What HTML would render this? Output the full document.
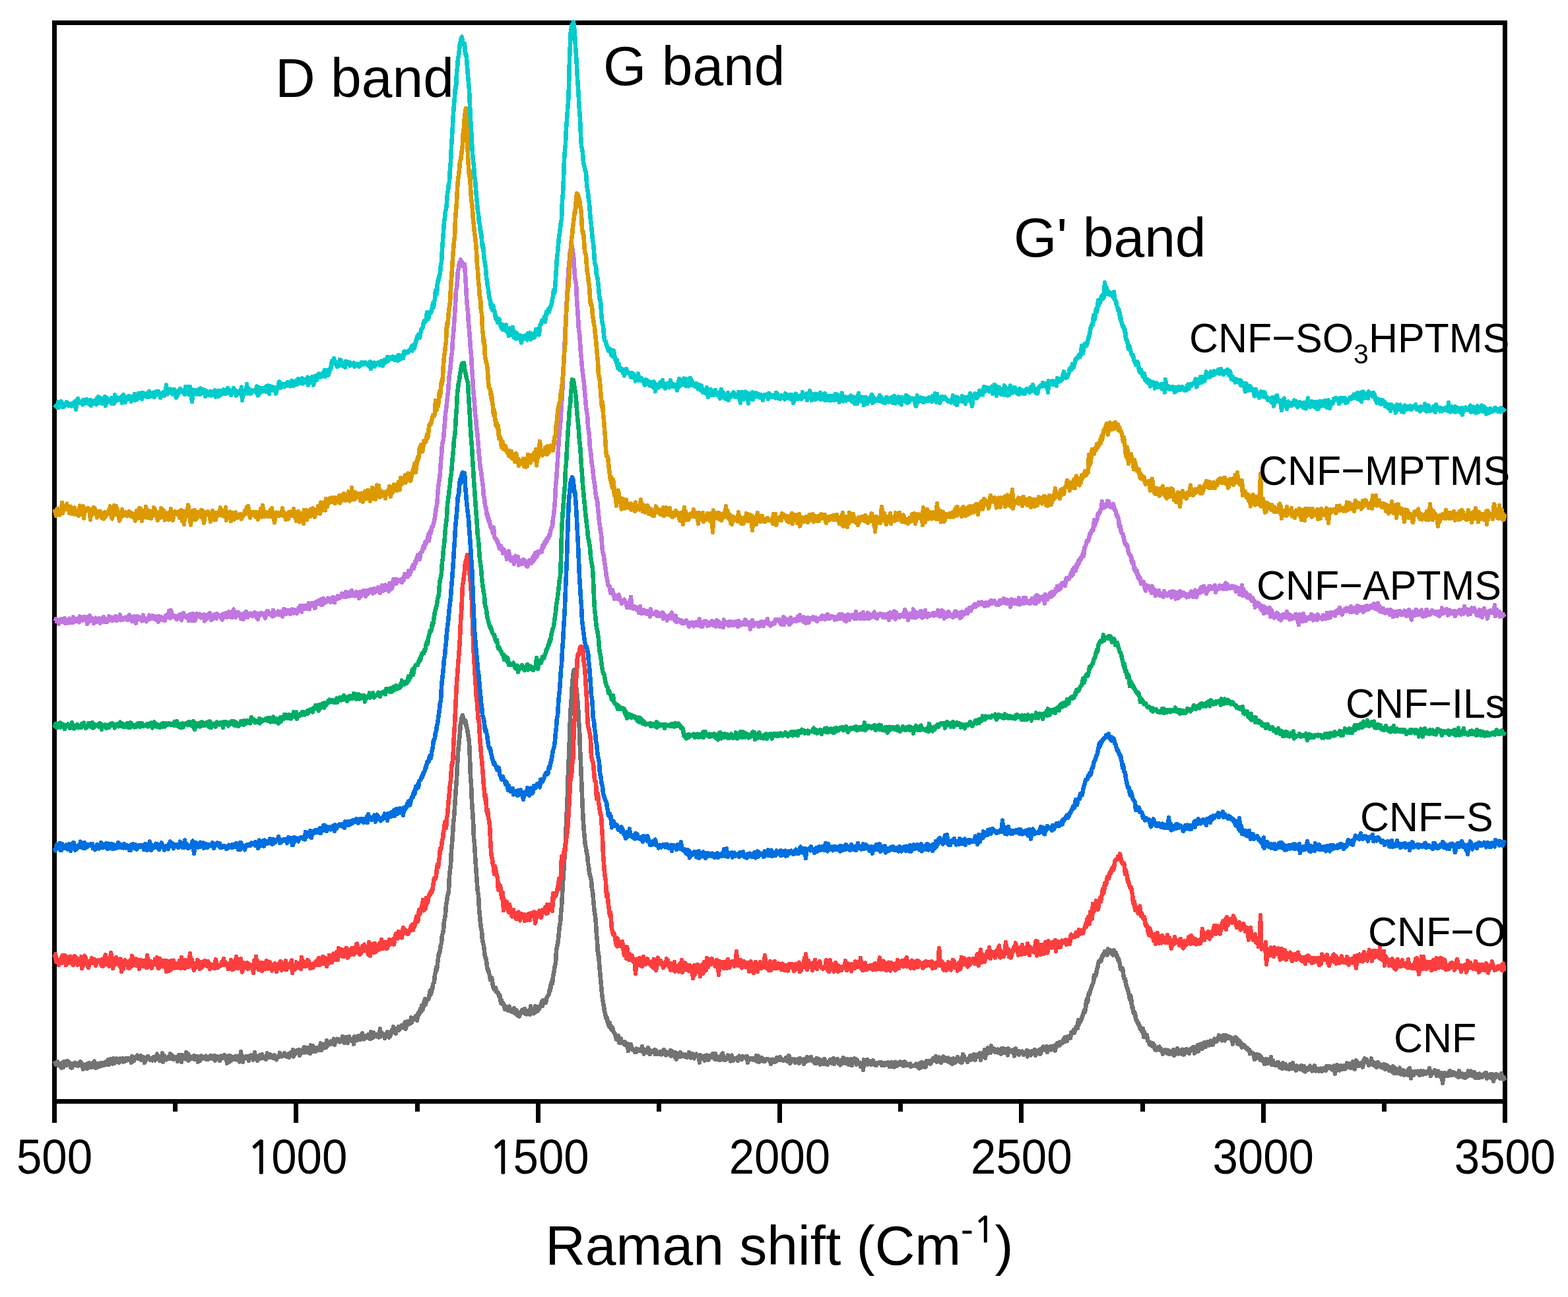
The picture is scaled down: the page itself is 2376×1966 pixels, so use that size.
<!DOCTYPE html>
<html><head><meta charset="utf-8"><title>Raman spectra</title><style>html,body{margin:0;padding:0;background:#fff;overflow:hidden}svg{display:block}</style></head><body>
<svg width="2376" height="1966" viewBox="0 0 2376 1966" font-family="'Liberation Sans', Arial, Helvetica, sans-serif" fill="#000"><rect x="0" y="0" width="2376" height="1966" fill="#fff"/><rect x="82.5" y="34.5" width="2198.0" height="1635.0" fill="none" stroke="#000" stroke-width="7" shape-rendering="crispEdges"/><path d="M82.5 1673.0 V1702.0 M265.7 1673.0 V1685.0 M448.8 1673.0 V1702.0 M632.0 1673.0 V1685.0 M815.2 1673.0 V1702.0 M998.3 1673.0 V1685.0 M1181.5 1673.0 V1702.0 M1364.7 1673.0 V1685.0 M1547.8 1673.0 V1702.0 M1731.0 1673.0 V1685.0 M1914.2 1673.0 V1702.0 M2097.3 1673.0 V1685.0 M2280.5 1673.0 V1702.0" stroke="#000" stroke-width="7" fill="none" shape-rendering="crispEdges"/><g font-size="69" transform="matrix(1 0 0 1.0625 0 -111.19)"><text x="82.5" y="1779.0" text-anchor="middle">500</text><text x="448.8" y="1779.0" text-anchor="middle"><tspan font-family="NanumGothic, 'Liberation Sans', sans-serif" font-size="64.4" stroke="#000" stroke-width="1.4" dx="1.45">1</tspan><tspan dx="-2.1">000</tspan></text><text x="815.2" y="1779.0" text-anchor="middle"><tspan font-family="NanumGothic, 'Liberation Sans', sans-serif" font-size="64.4" stroke="#000" stroke-width="1.4" dx="1.45">1</tspan><tspan dx="-2.1">500</tspan></text><text x="1181.5" y="1779.0" text-anchor="middle">2000</text><text x="1547.8" y="1779.0" text-anchor="middle">2500</text><text x="1914.2" y="1779.0" text-anchor="middle">3000</text><text x="2280.5" y="1779.0" text-anchor="middle">3500</text></g><g fill="none" stroke-width="6.6" stroke-linejoin="round" stroke-linecap="butt" shape-rendering="crispEdges"><path d="M83 1608.2 84 1612.3 85 1613.9 86 1613.3 87 1609.2 88 1615.0 89 1612.0 90 1614.2 91 1614.5 92 1615.6 93 1618.9 94 1611.0 95 1612.9 96 1617.8 97 1609.2 98 1613.9 99 1611.2 100 1613.1 101 1614.6 102 1607.9 103 1610.6 104 1609.5 105 1612.9 106 1611.6 107 1617.9 108 1612.0 109 1618.5 110 1612.6 111 1614.6 112 1614.0 113 1613.9 114 1610.8 115 1614.9 116 1615.1 117 1614.7 118 1615.8 119 1611.8 120 1613.3 121 1612.3 122 1609.4 123 1615.2 124 1612.4 125 1614.0 126 1620.5 127 1614.9 128 1614.5 129 1617.3 130 1617.7 131 1619.3 132 1612.8 133 1619.3 134 1613.9 135 1611.0 136 1611.7 137 1617.4 138 1616.4 139 1617.9 140 1611.7 141 1613.3 142 1610.9 143 1608.8 144 1614.2 145 1618.7 146 1617.4 147 1612.1 148 1617.5 149 1612.6 150 1615.0 151 1616.3 152 1612.7 153 1611.2 154 1615.4 155 1612.9 156 1611.6 157 1614.8 158 1612.2 159 1613.6 160 1609.6 161 1614.1 162 1609.1 163 1610.4 164 1606.0 165 1614.2 166 1611.0 167 1611.7 168 1605.4 169 1610.3 170 1608.5 171 1612.6 172 1604.6 173 1609.7 174 1611.4 175 1604.8 176 1608.2 177 1604.6 178 1607.6 179 1608.1 180 1610.7 181 1607.2 182 1604.6 183 1606.5 184 1606.2 185 1609.1 186 1604.3 187 1609.6 188 1606.2 189 1606.4 190 1608.4 191 1604.1 192 1604.0 193 1606.8 194 1605.1 195 1605.4 196 1604.1 197 1604.3 198 1607.5 199 1610.5 200 1601.1 201 1609.1 202 1606.9 203 1608.1 204 1605.2 205 1602.6 206 1604.0 207 1601.9 208 1599.8 209 1604.2 210 1605.1 211 1603.5 212 1604.8 213 1599.9 214 1607.1 215 1603.7 216 1604.2 217 1606.0 218 1602.4 219 1611.2 220 1607.4 221 1607.3 222 1604.2 223 1601.7 224 1605.1 225 1601.6 226 1604.3 227 1604.2 228 1607.0 229 1604.7 230 1603.9 231 1607.3 232 1603.1 233 1601.9 234 1601.9 235 1607.4 236 1603.4 237 1601.6 238 1597.7 239 1600.3 240 1604.0 241 1604.8 242 1607.8 243 1604.6 244 1604.5 245 1606.7 246 1596.6 247 1609.5 248 1599.8 249 1599.8 250 1605.6 251 1604.1 252 1606.3 253 1604.8 254 1603.8 255 1602.6 256 1600.7 257 1604.6 258 1597.5 259 1602.4 260 1605.1 261 1599.7 262 1605.3 263 1605.7 264 1603.1 265 1602.5 266 1604.5 267 1604.7 268 1602.2 269 1608.7 270 1607.2 271 1599.3 272 1606.9 273 1605.2 274 1599.1 275 1610.1 276 1599.0 277 1603.6 278 1600.0 279 1604.9 280 1604.1 281 1603.8 282 1595.1 283 1605.4 284 1603.9 285 1597.4 286 1607.5 287 1602.8 288 1601.1 289 1604.5 290 1601.8 291 1604.4 292 1602.3 293 1600.8 294 1600.2 295 1605.7 296 1603.7 297 1601.3 298 1601.9 299 1601.0 300 1609.6 301 1604.7 302 1604.1 303 1607.9 304 1601.8 305 1600.6 306 1602.3 307 1604.2 308 1603.2 309 1602.8 310 1604.2 311 1602.5 312 1600.7 313 1605.9 314 1603.1 315 1603.0 316 1605.3 317 1605.1 318 1600.7 319 1601.8 320 1600.0 321 1600.6 322 1604.8 323 1602.6 324 1601.3 325 1600.3 326 1607.6 327 1602.9 328 1604.7 329 1603.8 330 1601.4 331 1605.3 332 1604.4 333 1607.8 334 1605.8 335 1600.6 336 1603.8 337 1603.8 338 1603.9 339 1600.6 340 1599.4 341 1603.8 342 1605.1 343 1600.8 344 1611.6 345 1606.0 346 1602.8 347 1609.9 348 1599.9 349 1601.3 350 1601.1 351 1607.4 352 1602.1 353 1606.2 354 1604.8 355 1602.5 356 1604.5 357 1600.8 358 1606.4 359 1601.3 360 1601.6 361 1606.0 362 1602.7 363 1609.3 364 1607.9 365 1594.2 366 1604.4 367 1603.5 368 1609.9 369 1602.3 370 1602.1 371 1603.3 372 1603.2 373 1601.2 374 1604.5 375 1602.2 376 1601.3 377 1607.9 378 1604.0 379 1600.6 380 1599.7 381 1602.6 382 1600.0 383 1599.8 384 1606.5 385 1602.9 386 1595.0 387 1603.8 388 1601.6 389 1603.4 390 1608.2 391 1603.0 392 1601.4 393 1599.8 394 1604.7 395 1602.4 396 1604.0 397 1598.3 398 1601.7 399 1603.0 400 1604.1 401 1603.3 402 1601.8 403 1606.1 404 1602.4 405 1596.6 406 1598.8 407 1602.1 408 1602.9 409 1598.4 410 1598.7 411 1603.1 412 1602.7 413 1603.0 414 1603.9 415 1602.0 416 1599.5 417 1605.2 418 1604.5 419 1606.3 420 1602.7 421 1601.7 422 1601.8 423 1601.9 424 1595.8 425 1600.4 426 1599.0 427 1601.5 428 1601.2 429 1599.3 430 1598.7 431 1596.0 432 1600.4 433 1598.1 434 1598.2 435 1602.0 436 1601.7 437 1597.6 438 1603.0 439 1600.1 440 1598.0 441 1595.1 442 1594.9 443 1599.7 444 1591.4 445 1601.4 446 1598.3 447 1595.1 448 1597.0 449 1596.3 450 1591.9 451 1593.2 452 1591.8 453 1591.2 454 1599.9 455 1594.5 456 1593.4 457 1596.6 458 1595.1 459 1591.3 460 1590.2 461 1587.3 462 1595.3 463 1591.7 464 1594.8 465 1592.1 466 1588.0 467 1590.0 468 1595.8 469 1589.7 470 1596.8 471 1584.4 472 1588.6 473 1593.4 474 1585.2 475 1593.4 476 1588.8 477 1588.3 478 1593.9 479 1588.1 480 1592.5 481 1588.1 482 1590.0 483 1591.6 484 1589.8 485 1587.4 486 1581.3 487 1592.1 488 1585.1 489 1589.6 490 1583.0 491 1583.4 492 1584.2 493 1583.1 494 1588.1 495 1577.1 496 1585.6 497 1581.9 498 1582.1 499 1580.7 500 1580.9 501 1583.0 502 1578.3 503 1578.0 504 1579.0 505 1581.1 506 1574.8 507 1584.0 508 1577.5 509 1576.5 510 1577.1 511 1574.8 512 1575.1 513 1576.6 514 1578.7 515 1579.3 516 1575.9 517 1576.0 518 1578.0 519 1571.2 520 1575.9 521 1579.3 522 1580.8 523 1575.5 524 1572.0 525 1574.1 526 1579.1 527 1581.2 528 1574.9 529 1571.0 530 1575.6 531 1577.2 532 1577.4 533 1575.8 534 1575.6 535 1574.5 536 1582.5 537 1571.3 538 1578.3 539 1577.2 540 1576.2 541 1571.6 542 1576.3 543 1570.1 544 1573.5 545 1574.0 546 1576.0 547 1571.1 548 1570.7 549 1565.9 550 1572.7 551 1569.4 552 1575.2 553 1570.6 554 1573.4 555 1570.8 556 1571.7 557 1571.1 558 1568.2 559 1573.8 560 1568.9 561 1574.8 562 1564.2 563 1569.6 564 1573.2 565 1573.2 566 1565.2 567 1571.1 568 1570.9 569 1571.1 570 1569.1 571 1567.9 572 1570.5 573 1571.4 574 1572.5 575 1569.3 576 1559.5 577 1571.3 578 1565.2 579 1566.9 580 1567.0 581 1568.6 582 1568.9 583 1573.8 584 1569.9 585 1570.6 586 1566.5 587 1564.4 588 1566.2 589 1565.5 590 1572.5 591 1570.5 592 1568.3 593 1565.1 594 1561.1 595 1563.2 596 1556.5 597 1560.6 598 1563.3 599 1566.3 600 1566.4 601 1559.4 602 1559.6 603 1559.6 604 1556.2 605 1561.3 606 1558.5 607 1556.8 608 1557.6 609 1554.2 610 1554.4 611 1558.1 612 1556.8 613 1553.9 614 1548.9 615 1559.4 616 1553.1 617 1553.9 618 1547.9 619 1551.7 620 1551.1 621 1549.7 622 1551.4 623 1542.5 624 1550.1 625 1544.9 626 1543.7 627 1544.2 628 1544.6 629 1542.9 630 1540.2 631 1541.7 632 1546.8 633 1539.3 634 1535.0 635 1538.0 636 1535.6 637 1529.3 638 1533.4 639 1524.5 640 1528.1 641 1530.3 642 1520.1 643 1520.5 644 1514.1 645 1522.5 646 1515.2 647 1515.4 648 1515.3 649 1515.3 650 1512.8 651 1506.2 652 1501.1 653 1507.1 654 1501.8 655 1499.9 656 1492.4 657 1489.7 658 1489.0 659 1476.4 660 1475.3 661 1466.7 662 1469.7 663 1461.2 664 1452.7 665 1445.3 666 1444.5 667 1438.9 668 1432.1 669 1430.1 670 1417.1 671 1415.1 672 1409.7 673 1396.0 674 1392.3 675 1386.6 676 1371.4 677 1366.8 678 1358.1 679 1355.4 680 1350.0 681 1327.3 682 1318.5 683 1311.4 684 1288.5 685 1278.4 686 1264.7 687 1248.3 688 1239.1 689 1224.2 690 1208.9 691 1193.4 692 1180.4 693 1159.4 694 1141.6 695 1130.4 696 1120.9 697 1110.2 698 1095.6 699 1095.2 700 1085.8 701 1084.1 702 1089.1 703 1092.3 704 1095.8 705 1091.8 706 1096.2 707 1103.2 708 1104.2 709 1112.7 710 1117.8 711 1125.4 712 1149.6 713 1178.4 714 1188.9 715 1215.5 716 1229.5 717 1244.2 718 1270.2 719 1278.9 720 1296.4 721 1312.4 722 1326.0 723 1341.1 724 1352.7 725 1356.3 726 1377.5 727 1388.3 728 1398.7 729 1407.6 730 1410.9 731 1425.1 732 1428.9 733 1433.9 734 1441.7 735 1450.8 736 1451.4 737 1456.1 738 1465.3 739 1470.6 740 1470.0 741 1475.6 742 1478.4 743 1485.2 744 1485.1 745 1481.8 746 1487.0 747 1495.1 748 1497.6 749 1499.5 750 1497.1 751 1497.0 752 1503.3 753 1502.8 754 1504.2 755 1504.8 756 1509.7 757 1508.2 758 1511.6 759 1520.2 760 1516.3 761 1521.9 762 1520.6 763 1522.7 764 1523.2 765 1530.0 766 1525.7 767 1526.4 768 1527.0 769 1526.1 770 1531.7 771 1526.9 772 1525.7 773 1531.5 774 1532.8 775 1533.5 776 1533.5 777 1533.3 778 1529.3 779 1528.3 780 1535.6 781 1534.9 782 1537.4 783 1531.4 784 1538.5 785 1535.5 786 1536.4 787 1540.6 788 1535.0 789 1534.5 790 1533.8 791 1530.8 792 1534.5 793 1530.6 794 1531.6 795 1529.4 796 1536.5 797 1533.9 798 1537.5 799 1532.3 800 1532.7 801 1531.6 802 1530.8 803 1538.1 804 1525.2 805 1536.5 806 1536.0 807 1531.2 808 1532.6 809 1536.2 810 1531.5 811 1525.2 812 1528.6 813 1533.7 814 1526.7 815 1532.3 816 1527.0 817 1529.6 818 1525.4 819 1524.1 820 1524.3 821 1518.4 822 1525.1 823 1516.4 824 1521.1 825 1516.6 826 1519.0 827 1519.7 828 1514.0 829 1510.8 830 1510.0 831 1507.9 832 1506.3 833 1499.4 834 1500.6 835 1490.4 836 1488.5 837 1490.6 838 1479.9 839 1476.2 840 1469.6 841 1462.7 842 1460.3 843 1441.5 844 1435.2 845 1430.8 846 1423.8 847 1413.1 848 1403.7 849 1398.6 850 1384.9 851 1374.5 852 1356.4 853 1337.5 854 1323.7 855 1306.3 856 1288.8 857 1275.3 858 1247.8 859 1227.2 860 1204.3 861 1168.4 862 1147.1 863 1119.9 864 1089.7 865 1068.8 866 1057.8 867 1037.4 868 1026.7 869 1018.4 870 1014.9 871 1025.3 872 1031.8 873 1039.8 874 1049.3 875 1059.2 876 1071.5 877 1093.5 878 1105.1 879 1135.7 880 1156.4 881 1179.9 882 1205.8 883 1228.9 884 1247.6 885 1260.9 886 1271.7 887 1281.6 888 1285.7 889 1292.9 890 1296.1 891 1307.7 892 1313.2 893 1323.0 894 1326.8 895 1330.5 896 1334.0 897 1348.8 898 1350.0 899 1362.4 900 1374.0 901 1383.5 902 1388.8 903 1399.9 904 1416.9 905 1427.0 906 1446.5 907 1444.5 908 1459.4 909 1472.3 910 1483.0 911 1493.9 912 1505.1 913 1513.8 914 1519.9 915 1525.3 916 1533.6 917 1535.2 918 1542.5 919 1541.7 920 1543.5 921 1550.8 922 1552.8 923 1555.8 924 1550.4 925 1557.6 926 1560.4 927 1559.0 928 1557.5 929 1561.5 930 1565.3 931 1565.6 932 1567.2 933 1571.3 934 1575.6 935 1576.0 936 1570.6 937 1569.9 938 1580.5 939 1581.0 940 1578.0 941 1574.7 942 1580.7 943 1579.6 944 1579.5 945 1581.9 946 1583.4 947 1579.4 948 1580.9 949 1585.0 950 1585.8 951 1582.0 952 1593.2 953 1590.6 954 1589.3 955 1590.0 956 1582.9 957 1589.3 958 1591.0 959 1590.1 960 1591.1 961 1592.1 962 1595.0 963 1594.0 964 1589.7 965 1594.4 966 1590.3 967 1592.3 968 1592.8 969 1592.1 970 1591.7 971 1593.2 972 1593.5 973 1585.9 974 1592.6 975 1590.8 976 1597.4 977 1593.8 978 1591.3 979 1594.8 980 1594.0 981 1595.3 982 1588.1 983 1593.0 984 1591.3 985 1598.2 986 1593.8 987 1593.7 988 1594.2 989 1594.3 990 1593.3 991 1592.1 992 1591.2 993 1598.2 994 1592.2 995 1596.4 996 1597.6 997 1596.9 998 1595.3 999 1597.2 1000 1594.0 1001 1594.7 1002 1598.4 1003 1597.8 1004 1592.9 1005 1596.2 1006 1590.9 1007 1595.1 1008 1594.6 1009 1599.5 1010 1594.4 1011 1597.4 1012 1597.6 1013 1597.9 1014 1597.9 1015 1599.0 1016 1592.0 1017 1600.8 1018 1593.0 1019 1595.7 1020 1595.7 1021 1599.9 1022 1595.6 1023 1602.9 1024 1595.4 1025 1605.6 1026 1600.2 1027 1600.9 1028 1599.6 1029 1601.2 1030 1596.7 1031 1594.9 1032 1601.4 1033 1600.9 1034 1598.6 1035 1598.5 1036 1598.8 1037 1599.8 1038 1602.0 1039 1598.6 1040 1600.5 1041 1603.1 1042 1599.3 1043 1601.6 1044 1595.1 1045 1600.2 1046 1599.4 1047 1603.5 1048 1599.3 1049 1597.1 1050 1601.1 1051 1599.0 1052 1604.3 1053 1601.8 1054 1599.5 1055 1597.7 1056 1600.9 1057 1600.3 1058 1600.6 1059 1601.3 1060 1610.6 1061 1599.0 1062 1601.8 1063 1603.7 1064 1604.8 1065 1601.1 1066 1602.3 1067 1600.9 1068 1607.4 1069 1600.0 1070 1602.6 1071 1599.7 1072 1603.9 1073 1600.0 1074 1606.4 1075 1600.5 1076 1601.8 1077 1602.0 1078 1603.1 1079 1600.5 1080 1597.3 1081 1597.1 1082 1601.7 1083 1605.5 1084 1597.1 1085 1603.9 1086 1605.5 1087 1604.5 1088 1602.4 1089 1604.3 1090 1606.8 1091 1606.9 1092 1604.3 1093 1599.3 1094 1601.5 1095 1596.5 1096 1606.2 1097 1603.2 1098 1607.1 1099 1607.2 1100 1603.0 1101 1605.4 1102 1603.4 1103 1599.5 1104 1604.9 1105 1604.3 1106 1604.4 1107 1608.4 1108 1601.3 1109 1599.6 1110 1606.6 1111 1607.4 1112 1605.8 1113 1604.4 1114 1605.0 1115 1604.9 1116 1604.7 1117 1603.5 1118 1607.8 1119 1602.9 1120 1600.8 1121 1604.6 1122 1602.6 1123 1602.1 1124 1606.2 1125 1601.4 1126 1602.0 1127 1603.0 1128 1602.3 1129 1603.6 1130 1603.9 1131 1601.3 1132 1601.1 1133 1610.7 1134 1605.6 1135 1603.9 1136 1606.5 1137 1605.7 1138 1605.5 1139 1604.2 1140 1604.5 1141 1604.1 1142 1607.1 1143 1604.5 1144 1606.7 1145 1606.9 1146 1600.4 1147 1608.7 1148 1606.2 1149 1600.7 1150 1609.7 1151 1608.4 1152 1606.5 1153 1604.0 1154 1603.3 1155 1605.4 1156 1604.6 1157 1608.7 1158 1607.7 1159 1609.0 1160 1606.6 1161 1605.7 1162 1605.5 1163 1605.4 1164 1605.7 1165 1607.2 1166 1606.9 1167 1606.3 1168 1613.1 1169 1606.7 1170 1607.3 1171 1605.9 1172 1609.3 1173 1608.9 1174 1606.8 1175 1609.5 1176 1608.4 1177 1603.1 1178 1603.2 1179 1604.1 1180 1607.1 1181 1604.7 1182 1602.4 1183 1605.1 1184 1606.7 1185 1606.6 1186 1607.3 1187 1606.5 1188 1607.4 1189 1606.4 1190 1604.8 1191 1603.3 1192 1606.9 1193 1608.6 1194 1605.4 1195 1599.9 1196 1601.4 1197 1612.0 1198 1611.2 1199 1605.7 1200 1605.3 1201 1606.6 1202 1607.8 1203 1608.3 1204 1605.8 1205 1611.0 1206 1609.9 1207 1606.3 1208 1609.0 1209 1605.8 1210 1607.4 1211 1611.7 1212 1604.1 1213 1606.2 1214 1606.4 1215 1606.9 1216 1608.6 1217 1607.6 1218 1612.9 1219 1605.4 1220 1610.1 1221 1606.9 1222 1609.1 1223 1602.3 1224 1607.2 1225 1606.5 1226 1607.4 1227 1605.3 1228 1606.5 1229 1602.0 1230 1607.4 1231 1605.8 1232 1607.5 1233 1606.0 1234 1611.3 1235 1607.9 1236 1608.1 1237 1611.9 1238 1603.8 1239 1609.0 1240 1604.9 1241 1606.3 1242 1606.6 1243 1613.7 1244 1606.8 1245 1610.9 1246 1610.6 1247 1612.9 1248 1608.4 1249 1605.4 1250 1605.8 1251 1613.2 1252 1611.0 1253 1613.4 1254 1613.7 1255 1610.3 1256 1609.3 1257 1611.0 1258 1605.8 1259 1608.5 1260 1609.4 1261 1611.6 1262 1604.7 1263 1603.9 1264 1612.8 1265 1611.2 1266 1608.4 1267 1608.2 1268 1609.6 1269 1605.2 1270 1607.4 1271 1612.5 1272 1612.6 1273 1614.3 1274 1611.1 1275 1613.2 1276 1605.9 1277 1606.0 1278 1603.5 1279 1605.9 1280 1604.7 1281 1611.8 1282 1612.0 1283 1606.1 1284 1605.5 1285 1612.8 1286 1613.8 1287 1606.7 1288 1610.9 1289 1614.2 1290 1605.6 1291 1614.7 1292 1610.6 1293 1611.0 1294 1609.4 1295 1604.4 1296 1609.0 1297 1607.7 1298 1613.5 1299 1606.6 1300 1610.2 1301 1610.8 1302 1612.3 1303 1610.9 1304 1616.6 1305 1612.2 1306 1611.5 1307 1611.4 1308 1622.1 1309 1606.6 1310 1608.8 1311 1611.1 1312 1608.9 1313 1611.4 1314 1605.9 1315 1613.5 1316 1612.0 1317 1611.5 1318 1608.4 1319 1613.5 1320 1613.9 1321 1610.0 1322 1611.2 1323 1607.4 1324 1612.1 1325 1611.7 1326 1614.5 1327 1613.0 1328 1615.0 1329 1611.3 1330 1612.3 1331 1611.3 1332 1611.9 1333 1610.1 1334 1611.6 1335 1610.3 1336 1615.1 1337 1613.2 1338 1612.6 1339 1611.0 1340 1615.1 1341 1612.6 1342 1613.8 1343 1611.1 1344 1613.3 1345 1610.6 1346 1610.7 1347 1611.0 1348 1617.2 1349 1613.0 1350 1616.8 1351 1610.2 1352 1613.8 1353 1613.9 1354 1613.8 1355 1617.5 1356 1617.2 1357 1609.8 1358 1615.2 1359 1615.6 1360 1612.8 1361 1612.2 1362 1610.9 1363 1613.9 1364 1609.6 1365 1612.8 1366 1613.8 1367 1611.5 1368 1610.3 1369 1615.7 1370 1613.1 1371 1609.4 1372 1613.1 1373 1614.7 1374 1612.1 1375 1615.0 1376 1614.4 1377 1614.9 1378 1612.9 1379 1612.5 1380 1616.8 1381 1614.7 1382 1615.2 1383 1615.8 1384 1615.1 1385 1615.2 1386 1615.1 1387 1614.4 1388 1612.6 1389 1616.4 1390 1615.0 1391 1613.4 1392 1616.6 1393 1619.5 1394 1611.8 1395 1614.9 1396 1617.8 1397 1610.3 1398 1613.9 1399 1613.4 1400 1611.7 1401 1617.4 1402 1614.8 1403 1617.2 1404 1607.9 1405 1611.5 1406 1608.3 1407 1611.5 1408 1608.7 1409 1609.8 1410 1612.5 1411 1610.1 1412 1606.7 1413 1606.6 1414 1604.2 1415 1608.1 1416 1604.3 1417 1603.7 1418 1601.0 1419 1604.9 1420 1609.6 1421 1603.0 1422 1603.0 1423 1602.7 1424 1604.4 1425 1605.2 1426 1610.9 1427 1607.7 1428 1605.0 1429 1601.7 1430 1608.2 1431 1606.1 1432 1602.9 1433 1605.9 1434 1605.4 1435 1608.5 1436 1606.8 1437 1603.6 1438 1606.8 1439 1610.4 1440 1607.3 1441 1605.3 1442 1605.0 1443 1613.1 1444 1610.2 1445 1604.4 1446 1608.5 1447 1610.6 1448 1609.4 1449 1606.7 1450 1606.9 1451 1601.8 1452 1606.5 1453 1606.7 1454 1609.3 1455 1606.3 1456 1605.3 1457 1611.1 1458 1609.3 1459 1598.1 1460 1600.4 1461 1601.2 1462 1605.5 1463 1605.6 1464 1605.1 1465 1607.6 1466 1610.0 1467 1606.9 1468 1605.3 1469 1605.0 1470 1600.0 1471 1606.4 1472 1602.9 1473 1605.9 1474 1599.7 1475 1601.9 1476 1597.9 1477 1601.3 1478 1606.7 1479 1599.6 1480 1600.1 1481 1599.7 1482 1601.7 1483 1597.6 1484 1598.7 1485 1595.9 1486 1606.9 1487 1597.1 1488 1597.8 1489 1599.5 1490 1597.6 1491 1596.1 1492 1591.0 1493 1604.1 1494 1594.4 1495 1593.9 1496 1596.8 1497 1588.4 1498 1593.2 1499 1589.7 1500 1591.0 1501 1595.9 1502 1585.4 1503 1590.5 1504 1592.5 1505 1588.8 1506 1591.9 1507 1590.6 1508 1595.1 1509 1590.8 1510 1592.2 1511 1591.6 1512 1590.6 1513 1596.0 1514 1592.7 1515 1592.5 1516 1593.7 1517 1597.6 1518 1589.4 1519 1595.8 1520 1589.2 1521 1591.8 1522 1594.3 1523 1595.8 1524 1590.1 1525 1595.9 1526 1594.6 1527 1599.4 1528 1589.4 1529 1594.6 1530 1592.0 1531 1592.4 1532 1593.5 1533 1592.2 1534 1595.2 1535 1594.3 1536 1591.3 1537 1600.7 1538 1594.5 1539 1589.5 1540 1593.9 1541 1594.9 1542 1594.1 1543 1593.4 1544 1598.7 1545 1593.7 1546 1594.1 1547 1594.0 1548 1594.5 1549 1593.8 1550 1596.1 1551 1598.9 1552 1596.3 1553 1596.4 1554 1596.0 1555 1594.7 1556 1592.1 1557 1601.4 1558 1595.5 1559 1593.6 1560 1596.4 1561 1595.6 1562 1599.4 1563 1597.2 1564 1592.9 1565 1594.4 1566 1593.3 1567 1595.1 1568 1591.0 1569 1599.9 1570 1596.1 1571 1595.3 1572 1595.3 1573 1596.0 1574 1591.7 1575 1592.5 1576 1597.9 1577 1597.1 1578 1589.7 1579 1591.1 1580 1591.2 1581 1586.6 1582 1589.7 1583 1590.9 1584 1592.1 1585 1589.8 1586 1585.9 1587 1594.8 1588 1587.0 1589 1591.5 1590 1590.9 1591 1586.7 1592 1591.4 1593 1586.5 1594 1587.9 1595 1590.7 1596 1588.2 1597 1585.3 1598 1586.0 1599 1592.6 1600 1584.2 1601 1585.4 1602 1581.0 1603 1585.0 1604 1581.7 1605 1584.9 1606 1579.6 1607 1583.3 1608 1581.1 1609 1581.3 1610 1581.2 1611 1575.8 1612 1576.1 1613 1572.7 1614 1576.8 1615 1578.5 1616 1572.6 1617 1577.8 1618 1571.5 1619 1573.4 1620 1572.0 1621 1571.1 1622 1573.6 1623 1565.3 1624 1564.6 1625 1564.6 1626 1565.3 1627 1560.9 1628 1565.6 1629 1560.6 1630 1559.0 1631 1556.5 1632 1558.8 1633 1558.6 1634 1546.3 1635 1552.9 1636 1546.7 1637 1549.0 1638 1546.5 1639 1544.7 1640 1541.4 1641 1538.1 1642 1535.6 1643 1531.0 1644 1534.1 1645 1528.4 1646 1518.9 1647 1514.0 1648 1519.3 1649 1510.8 1650 1504.9 1651 1507.2 1652 1501.8 1653 1499.8 1654 1495.5 1655 1492.8 1656 1491.3 1657 1489.0 1658 1478.3 1659 1480.4 1660 1479.4 1661 1477.0 1662 1469.9 1663 1467.4 1664 1462.3 1665 1456.8 1666 1457.4 1667 1458.1 1668 1454.4 1669 1455.7 1670 1449.0 1671 1450.0 1672 1446.5 1673 1446.6 1674 1442.2 1675 1443.0 1676 1442.8 1677 1443.3 1678 1447.7 1679 1438.7 1680 1444.3 1681 1439.9 1682 1441.9 1683 1440.8 1684 1441.5 1685 1445.7 1686 1441.0 1687 1447.4 1688 1440.5 1689 1444.8 1690 1444.8 1691 1444.1 1692 1449.7 1693 1448.7 1694 1454.9 1695 1452.9 1696 1458.4 1697 1461.2 1698 1468.4 1699 1467.6 1700 1467.6 1701 1467.8 1702 1475.3 1703 1482.5 1704 1484.3 1705 1484.3 1706 1490.5 1707 1495.4 1708 1496.8 1709 1501.2 1710 1504.3 1711 1508.5 1712 1514.7 1713 1508.7 1714 1511.6 1715 1525.5 1716 1524.7 1717 1532.2 1718 1536.2 1719 1533.8 1720 1537.4 1721 1543.8 1722 1546.7 1723 1547.4 1724 1551.3 1725 1550.6 1726 1555.1 1727 1555.0 1728 1560.3 1729 1558.2 1730 1562.0 1731 1564.4 1732 1559.1 1733 1571.5 1734 1564.2 1735 1569.4 1736 1570.6 1737 1572.7 1738 1568.8 1739 1577.5 1740 1578.0 1741 1578.8 1742 1583.5 1743 1584.0 1744 1580.7 1745 1580.8 1746 1586.2 1747 1581.5 1748 1584.5 1749 1584.0 1750 1590.6 1751 1588.2 1752 1591.9 1753 1591.5 1754 1587.6 1755 1590.8 1756 1588.7 1757 1586.8 1758 1592.2 1759 1589.6 1760 1592.5 1761 1592.5 1762 1597.6 1763 1592.6 1764 1592.3 1765 1593.8 1766 1591.4 1767 1595.1 1768 1596.3 1769 1593.6 1770 1591.9 1771 1593.3 1772 1597.8 1773 1593.7 1774 1595.7 1775 1593.7 1776 1593.7 1777 1598.0 1778 1591.1 1779 1599.9 1780 1596.7 1781 1598.1 1782 1594.3 1783 1592.6 1784 1588.9 1785 1593.9 1786 1597.3 1787 1596.1 1788 1596.2 1789 1592.4 1790 1597.5 1791 1597.7 1792 1590.8 1793 1591.0 1794 1598.6 1795 1595.7 1796 1596.3 1797 1592.5 1798 1590.3 1799 1592.5 1800 1592.7 1801 1595.9 1802 1596.8 1803 1590.8 1804 1593.3 1805 1589.5 1806 1589.9 1807 1589.8 1808 1587.1 1809 1587.2 1810 1596.5 1811 1587.0 1812 1594.1 1813 1587.5 1814 1590.0 1815 1584.4 1816 1593.7 1817 1589.4 1818 1583.6 1819 1587.1 1820 1588.7 1821 1582.4 1822 1589.7 1823 1584.6 1824 1584.8 1825 1580.3 1826 1582.7 1827 1586.9 1828 1583.2 1829 1581.2 1830 1579.4 1831 1579.9 1832 1584.4 1833 1580.5 1834 1577.7 1835 1583.3 1836 1579.7 1837 1583.8 1838 1583.5 1839 1579.0 1840 1574.7 1841 1575.4 1842 1579.1 1843 1579.2 1844 1575.2 1845 1577.1 1846 1574.7 1847 1569.4 1848 1575.2 1849 1572.9 1850 1573.0 1851 1571.3 1852 1577.2 1853 1572.7 1854 1568.9 1855 1571.6 1856 1577.3 1857 1571.1 1858 1569.6 1859 1572.7 1860 1573.5 1861 1573.6 1862 1571.1 1863 1572.0 1864 1572.2 1865 1575.2 1866 1572.9 1867 1575.1 1868 1582.6 1869 1574.8 1870 1574.9 1871 1574.9 1872 1572.0 1873 1578.0 1874 1574.0 1875 1581.4 1876 1575.7 1877 1582.4 1878 1577.4 1879 1581.9 1880 1579.7 1881 1585.4 1882 1587.5 1883 1583.1 1884 1583.7 1885 1584.2 1886 1585.6 1887 1587.1 1888 1588.8 1889 1590.4 1890 1588.6 1891 1590.9 1892 1591.2 1893 1591.3 1894 1597.2 1895 1593.7 1896 1595.6 1897 1596.6 1898 1597.3 1899 1596.8 1900 1599.0 1901 1606.1 1902 1598.4 1903 1598.8 1904 1603.8 1905 1598.0 1906 1603.8 1907 1600.9 1908 1600.8 1909 1599.7 1910 1606.6 1911 1601.8 1912 1606.0 1913 1604.9 1914 1608.8 1915 1605.6 1916 1612.4 1917 1610.2 1918 1612.2 1919 1605.1 1920 1610.1 1921 1606.7 1922 1611.7 1923 1606.3 1924 1606.3 1925 1608.4 1926 1601.9 1927 1613.7 1928 1612.6 1929 1607.5 1930 1613.4 1931 1613.9 1932 1614.6 1933 1612.3 1934 1610.9 1935 1610.6 1936 1615.0 1937 1610.0 1938 1611.9 1939 1618.0 1940 1618.3 1941 1617.4 1942 1614.2 1943 1619.8 1944 1611.2 1945 1613.3 1946 1616.0 1947 1618.4 1948 1613.0 1949 1619.5 1950 1616.7 1951 1616.9 1952 1616.0 1953 1621.2 1954 1615.5 1955 1613.5 1956 1619.0 1957 1619.9 1958 1618.8 1959 1611.3 1960 1619.8 1961 1617.1 1962 1615.5 1963 1620.5 1964 1622.5 1965 1615.7 1966 1618.7 1967 1616.5 1968 1619.2 1969 1616.9 1970 1621.0 1971 1617.8 1972 1615.0 1973 1620.5 1974 1620.1 1975 1622.9 1976 1616.1 1977 1619.6 1978 1624.4 1979 1619.1 1980 1622.1 1981 1620.8 1982 1621.4 1983 1617.8 1984 1616.7 1985 1615.8 1986 1617.6 1987 1621.3 1988 1623.4 1989 1618.3 1990 1620.7 1991 1622.3 1992 1615.4 1993 1619.3 1994 1623.5 1995 1621.3 1996 1620.2 1997 1620.9 1998 1619.9 1999 1623.6 2000 1621.4 2001 1619.6 2002 1623.3 2003 1623.6 2004 1619.9 2005 1621.7 2006 1619.1 2007 1618.9 2008 1621.7 2009 1622.6 2010 1616.3 2011 1620.4 2012 1618.5 2013 1617.7 2014 1616.4 2015 1616.1 2016 1616.5 2017 1619.8 2018 1620.3 2019 1621.4 2020 1617.4 2021 1615.8 2022 1618.2 2023 1627.6 2024 1617.5 2025 1615.5 2026 1614.2 2027 1618.8 2028 1621.9 2029 1617.0 2030 1622.3 2031 1616.0 2032 1615.0 2033 1616.6 2034 1620.8 2035 1616.2 2036 1615.7 2037 1616.8 2038 1620.5 2039 1618.0 2040 1617.4 2041 1611.4 2042 1615.5 2043 1617.1 2044 1618.0 2045 1618.0 2046 1611.9 2047 1618.7 2048 1613.1 2049 1619.0 2050 1609.3 2051 1616.8 2052 1614.3 2053 1620.6 2054 1613.9 2055 1607.4 2056 1614.9 2057 1611.8 2058 1610.6 2059 1616.2 2060 1614.1 2061 1612.2 2062 1611.5 2063 1612.1 2064 1615.8 2065 1617.5 2066 1608.9 2067 1606.5 2068 1604.5 2069 1606.3 2070 1609.6 2071 1605.8 2072 1608.8 2073 1608.5 2074 1615.0 2075 1609.4 2076 1611.1 2077 1612.7 2078 1604.6 2079 1613.3 2080 1611.3 2081 1612.8 2082 1610.7 2083 1615.4 2084 1611.5 2085 1613.4 2086 1617.6 2087 1617.2 2088 1610.0 2089 1612.2 2090 1614.1 2091 1613.6 2092 1614.8 2093 1617.7 2094 1614.1 2095 1617.6 2096 1618.9 2097 1613.4 2098 1614.1 2099 1620.9 2100 1615.0 2101 1614.6 2102 1617.3 2103 1615.7 2104 1618.2 2105 1623.2 2106 1620.5 2107 1620.6 2108 1618.1 2109 1617.5 2110 1625.0 2111 1616.5 2112 1619.2 2113 1627.2 2114 1622.8 2115 1619.7 2116 1627.0 2117 1622.5 2118 1623.9 2119 1627.1 2120 1622.5 2121 1618.7 2122 1624.4 2123 1628.4 2124 1625.6 2125 1625.8 2126 1622.3 2127 1625.5 2128 1629.6 2129 1628.5 2130 1624.6 2131 1628.3 2132 1624.4 2133 1629.4 2134 1621.5 2135 1625.7 2136 1618.9 2137 1624.5 2138 1634.4 2139 1624.9 2140 1630.0 2141 1627.2 2142 1630.1 2143 1624.4 2144 1624.5 2145 1625.6 2146 1626.2 2147 1623.9 2148 1627.5 2149 1623.8 2150 1627.9 2151 1629.9 2152 1623.8 2153 1623.4 2154 1628.6 2155 1626.8 2156 1628.9 2157 1623.5 2158 1625.3 2159 1627.8 2160 1624.8 2161 1627.4 2162 1626.8 2163 1624.4 2164 1625.8 2165 1624.1 2166 1618.9 2167 1624.9 2168 1631.2 2169 1626.7 2170 1627.8 2171 1625.3 2172 1625.7 2173 1627.0 2174 1621.8 2175 1622.8 2176 1624.0 2177 1630.7 2178 1629.0 2179 1623.5 2180 1625.2 2181 1629.0 2182 1626.3 2183 1632.3 2184 1628.6 2185 1626.6 2186 1641.8 2187 1630.2 2188 1628.5 2189 1626.3 2190 1630.6 2191 1630.7 2192 1627.4 2193 1630.7 2194 1630.8 2195 1630.0 2196 1624.2 2197 1623.2 2198 1628.5 2199 1630.1 2200 1628.0 2201 1625.6 2202 1629.2 2203 1625.5 2204 1626.1 2205 1628.3 2206 1630.3 2207 1630.4 2208 1627.7 2209 1628.4 2210 1632.8 2211 1623.5 2212 1629.4 2213 1630.5 2214 1631.6 2215 1629.1 2216 1627.8 2217 1633.1 2218 1628.2 2219 1629.2 2220 1634.2 2221 1630.2 2222 1628.6 2223 1627.5 2224 1631.6 2225 1623.5 2226 1627.9 2227 1629.5 2228 1630.1 2229 1623.7 2230 1628.3 2231 1630.8 2232 1626.7 2233 1627.3 2234 1625.2 2235 1633.3 2236 1633.6 2237 1633.7 2238 1628.0 2239 1630.2 2240 1631.6 2241 1633.9 2242 1627.7 2243 1632.9 2244 1631.5 2245 1633.0 2246 1632.8 2247 1629.1 2248 1631.6 2249 1629.2 2250 1626.7 2251 1631.3 2252 1625.9 2253 1634.9 2254 1632.9 2255 1629.7 2256 1632.6 2257 1630.0 2258 1631.5 2259 1628.2 2260 1634.0 2261 1627.9 2262 1631.2 2263 1638.9 2264 1633.4 2265 1629.2 2266 1633.6 2267 1627.9 2268 1631.2 2269 1629.1 2270 1629.7 2271 1631.6 2272 1633.3 2273 1634.7 2274 1631.2 2275 1627.0 2276 1632.7 2277 1632.3 2278 1635.7 2279 1633.1 2280 1637.6" stroke="#737373"/><path d="M83 1451.4 84 1445.9 85 1457.8 86 1458.5 87 1453.8 88 1456.9 89 1463.0 90 1460.1 91 1458.6 92 1458.5 93 1451.6 94 1459.9 95 1448.2 96 1454.1 97 1453.7 98 1447.9 99 1455.3 100 1463.2 101 1454.3 102 1450.5 103 1455.6 104 1459.9 105 1456.9 106 1456.1 107 1449.8 108 1458.5 109 1458.4 110 1462.3 111 1463.0 112 1459.5 113 1449.0 114 1450.0 115 1451.6 116 1457.9 117 1453.1 118 1462.5 119 1457.8 120 1458.4 121 1460.2 122 1458.4 123 1450.5 124 1468.0 125 1463.6 126 1463.9 127 1453.7 128 1448.8 129 1450.4 130 1452.4 131 1461.2 132 1461.3 133 1463.9 134 1467.0 135 1459.7 136 1459.0 137 1455.9 138 1456.0 139 1452.4 140 1459.9 141 1459.1 142 1455.9 143 1454.1 144 1459.8 145 1463.7 146 1458.2 147 1459.2 148 1455.5 149 1456.9 150 1456.6 151 1456.8 152 1455.4 153 1459.9 154 1464.0 155 1454.0 156 1464.6 157 1456.5 158 1456.7 159 1448.7 160 1447.5 161 1461.8 162 1453.6 163 1462.2 164 1458.8 165 1459.8 166 1464.7 167 1458.4 168 1444.0 169 1451.0 170 1463.2 171 1467.8 172 1458.5 173 1455.8 174 1452.7 175 1461.5 176 1451.0 177 1453.5 178 1459.1 179 1459.6 180 1458.0 181 1464.0 182 1453.7 183 1453.9 184 1472.7 185 1459.7 186 1457.9 187 1468.4 188 1456.8 189 1462.4 190 1455.6 191 1461.0 192 1457.6 193 1457.9 194 1467.0 195 1458.2 196 1467.5 197 1456.5 198 1457.7 199 1464.8 200 1448.7 201 1452.4 202 1460.0 203 1462.1 204 1462.6 205 1458.6 206 1453.6 207 1463.9 208 1462.1 209 1455.0 210 1460.6 211 1468.4 212 1460.8 213 1454.9 214 1458.4 215 1458.7 216 1461.9 217 1464.5 218 1456.2 219 1457.5 220 1465.2 221 1463.9 222 1466.8 223 1448.3 224 1456.3 225 1465.3 226 1456.3 227 1462.2 228 1460.5 229 1457.4 230 1467.5 231 1460.8 232 1458.6 233 1460.2 234 1462.1 235 1453.8 236 1457.0 237 1455.2 238 1451.4 239 1465.6 240 1467.7 241 1466.6 242 1453.1 243 1463.0 244 1464.4 245 1458.7 246 1465.0 247 1456.2 248 1456.4 249 1457.6 250 1458.1 251 1456.8 252 1472.5 253 1456.6 254 1459.4 255 1458.7 256 1471.7 257 1457.5 258 1461.3 259 1470.0 260 1456.3 261 1457.9 262 1460.3 263 1455.8 264 1467.4 265 1459.7 266 1466.7 267 1464.3 268 1462.0 269 1466.3 270 1460.6 271 1466.8 272 1456.1 273 1458.7 274 1467.6 275 1451.5 276 1464.3 277 1460.3 278 1459.7 279 1459.1 280 1468.1 281 1455.4 282 1466.1 283 1464.5 284 1460.4 285 1462.0 286 1465.6 287 1459.7 288 1445.1 289 1463.7 290 1458.7 291 1454.9 292 1464.4 293 1465.9 294 1470.7 295 1464.1 296 1463.1 297 1466.3 298 1463.9 299 1455.1 300 1460.0 301 1457.1 302 1465.9 303 1468.5 304 1464.4 305 1458.1 306 1466.4 307 1458.5 308 1464.0 309 1457.5 310 1456.6 311 1456.6 312 1463.0 313 1459.9 314 1464.9 315 1457.1 316 1465.2 317 1460.2 318 1468.6 319 1467.6 320 1462.0 321 1463.5 322 1464.1 323 1465.1 324 1461.8 325 1468.0 326 1460.8 327 1454.4 328 1464.2 329 1462.6 330 1466.9 331 1465.8 332 1463.8 333 1463.7 334 1463.8 335 1460.2 336 1457.7 337 1459.5 338 1462.8 339 1453.1 340 1461.3 341 1458.9 342 1462.9 343 1459.7 344 1463.6 345 1462.3 346 1469.2 347 1461.8 348 1462.3 349 1463.5 350 1455.2 351 1458.6 352 1469.9 353 1465.8 354 1463.8 355 1468.3 356 1462.7 357 1462.4 358 1450.1 359 1455.5 360 1467.7 361 1462.7 362 1463.1 363 1462.1 364 1460.7 365 1453.4 366 1464.3 367 1473.4 368 1468.1 369 1462.3 370 1459.5 371 1463.8 372 1465.3 373 1463.1 374 1467.4 375 1459.4 376 1468.5 377 1464.4 378 1462.8 379 1462.4 380 1465.3 381 1467.2 382 1464.1 383 1466.4 384 1474.6 385 1456.4 386 1454.8 387 1461.4 388 1449.8 389 1464.3 390 1456.6 391 1464.4 392 1469.7 393 1468.8 394 1458.9 395 1462.5 396 1467.9 397 1472.1 398 1459.6 399 1460.0 400 1468.9 401 1462.3 402 1459.3 403 1468.6 404 1456.4 405 1460.8 406 1468.3 407 1461.1 408 1467.4 409 1458.4 410 1467.4 411 1466.1 412 1471.3 413 1462.9 414 1462.4 415 1463.5 416 1468.7 417 1460.6 418 1463.3 419 1472.8 420 1467.5 421 1467.2 422 1461.6 423 1467.9 424 1458.8 425 1457.3 426 1459.8 427 1470.4 428 1464.8 429 1459.8 430 1462.4 431 1466.0 432 1469.3 433 1456.6 434 1470.0 435 1468.2 436 1460.8 437 1462.1 438 1466.1 439 1462.6 440 1464.4 441 1459.0 442 1455.5 443 1474.6 444 1464.4 445 1464.6 446 1465.8 447 1469.4 448 1467.5 449 1458.6 450 1462.7 451 1463.4 452 1466.4 453 1460.2 454 1464.5 455 1463.7 456 1468.8 457 1450.8 458 1462.8 459 1459.7 460 1465.2 461 1462.0 462 1458.2 463 1464.8 464 1463.3 465 1457.8 466 1455.3 467 1463.8 468 1457.2 469 1463.9 470 1467.7 471 1461.6 472 1461.6 473 1461.0 474 1466.5 475 1466.4 476 1460.3 477 1463.1 478 1459.8 479 1457.2 480 1462.7 481 1458.7 482 1455.1 483 1452.0 484 1463.1 485 1454.1 486 1453.3 487 1456.9 488 1461.2 489 1450.0 490 1460.4 491 1459.1 492 1451.7 493 1451.8 494 1455.9 495 1465.1 496 1455.0 497 1460.7 498 1459.7 499 1447.9 500 1454.7 501 1458.7 502 1451.6 503 1458.9 504 1448.1 505 1445.8 506 1450.0 507 1454.4 508 1449.2 509 1454.6 510 1443.0 511 1446.8 512 1455.1 513 1437.4 514 1449.3 515 1443.4 516 1443.5 517 1444.9 518 1439.3 519 1449.6 520 1447.6 521 1450.0 522 1444.8 523 1439.4 524 1446.1 525 1436.8 526 1438.3 527 1451.6 528 1446.6 529 1443.5 530 1447.9 531 1439.7 532 1443.5 533 1437.0 534 1438.9 535 1440.6 536 1446.8 537 1436.8 538 1444.5 539 1439.6 540 1431.5 541 1430.6 542 1436.0 543 1443.9 544 1440.1 545 1447.0 546 1439.5 547 1445.0 548 1439.6 549 1434.2 550 1441.5 551 1434.8 552 1431.7 553 1434.6 554 1436.1 555 1438.9 556 1441.5 557 1440.3 558 1446.9 559 1428.5 560 1436.4 561 1448.8 562 1435.6 563 1431.2 564 1433.3 565 1432.2 566 1434.3 567 1444.2 568 1429.9 569 1432.9 570 1442.3 571 1437.1 572 1437.1 573 1433.7 574 1439.4 575 1430.4 576 1439.1 577 1435.1 578 1424.3 579 1431.7 580 1438.1 581 1435.1 582 1431.4 583 1433.4 584 1427.8 585 1438.0 586 1438.0 587 1436.5 588 1432.3 589 1432.8 590 1423.9 591 1427.9 592 1427.9 593 1427.9 594 1430.8 595 1425.4 596 1423.4 597 1431.6 598 1424.1 599 1421.9 600 1415.0 601 1417.1 602 1421.2 603 1422.3 604 1411.8 605 1418.6 606 1419.1 607 1414.4 608 1416.1 609 1421.5 610 1411.1 611 1406.1 612 1411.4 613 1408.6 614 1411.8 615 1414.5 616 1414.8 617 1411.7 618 1415.9 619 1410.6 620 1412.9 621 1409.1 622 1408.0 623 1403.6 624 1405.0 625 1401.3 626 1409.5 627 1401.6 628 1405.0 629 1397.0 630 1399.2 631 1389.1 632 1391.6 633 1396.8 634 1390.8 635 1379.3 636 1385.7 637 1383.1 638 1377.4 639 1373.4 640 1375.6 641 1363.8 642 1380.3 643 1378.2 644 1377.0 645 1377.3 646 1360.9 647 1367.5 648 1368.2 649 1361.3 650 1358.7 651 1354.7 652 1355.5 653 1350.9 654 1353.0 655 1351.1 656 1343.6 657 1337.3 658 1330.9 659 1332.0 660 1332.0 661 1327.1 662 1316.4 663 1310.0 664 1314.4 665 1305.4 666 1298.8 667 1286.8 668 1288.1 669 1282.6 670 1273.1 671 1272.0 672 1260.4 673 1259.4 674 1246.3 675 1248.8 676 1254.8 677 1239.7 678 1236.2 679 1222.4 680 1211.6 681 1201.8 682 1188.9 683 1183.3 684 1165.2 685 1156.1 686 1157.2 687 1135.5 688 1114.2 689 1099.1 690 1077.5 691 1056.1 692 1035.5 693 1024.6 694 1008.9 695 996.9 696 983.7 697 967.3 698 942.8 699 929.0 700 909.3 701 885.4 702 883.4 703 872.7 704 866.5 705 852.7 706 850.5 707 847.1 708 841.1 709 851.1 710 854.0 711 867.0 712 872.9 713 884.2 714 898.9 715 912.6 716 940.8 717 968.8 718 994.5 719 1010.4 720 1026.8 721 1041.5 722 1059.5 723 1064.5 724 1081.5 725 1093.4 726 1091.4 727 1116.5 728 1128.5 729 1142.8 730 1151.7 731 1163.3 732 1176.1 733 1192.0 734 1199.3 735 1211.4 736 1205.6 737 1223.0 738 1233.1 739 1227.5 740 1240.2 741 1243.0 742 1250.7 743 1271.1 744 1289.8 745 1299.3 746 1302.1 747 1311.6 748 1314.2 749 1324.9 750 1312.8 751 1318.6 752 1323.4 753 1327.0 754 1331.8 755 1349.0 756 1340.2 757 1348.7 758 1342.6 759 1349.2 760 1359.3 761 1362.8 762 1353.4 763 1380.1 764 1368.0 765 1364.7 766 1372.7 767 1369.4 768 1367.3 769 1376.3 770 1380.5 771 1382.8 772 1371.1 773 1375.5 774 1380.2 775 1387.1 776 1389.3 777 1382.2 778 1379.3 779 1388.5 780 1384.3 781 1389.3 782 1392.9 783 1391.4 784 1384.2 785 1383.6 786 1382.6 787 1393.4 788 1395.3 789 1385.1 790 1387.4 791 1385.5 792 1389.2 793 1385.9 794 1385.8 795 1395.8 796 1394.2 797 1390.0 798 1395.2 799 1387.0 800 1392.0 801 1385.4 802 1386.2 803 1394.4 804 1384.1 805 1387.8 806 1384.2 807 1383.8 808 1389.7 809 1389.9 810 1382.3 811 1399.4 812 1396.2 813 1384.4 814 1390.2 815 1388.6 816 1384.4 817 1380.7 818 1386.3 819 1384.8 820 1390.7 821 1385.1 822 1378.9 823 1379.6 824 1382.0 825 1382.5 826 1375.0 827 1380.9 828 1385.0 829 1371.2 830 1383.9 831 1373.6 832 1374.9 833 1371.4 834 1374.4 835 1373.5 836 1372.1 837 1381.1 838 1354.5 839 1362.9 840 1356.0 841 1359.0 842 1358.1 843 1353.6 844 1351.3 845 1344.8 846 1347.9 847 1332.5 848 1332.4 849 1330.2 850 1331.4 851 1298.4 852 1308.2 853 1310.2 854 1301.6 855 1287.7 856 1292.9 857 1281.9 858 1272.7 859 1265.4 860 1258.3 861 1241.9 862 1226.4 863 1208.0 864 1187.0 865 1172.8 866 1176.4 867 1155.1 868 1156.2 869 1128.6 870 1095.4 871 1087.5 872 1061.3 873 1031.4 874 1017.5 875 994.3 876 991.2 877 992.7 878 987.4 879 981.4 880 980.3 881 980.7 882 980.5 883 984.5 884 994.6 885 1006.1 886 1011.2 887 1025.2 888 1043.8 889 1058.7 890 1084.0 891 1100.7 892 1103.7 893 1109.0 894 1114.1 895 1120.7 896 1146.3 897 1150.1 898 1154.2 899 1157.4 900 1170.2 901 1181.8 902 1185.3 903 1185.3 904 1210.5 905 1205.6 906 1203.2 907 1216.3 908 1221.8 909 1229.3 910 1234.6 911 1235.7 912 1254.0 913 1269.2 914 1295.4 915 1308.1 916 1322.6 917 1330.2 918 1336.4 919 1358.6 920 1353.0 921 1360.6 922 1371.7 923 1378.8 924 1387.8 925 1383.0 926 1393.8 927 1408.3 928 1411.1 929 1416.5 930 1414.0 931 1417.1 932 1421.8 933 1428.4 934 1432.5 935 1434.4 936 1422.7 937 1432.2 938 1433.8 939 1432.4 940 1433.4 941 1431.1 942 1435.3 943 1427.0 944 1437.8 945 1440.9 946 1447.9 947 1438.4 948 1435.3 949 1452.6 950 1435.4 951 1440.8 952 1451.0 953 1455.1 954 1446.3 955 1449.4 956 1450.1 957 1454.6 958 1448.7 959 1456.3 960 1458.2 961 1454.1 962 1455.3 963 1475.8 964 1456.9 965 1453.8 966 1460.9 967 1461.7 968 1453.1 969 1452.0 970 1463.3 971 1462.5 972 1463.1 973 1464.8 974 1452.1 975 1450.0 976 1462.2 977 1462.1 978 1458.6 979 1461.3 980 1454.6 981 1453.5 982 1457.8 983 1460.3 984 1461.3 985 1458.1 986 1461.4 987 1464.3 988 1461.1 989 1456.7 990 1466.8 991 1453.9 992 1460.7 993 1468.1 994 1470.7 995 1467.0 996 1457.8 997 1451.8 998 1457.9 999 1460.0 1000 1460.9 1001 1455.9 1002 1458.3 1003 1461.9 1004 1461.4 1005 1467.1 1006 1464.0 1007 1464.3 1008 1459.4 1009 1462.4 1010 1453.4 1011 1460.5 1012 1455.4 1013 1463.5 1014 1465.5 1015 1463.8 1016 1470.3 1017 1460.6 1018 1463.4 1019 1461.5 1020 1462.8 1021 1470.4 1022 1458.4 1023 1472.3 1024 1471.2 1025 1468.0 1026 1463.9 1027 1466.8 1028 1464.1 1029 1472.7 1030 1461.2 1031 1462.0 1032 1466.8 1033 1455.5 1034 1473.6 1035 1465.7 1036 1470.7 1037 1468.3 1038 1459.6 1039 1468.0 1040 1469.8 1041 1462.7 1042 1463.6 1043 1463.5 1044 1471.9 1045 1462.8 1046 1464.4 1047 1468.3 1048 1469.3 1049 1466.1 1050 1482.8 1051 1476.2 1052 1463.2 1053 1477.1 1054 1471.1 1055 1472.0 1056 1472.4 1057 1462.5 1058 1462.8 1059 1470.5 1060 1464.7 1061 1480.2 1062 1465.3 1063 1471.1 1064 1462.0 1065 1475.7 1066 1473.9 1067 1458.2 1068 1466.1 1069 1464.3 1070 1470.5 1071 1452.0 1072 1461.0 1073 1466.0 1074 1459.9 1075 1458.1 1076 1454.0 1077 1462.0 1078 1459.1 1079 1453.3 1080 1460.4 1081 1456.5 1082 1461.0 1083 1463.1 1084 1464.8 1085 1461.5 1086 1455.3 1087 1458.9 1088 1458.2 1089 1477.9 1090 1456.8 1091 1467.1 1092 1460.0 1093 1463.3 1094 1458.3 1095 1466.0 1096 1457.8 1097 1468.1 1098 1462.6 1099 1464.4 1100 1463.5 1101 1457.3 1102 1467.5 1103 1454.1 1104 1461.7 1105 1465.0 1106 1466.2 1107 1458.7 1108 1459.5 1109 1460.8 1110 1457.3 1111 1460.9 1112 1458.0 1113 1464.4 1114 1461.4 1115 1458.7 1116 1442.2 1117 1463.3 1118 1459.1 1119 1456.6 1120 1458.0 1121 1464.2 1122 1455.1 1123 1463.8 1124 1467.2 1125 1460.7 1126 1462.3 1127 1457.0 1128 1459.4 1129 1461.4 1130 1465.6 1131 1462.4 1132 1459.1 1133 1461.9 1134 1458.9 1135 1472.4 1136 1461.8 1137 1471.7 1138 1457.6 1139 1460.5 1140 1471.5 1141 1463.8 1142 1474.9 1143 1468.9 1144 1471.6 1145 1458.3 1146 1466.3 1147 1463.9 1148 1472.8 1149 1463.5 1150 1465.6 1151 1461.8 1152 1458.0 1153 1468.2 1154 1463.8 1155 1467.0 1156 1460.9 1157 1465.1 1158 1461.4 1159 1448.0 1160 1466.0 1161 1462.8 1162 1467.8 1163 1460.0 1164 1463.3 1165 1471.1 1166 1461.8 1167 1457.0 1168 1470.8 1169 1464.5 1170 1460.4 1171 1459.8 1172 1467.6 1173 1459.8 1174 1457.2 1175 1467.8 1176 1466.0 1177 1467.6 1178 1462.4 1179 1466.7 1180 1460.4 1181 1463.2 1182 1465.6 1183 1466.0 1184 1469.9 1185 1468.5 1186 1460.8 1187 1462.5 1188 1468.3 1189 1471.0 1190 1467.5 1191 1463.4 1192 1466.4 1193 1470.5 1194 1471.5 1195 1462.7 1196 1460.9 1197 1465.5 1198 1462.5 1199 1465.2 1200 1461.2 1201 1466.6 1202 1467.5 1203 1471.8 1204 1470.8 1205 1466.1 1206 1461.0 1207 1468.9 1208 1462.1 1209 1468.0 1210 1463.5 1211 1458.8 1212 1473.1 1213 1469.5 1214 1470.6 1215 1462.5 1216 1463.8 1217 1465.2 1218 1462.4 1219 1452.1 1220 1466.1 1221 1446.1 1222 1464.0 1223 1469.9 1224 1464.9 1225 1456.2 1226 1460.0 1227 1461.0 1228 1462.1 1229 1465.0 1230 1460.1 1231 1471.1 1232 1463.2 1233 1466.4 1234 1460.2 1235 1454.8 1236 1466.3 1237 1467.7 1238 1468.6 1239 1463.7 1240 1465.0 1241 1460.4 1242 1457.0 1243 1464.5 1244 1466.4 1245 1466.3 1246 1468.0 1247 1468.6 1248 1467.8 1249 1467.6 1250 1465.4 1251 1461.7 1252 1455.3 1253 1465.2 1254 1470.5 1255 1466.5 1256 1473.1 1257 1467.6 1258 1455.6 1259 1469.6 1260 1460.8 1261 1464.6 1262 1463.2 1263 1464.9 1264 1472.4 1265 1470.5 1266 1459.1 1267 1467.2 1268 1462.1 1269 1471.1 1270 1472.5 1271 1463.8 1272 1470.1 1273 1470.6 1274 1469.2 1275 1470.9 1276 1465.5 1277 1467.7 1278 1465.9 1279 1466.5 1280 1466.1 1281 1456.6 1282 1465.2 1283 1470.8 1284 1460.1 1285 1463.6 1286 1461.0 1287 1467.1 1288 1465.9 1289 1469.4 1290 1472.2 1291 1461.6 1292 1462.2 1293 1467.7 1294 1463.1 1295 1468.1 1296 1457.7 1297 1463.9 1298 1460.2 1299 1458.1 1300 1465.6 1301 1459.9 1302 1462.2 1303 1462.5 1304 1451.9 1305 1467.6 1306 1466.0 1307 1470.9 1308 1463.0 1309 1470.7 1310 1465.9 1311 1459.7 1312 1469.2 1313 1469.7 1314 1464.1 1315 1464.3 1316 1466.6 1317 1468.0 1318 1466.6 1319 1463.1 1320 1467.6 1321 1463.6 1322 1463.4 1323 1470.0 1324 1463.1 1325 1460.9 1326 1467.0 1327 1460.4 1328 1469.7 1329 1465.0 1330 1469.1 1331 1464.5 1332 1459.9 1333 1451.7 1334 1460.2 1335 1469.4 1336 1462.1 1337 1468.2 1338 1469.1 1339 1456.7 1340 1462.2 1341 1463.4 1342 1470.5 1343 1471.1 1344 1460.6 1345 1466.8 1346 1465.3 1347 1458.8 1348 1468.7 1349 1471.3 1350 1458.9 1351 1466.5 1352 1460.4 1353 1468.2 1354 1468.3 1355 1461.7 1356 1462.4 1357 1470.4 1358 1462.2 1359 1467.9 1360 1455.1 1361 1456.2 1362 1467.6 1363 1463.8 1364 1461.3 1365 1457.6 1366 1463.4 1367 1456.3 1368 1462.1 1369 1465.2 1370 1460.8 1371 1454.9 1372 1454.4 1373 1459.8 1374 1451.6 1375 1465.3 1376 1458.4 1377 1458.7 1378 1459.9 1379 1458.0 1380 1467.4 1381 1458.4 1382 1455.8 1383 1466.1 1384 1458.1 1385 1468.0 1386 1464.5 1387 1459.2 1388 1461.6 1389 1456.5 1390 1456.1 1391 1466.2 1392 1456.8 1393 1460.4 1394 1459.0 1395 1461.7 1396 1459.9 1397 1461.5 1398 1466.9 1399 1467.3 1400 1459.2 1401 1460.9 1402 1462.0 1403 1457.3 1404 1463.7 1405 1461.1 1406 1459.0 1407 1458.1 1408 1461.3 1409 1462.7 1410 1463.6 1411 1465.0 1412 1457.5 1413 1467.9 1414 1462.5 1415 1466.9 1416 1460.7 1417 1467.2 1418 1462.5 1419 1459.1 1420 1460.6 1421 1463.5 1422 1455.1 1423 1437.5 1424 1452.1 1425 1463.5 1426 1459.0 1427 1457.2 1428 1460.2 1429 1468.5 1430 1470.4 1431 1461.2 1432 1469.3 1433 1464.3 1434 1470.7 1435 1463.5 1436 1466.3 1437 1458.5 1438 1468.7 1439 1467.0 1440 1468.5 1441 1470.4 1442 1461.8 1443 1465.2 1444 1454.8 1445 1459.1 1446 1457.4 1447 1466.5 1448 1465.3 1449 1464.4 1450 1463.2 1451 1471.4 1452 1466.0 1453 1459.5 1454 1469.5 1455 1469.2 1456 1465.1 1457 1450.9 1458 1456.6 1459 1462.5 1460 1458.7 1461 1452.6 1462 1460.2 1463 1456.1 1464 1460.4 1465 1460.1 1466 1465.3 1467 1454.3 1468 1463.0 1469 1453.6 1470 1462.4 1471 1459.6 1472 1459.0 1473 1457.4 1474 1453.3 1475 1457.9 1476 1458.2 1477 1460.9 1478 1456.7 1479 1456.7 1480 1449.3 1481 1445.9 1482 1461.9 1483 1463.5 1484 1451.8 1485 1447.9 1486 1439.7 1487 1459.2 1488 1446.3 1489 1447.4 1490 1451.1 1491 1452.4 1492 1457.7 1493 1454.3 1494 1451.5 1495 1447.8 1496 1442.1 1497 1446.0 1498 1451.1 1499 1436.2 1500 1445.7 1501 1452.7 1502 1449.5 1503 1443.8 1504 1443.2 1505 1447.4 1506 1443.1 1507 1446.5 1508 1451.6 1509 1442.3 1510 1440.7 1511 1448.0 1512 1444.6 1513 1439.2 1514 1433.7 1515 1450.6 1516 1451.2 1517 1441.8 1518 1444.7 1519 1443.3 1520 1444.4 1521 1449.9 1522 1444.3 1523 1441.6 1524 1428.3 1525 1442.7 1526 1445.1 1527 1440.7 1528 1438.8 1529 1450.2 1530 1445.0 1531 1445.4 1532 1451.5 1533 1441.5 1534 1440.4 1535 1443.0 1536 1436.6 1537 1436.8 1538 1436.2 1539 1429.6 1540 1433.6 1541 1441.0 1542 1440.0 1543 1447.4 1544 1438.7 1545 1444.6 1546 1436.1 1547 1443.6 1548 1446.9 1549 1432.0 1550 1444.5 1551 1438.3 1552 1438.2 1553 1445.8 1554 1437.1 1555 1436.6 1556 1445.1 1557 1430.4 1558 1445.4 1559 1434.4 1560 1447.6 1561 1435.5 1562 1441.6 1563 1440.2 1564 1439.2 1565 1441.1 1566 1438.5 1567 1443.5 1568 1441.2 1569 1430.2 1570 1425.9 1571 1448.4 1572 1427.3 1573 1438.0 1574 1434.8 1575 1434.4 1576 1433.1 1577 1446.8 1578 1441.4 1579 1431.8 1580 1439.9 1581 1437.5 1582 1445.6 1583 1436.7 1584 1428.3 1585 1443.9 1586 1444.2 1587 1444.4 1588 1439.1 1589 1426.5 1590 1430.0 1591 1433.3 1592 1435.2 1593 1432.3 1594 1436.6 1595 1428.5 1596 1430.8 1597 1429.5 1598 1432.0 1599 1425.2 1600 1441.7 1601 1427.4 1602 1428.8 1603 1433.8 1604 1427.7 1605 1435.6 1606 1435.2 1607 1435.3 1608 1426.6 1609 1425.8 1610 1427.5 1611 1426.6 1612 1428.3 1613 1429.0 1614 1427.2 1615 1424.6 1616 1431.7 1617 1431.6 1618 1429.3 1619 1427.5 1620 1426.3 1621 1431.2 1622 1420.4 1623 1416.7 1624 1421.0 1625 1421.1 1626 1419.1 1627 1418.8 1628 1418.4 1629 1420.3 1630 1415.1 1631 1413.0 1632 1416.8 1633 1418.9 1634 1415.1 1635 1409.4 1636 1414.4 1637 1411.2 1638 1415.2 1639 1410.0 1640 1411.1 1641 1414.5 1642 1409.9 1643 1407.7 1644 1405.5 1645 1401.1 1646 1405.2 1647 1393.7 1648 1394.6 1649 1390.3 1650 1394.6 1651 1400.6 1652 1382.3 1653 1389.4 1654 1386.4 1655 1392.3 1656 1369.9 1657 1375.7 1658 1381.1 1659 1377.0 1660 1377.5 1661 1365.6 1662 1370.9 1663 1367.6 1664 1378.6 1665 1368.6 1666 1366.6 1667 1361.2 1668 1366.8 1669 1358.0 1670 1356.5 1671 1347.7 1672 1354.0 1673 1351.1 1674 1339.2 1675 1337.9 1676 1340.7 1677 1335.5 1678 1329.5 1679 1332.0 1680 1331.9 1681 1326.2 1682 1321.9 1683 1323.6 1684 1318.5 1685 1315.6 1686 1316.4 1687 1318.4 1688 1315.7 1689 1308.1 1690 1303.7 1691 1303.2 1692 1302.6 1693 1303.1 1694 1298.0 1695 1298.2 1696 1299.8 1697 1294.4 1698 1300.2 1699 1303.6 1700 1308.3 1701 1308.8 1702 1308.0 1703 1308.4 1704 1313.8 1705 1324.4 1706 1319.4 1707 1324.6 1708 1328.8 1709 1336.8 1710 1336.3 1711 1340.0 1712 1344.9 1713 1344.0 1714 1345.3 1715 1351.6 1716 1355.2 1717 1368.1 1718 1371.1 1719 1366.7 1720 1379.2 1721 1378.6 1722 1380.5 1723 1380.7 1724 1381.2 1725 1384.9 1726 1376.3 1727 1373.6 1728 1380.9 1729 1388.3 1730 1383.7 1731 1387.6 1732 1391.3 1733 1392.8 1734 1390.1 1735 1396.1 1736 1403.3 1737 1404.1 1738 1403.5 1739 1404.8 1740 1414.3 1741 1417.3 1742 1407.0 1743 1410.4 1744 1412.3 1745 1418.6 1746 1416.7 1747 1416.1 1748 1425.8 1749 1421.3 1750 1416.1 1751 1430.6 1752 1420.7 1753 1428.7 1754 1413.9 1755 1422.9 1756 1424.5 1757 1429.7 1758 1424.8 1759 1428.7 1760 1429.2 1761 1418.2 1762 1423.7 1763 1423.7 1764 1427.3 1765 1421.2 1766 1429.0 1767 1425.9 1768 1428.5 1769 1417.4 1770 1429.2 1771 1429.1 1772 1421.5 1773 1426.9 1774 1430.5 1775 1437.5 1776 1430.2 1777 1428.6 1778 1424.6 1779 1430.9 1780 1420.1 1781 1425.8 1782 1429.2 1783 1428.7 1784 1427.1 1785 1427.1 1786 1425.8 1787 1433.0 1788 1429.0 1789 1422.9 1790 1431.2 1791 1431.6 1792 1435.2 1793 1437.3 1794 1435.8 1795 1426.6 1796 1431.0 1797 1432.5 1798 1427.7 1799 1429.7 1800 1428.2 1801 1420.7 1802 1428.4 1803 1422.7 1804 1430.8 1805 1418.4 1806 1429.8 1807 1421.1 1808 1424.6 1809 1427.1 1810 1429.7 1811 1422.9 1812 1426.7 1813 1431.4 1814 1425.9 1815 1428.3 1816 1425.3 1817 1430.3 1818 1428.2 1819 1429.7 1820 1423.2 1821 1422.1 1822 1407.9 1823 1416.8 1824 1416.5 1825 1424.9 1826 1418.2 1827 1415.0 1828 1418.0 1829 1415.3 1830 1413.0 1831 1411.9 1832 1421.4 1833 1423.3 1834 1415.5 1835 1416.9 1836 1418.9 1837 1412.4 1838 1415.2 1839 1407.3 1840 1403.3 1841 1408.1 1842 1415.8 1843 1409.6 1844 1403.6 1845 1410.5 1846 1413.3 1847 1410.6 1848 1409.1 1849 1415.4 1850 1403.3 1851 1404.8 1852 1400.2 1853 1396.3 1854 1396.0 1855 1405.9 1856 1403.2 1857 1393.6 1858 1408.9 1859 1390.1 1860 1399.7 1861 1402.3 1862 1395.5 1863 1393.7 1864 1395.7 1865 1393.0 1866 1398.4 1867 1398.9 1868 1395.2 1869 1388.4 1870 1395.5 1871 1392.2 1872 1396.3 1873 1400.1 1874 1405.8 1875 1405.4 1876 1405.7 1877 1400.7 1878 1397.8 1879 1401.7 1880 1409.3 1881 1404.8 1882 1404.1 1883 1400.7 1884 1400.1 1885 1402.3 1886 1407.1 1887 1412.1 1888 1408.5 1889 1405.8 1890 1407.2 1891 1411.9 1892 1424.6 1893 1419.6 1894 1407.2 1895 1406.1 1896 1421.1 1897 1418.6 1898 1420.7 1899 1424.8 1900 1417.3 1901 1423.3 1902 1416.2 1903 1428.4 1904 1423.7 1905 1425.2 1906 1422.3 1907 1435.2 1908 1434.5 1909 1434.3 1910 1387.1 1911 1429.5 1912 1438.5 1913 1433.7 1914 1435.8 1915 1437.1 1916 1434.2 1917 1441.7 1918 1428.1 1919 1462.0 1920 1445.4 1921 1440.8 1922 1442.7 1923 1439.1 1924 1448.4 1925 1437.8 1926 1436.5 1927 1443.2 1928 1439.2 1929 1440.5 1930 1449.8 1931 1436.4 1932 1446.2 1933 1438.5 1934 1444.5 1935 1446.2 1936 1445.8 1937 1437.7 1938 1445.3 1939 1448.1 1940 1454.6 1941 1447.5 1942 1437.8 1943 1443.0 1944 1442.7 1945 1453.1 1946 1451.3 1947 1440.4 1948 1445.6 1949 1454.6 1950 1444.7 1951 1451.5 1952 1447.8 1953 1450.5 1954 1447.5 1955 1443.7 1956 1445.7 1957 1452.4 1958 1457.0 1959 1449.9 1960 1453.0 1961 1453.6 1962 1446.4 1963 1447.0 1964 1454.6 1965 1453.9 1966 1448.3 1967 1443.6 1968 1449.2 1969 1449.5 1970 1454.3 1971 1450.6 1972 1452.1 1973 1456.8 1974 1455.0 1975 1450.9 1976 1457.9 1977 1455.4 1978 1461.1 1979 1450.6 1980 1454.3 1981 1451.8 1982 1448.6 1983 1449.2 1984 1454.7 1985 1456.9 1986 1452.1 1987 1453.5 1988 1460.1 1989 1453.9 1990 1452.5 1991 1458.7 1992 1452.4 1993 1457.3 1994 1452.8 1995 1455.0 1996 1453.6 1997 1452.4 1998 1455.5 1999 1463.0 2000 1458.1 2001 1454.8 2002 1460.8 2003 1446.7 2004 1455.6 2005 1451.6 2006 1449.6 2007 1452.4 2008 1454.2 2009 1450.0 2010 1455.4 2011 1447.5 2012 1459.5 2013 1457.1 2014 1463.9 2015 1457.7 2016 1453.0 2017 1452.2 2018 1456.5 2019 1456.5 2020 1448.2 2021 1446.7 2022 1457.8 2023 1456.2 2024 1449.1 2025 1460.5 2026 1455.4 2027 1452.6 2028 1453.1 2029 1456.5 2030 1459.5 2031 1453.1 2032 1457.9 2033 1449.4 2034 1455.1 2035 1455.1 2036 1459.1 2037 1455.6 2038 1457.6 2039 1458.1 2040 1459.2 2041 1450.4 2042 1452.6 2043 1453.0 2044 1462.4 2045 1458.6 2046 1455.8 2047 1456.1 2048 1453.7 2049 1459.4 2050 1452.7 2051 1456.7 2052 1452.8 2053 1449.2 2054 1456.8 2055 1467.4 2056 1453.0 2057 1448.4 2058 1455.7 2059 1449.4 2060 1446.7 2061 1457.2 2062 1451.4 2063 1452.8 2064 1454.6 2065 1457.3 2066 1446.0 2067 1443.0 2068 1455.2 2069 1448.5 2070 1451.0 2071 1453.5 2072 1456.3 2073 1446.1 2074 1447.0 2075 1439.8 2076 1450.3 2077 1448.7 2078 1448.9 2079 1456.6 2080 1449.7 2081 1441.1 2082 1443.7 2083 1451.1 2084 1441.1 2085 1443.2 2086 1450.1 2087 1443.0 2088 1445.1 2089 1443.6 2090 1451.6 2091 1435.7 2092 1453.4 2093 1447.8 2094 1452.3 2095 1448.0 2096 1456.0 2097 1441.8 2098 1463.5 2099 1456.1 2100 1449.7 2101 1452.3 2102 1456.1 2103 1457.7 2104 1454.6 2105 1463.7 2106 1458.2 2107 1455.9 2108 1459.7 2109 1464.1 2110 1453.5 2111 1456.3 2112 1465.3 2113 1468.3 2114 1460.7 2115 1469.3 2116 1467.9 2117 1455.0 2118 1454.1 2119 1462.7 2120 1465.1 2121 1459.7 2122 1463.0 2123 1457.8 2124 1464.7 2125 1455.4 2126 1462.2 2127 1464.0 2128 1460.3 2129 1461.3 2130 1461.5 2131 1465.5 2132 1459.8 2133 1466.9 2134 1454.2 2135 1467.2 2136 1463.1 2137 1465.5 2138 1465.6 2139 1463.7 2140 1467.7 2141 1464.7 2142 1462.1 2143 1466.5 2144 1468.1 2145 1453.9 2146 1462.9 2147 1452.5 2148 1462.4 2149 1462.2 2150 1476.5 2151 1467.5 2152 1467.3 2153 1465.9 2154 1449.8 2155 1468.8 2156 1459.4 2157 1449.8 2158 1463.0 2159 1461.3 2160 1460.6 2161 1469.0 2162 1461.1 2163 1458.1 2164 1466.6 2165 1457.8 2166 1467.0 2167 1457.9 2168 1465.6 2169 1471.2 2170 1467.0 2171 1459.4 2172 1455.1 2173 1460.5 2174 1455.4 2175 1469.1 2176 1467.3 2177 1452.5 2178 1460.7 2179 1465.0 2180 1467.0 2181 1457.4 2182 1463.0 2183 1452.2 2184 1461.1 2185 1466.4 2186 1453.7 2187 1462.8 2188 1466.6 2189 1455.2 2190 1459.0 2191 1469.9 2192 1463.0 2193 1467.3 2194 1465.9 2195 1469.2 2196 1467.6 2197 1463.4 2198 1460.2 2199 1466.6 2200 1458.9 2201 1460.4 2202 1461.3 2203 1461.9 2204 1470.4 2205 1463.0 2206 1467.1 2207 1455.9 2208 1454.0 2209 1460.7 2210 1463.8 2211 1465.5 2212 1465.0 2213 1463.2 2214 1472.9 2215 1466.9 2216 1464.3 2217 1466.8 2218 1465.3 2219 1463.1 2220 1465.4 2221 1462.3 2222 1473.5 2223 1470.0 2224 1456.5 2225 1461.6 2226 1461.1 2227 1467.0 2228 1459.3 2229 1465.3 2230 1465.9 2231 1467.4 2232 1468.3 2233 1464.8 2234 1461.8 2235 1464.6 2236 1457.5 2237 1469.4 2238 1460.5 2239 1463.5 2240 1462.9 2241 1473.6 2242 1462.3 2243 1463.9 2244 1470.8 2245 1466.7 2246 1462.1 2247 1469.4 2248 1464.1 2249 1468.7 2250 1471.0 2251 1462.1 2252 1460.5 2253 1462.7 2254 1468.0 2255 1474.3 2256 1468.2 2257 1468.8 2258 1463.8 2259 1465.9 2260 1467.1 2261 1457.6 2262 1464.1 2263 1463.7 2264 1466.2 2265 1470.6 2266 1466.8 2267 1470.0 2268 1468.8 2269 1468.7 2270 1464.5 2271 1465.7 2272 1466.7 2273 1464.8 2274 1468.0 2275 1462.9 2276 1470.4 2277 1466.6 2278 1460.7 2279 1471.9 2280 1472.9" stroke="#FD3E3E"/><path d="M83 1285.1 84 1289.4 85 1286.0 86 1280.3 87 1281.6 88 1285.7 89 1283.2 90 1286.6 91 1277.9 92 1289.2 93 1288.6 94 1279.2 95 1282.5 96 1281.6 97 1282.3 98 1286.1 99 1281.9 100 1280.8 101 1285.4 102 1287.2 103 1282.2 104 1284.3 105 1279.4 106 1286.3 107 1290.0 108 1285.2 109 1283.3 110 1277.7 111 1282.1 112 1277.6 113 1285.8 114 1288.6 115 1287.5 116 1284.0 117 1286.2 118 1281.6 119 1284.2 120 1284.2 121 1283.5 122 1275.8 123 1284.2 124 1284.8 125 1281.3 126 1284.7 127 1285.7 128 1277.2 129 1286.0 130 1281.8 131 1279.9 132 1283.7 133 1280.9 134 1281.8 135 1280.2 136 1281.2 137 1279.6 138 1281.4 139 1280.0 140 1279.2 141 1286.2 142 1283.2 143 1284.4 144 1288.2 145 1285.1 146 1283.3 147 1280.0 148 1285.5 149 1284.6 150 1286.2 151 1282.9 152 1282.2 153 1277.2 154 1284.8 155 1278.7 156 1281.8 157 1284.6 158 1283.4 159 1282.9 160 1284.4 161 1278.0 162 1283.3 163 1286.8 164 1286.5 165 1278.8 166 1285.9 167 1284.4 168 1280.3 169 1279.2 170 1282.7 171 1287.1 172 1284.5 173 1280.4 174 1283.4 175 1286.2 176 1282.9 177 1281.8 178 1284.5 179 1277.1 180 1284.4 181 1279.2 182 1282.9 183 1284.2 184 1282.7 185 1280.9 186 1282.0 187 1285.5 188 1279.2 189 1280.5 190 1284.0 191 1285.4 192 1283.1 193 1281.6 194 1285.2 195 1282.0 196 1289.1 197 1287.0 198 1288.6 199 1280.4 200 1281.7 201 1282.4 202 1279.5 203 1281.6 204 1285.9 205 1280.2 206 1282.3 207 1287.5 208 1284.0 209 1284.6 210 1283.2 211 1281.3 212 1282.1 213 1283.9 214 1281.4 215 1283.3 216 1281.8 217 1282.9 218 1287.6 219 1284.9 220 1279.3 221 1282.5 222 1288.4 223 1288.4 224 1279.7 225 1284.3 226 1283.1 227 1275.7 228 1283.9 229 1288.8 230 1280.9 231 1282.1 232 1285.7 233 1281.7 234 1281.7 235 1283.8 236 1278.8 237 1284.4 238 1279.1 239 1283.0 240 1285.2 241 1287.7 242 1280.6 243 1283.5 244 1283.5 245 1277.6 246 1282.5 247 1283.4 248 1284.3 249 1288.5 250 1283.0 251 1282.5 252 1282.5 253 1282.6 254 1284.1 255 1287.2 256 1279.6 257 1282.7 258 1275.7 259 1277.7 260 1283.0 261 1278.2 262 1283.4 263 1286.2 264 1280.0 265 1280.3 266 1282.4 267 1280.9 268 1282.2 269 1280.3 270 1284.8 271 1283.2 272 1282.1 273 1275.8 274 1280.2 275 1282.3 276 1284.2 277 1280.3 278 1283.9 279 1284.6 280 1273.6 281 1284.2 282 1281.6 283 1278.9 284 1281.9 285 1285.8 286 1283.2 287 1282.1 288 1284.4 289 1284.0 290 1282.6 291 1276.7 292 1274.7 293 1277.3 294 1294.0 295 1283.8 296 1277.4 297 1284.0 298 1277.7 299 1282.3 300 1284.3 301 1281.3 302 1283.9 303 1284.1 304 1276.8 305 1281.3 306 1282.9 307 1280.1 308 1277.6 309 1285.6 310 1282.2 311 1279.8 312 1278.9 313 1281.3 314 1284.8 315 1280.0 316 1282.9 317 1282.3 318 1280.8 319 1281.5 320 1281.7 321 1278.8 322 1277.5 323 1283.5 324 1285.6 325 1283.2 326 1279.2 327 1281.6 328 1280.1 329 1277.7 330 1278.7 331 1280.0 332 1283.1 333 1278.4 334 1284.8 335 1281.7 336 1285.0 337 1284.4 338 1282.2 339 1282.0 340 1282.6 341 1282.5 342 1283.7 343 1286.9 344 1283.5 345 1286.2 346 1284.5 347 1280.8 348 1283.2 349 1283.6 350 1284.3 351 1280.8 352 1284.9 353 1280.2 354 1281.3 355 1283.6 356 1282.3 357 1279.4 358 1278.2 359 1280.4 360 1279.9 361 1287.8 362 1278.9 363 1277.8 364 1288.0 365 1277.1 366 1280.1 367 1283.2 368 1281.8 369 1282.6 370 1286.0 371 1288.2 372 1282.2 373 1282.6 374 1280.6 375 1279.9 376 1280.1 377 1281.8 378 1279.7 379 1281.8 380 1279.5 381 1277.6 382 1279.6 383 1279.6 384 1278.8 385 1278.8 386 1281.4 387 1276.1 388 1282.1 389 1277.7 390 1278.9 391 1285.9 392 1281.5 393 1273.7 394 1279.6 395 1282.2 396 1275.6 397 1276.8 398 1281.7 399 1274.2 400 1282.5 401 1273.7 402 1275.3 403 1275.6 404 1275.7 405 1278.9 406 1277.8 407 1276.9 408 1276.9 409 1271.6 410 1274.2 411 1278.9 412 1272.3 413 1279.5 414 1274.9 415 1272.4 416 1277.4 417 1277.1 418 1273.1 419 1273.2 420 1272.3 421 1272.8 422 1268.0 423 1272.4 424 1277.8 425 1272.7 426 1275.1 427 1276.3 428 1274.3 429 1272.4 430 1272.1 431 1272.0 432 1274.4 433 1272.3 434 1275.4 435 1278.2 436 1274.5 437 1269.0 438 1273.8 439 1272.2 440 1271.5 441 1270.4 442 1271.6 443 1281.2 444 1280.9 445 1276.9 446 1269.3 447 1272.1 448 1274.5 449 1270.4 450 1272.9 451 1274.1 452 1275.2 453 1271.9 454 1271.3 455 1269.5 456 1269.0 457 1270.1 458 1269.1 459 1271.4 460 1269.9 461 1268.1 462 1272.5 463 1260.8 464 1268.9 465 1267.9 466 1264.0 467 1264.9 468 1264.8 469 1261.8 470 1259.0 471 1269.5 472 1270.0 473 1260.4 474 1260.8 475 1260.6 476 1262.8 477 1262.4 478 1258.2 479 1260.6 480 1261.3 481 1258.7 482 1262.1 483 1259.6 484 1255.7 485 1255.6 486 1263.2 487 1257.7 488 1255.2 489 1255.3 490 1251.3 491 1258.3 492 1250.8 493 1254.2 494 1259.7 495 1259.9 496 1253.3 497 1256.4 498 1256.4 499 1254.9 500 1253.8 501 1257.4 502 1254.1 503 1255.2 504 1256.6 505 1251.5 506 1251.3 507 1259.9 508 1250.5 509 1256.2 510 1256.1 511 1252.9 512 1251.4 513 1251.8 514 1249.7 515 1251.6 516 1250.6 517 1249.5 518 1249.7 519 1252.8 520 1250.2 521 1249.3 522 1255.0 523 1245.6 524 1250.8 525 1246.4 526 1245.7 527 1249.7 528 1250.7 529 1244.9 530 1249.4 531 1249.4 532 1247.1 533 1248.5 534 1243.6 535 1247.3 536 1242.9 537 1245.1 538 1244.4 539 1245.7 540 1241.2 541 1245.5 542 1245.5 543 1247.5 544 1242.4 545 1245.2 546 1241.4 547 1244.8 548 1241.4 549 1243.4 550 1241.1 551 1246.9 552 1246.5 553 1242.5 554 1242.4 555 1243.0 556 1237.7 557 1247.2 558 1234.2 559 1238.0 560 1240.8 561 1238.4 562 1241.9 563 1242.7 564 1239.8 565 1241.1 566 1238.8 567 1235.7 568 1236.8 569 1245.6 570 1239.7 571 1234.8 572 1236.6 573 1237.2 574 1241.5 575 1239.6 576 1243.1 577 1244.3 578 1240.6 579 1240.2 580 1242.0 581 1237.2 582 1237.5 583 1233.4 584 1240.0 585 1235.2 586 1238.2 587 1243.9 588 1233.2 589 1235.3 590 1233.6 591 1233.0 592 1237.9 593 1231.1 594 1235.9 595 1234.9 596 1237.1 597 1228.6 598 1237.2 599 1235.1 600 1226.7 601 1231.7 602 1233.9 603 1226.0 604 1226.8 605 1231.8 606 1225.3 607 1230.7 608 1231.2 609 1227.6 610 1226.8 611 1235.9 612 1224.0 613 1227.5 614 1226.7 615 1224.0 616 1224.0 617 1218.5 618 1218.8 619 1214.5 620 1217.8 621 1220.6 622 1216.9 623 1211.7 624 1209.1 625 1206.7 626 1208.4 627 1200.0 628 1204.4 629 1200.3 630 1192.6 631 1196.3 632 1194.5 633 1189.3 634 1193.3 635 1183.9 636 1182.9 637 1182.4 638 1181.1 639 1177.1 640 1178.2 641 1171.9 642 1172.9 643 1169.0 644 1167.3 645 1162.3 646 1162.4 647 1156.0 648 1153.6 649 1154.4 650 1154.3 651 1146.1 652 1147.1 653 1148.7 654 1140.5 655 1137.0 656 1131.1 657 1121.8 658 1121.7 659 1118.4 660 1110.1 661 1108.2 662 1099.8 663 1097.9 664 1089.1 665 1082.3 666 1074.9 667 1064.1 668 1063.0 669 1040.4 670 1030.4 671 1021.9 672 1012.3 673 998.2 674 994.6 675 981.2 676 973.5 677 960.1 678 950.4 679 943.1 680 931.7 681 921.5 682 914.2 683 904.9 684 890.3 685 879.1 686 864.6 687 851.0 688 832.5 689 819.6 690 799.9 691 788.8 692 778.7 693 765.5 694 750.7 695 750.4 696 737.2 697 727.1 698 733.0 699 721.2 700 720.5 701 715.9 702 718.5 703 717.8 704 716.9 705 737.2 706 747.3 707 760.6 708 769.7 709 779.0 710 785.7 711 801.6 712 814.4 713 828.0 714 846.6 715 858.9 716 882.0 717 910.8 718 931.7 719 955.2 720 966.9 721 979.9 722 990.7 723 1001.4 724 1015.3 725 1019.4 726 1031.0 727 1043.5 728 1051.8 729 1065.2 730 1070.2 731 1083.5 732 1087.6 733 1088.9 734 1097.3 735 1107.7 736 1105.0 737 1110.9 738 1113.1 739 1122.3 740 1129.3 741 1133.8 742 1134.0 743 1134.5 744 1142.5 745 1144.8 746 1150.8 747 1152.3 748 1157.8 749 1155.5 750 1159.6 751 1161.3 752 1162.4 753 1166.9 754 1162.7 755 1165.0 756 1164.0 757 1172.6 758 1176.3 759 1176.8 760 1181.5 761 1178.8 762 1177.4 763 1182.2 764 1183.2 765 1184.6 766 1188.6 767 1184.6 768 1186.3 769 1189.9 770 1197.9 771 1190.8 772 1198.0 773 1199.4 774 1195.7 775 1196.1 776 1198.5 777 1195.1 778 1204.3 779 1200.8 780 1203.6 781 1199.0 782 1201.5 783 1200.8 784 1205.9 785 1198.6 786 1205.1 787 1202.0 788 1202.0 789 1197.4 790 1201.9 791 1201.3 792 1204.1 793 1212.1 794 1200.9 795 1205.2 796 1203.4 797 1201.5 798 1203.3 799 1194.1 800 1202.1 801 1202.0 802 1206.1 803 1201.2 804 1194.7 805 1202.4 806 1203.0 807 1201.4 808 1200.3 809 1191.1 810 1193.2 811 1195.0 812 1194.1 813 1192.6 814 1188.1 815 1188.8 816 1188.6 817 1191.2 818 1193.3 819 1181.9 820 1185.2 821 1181.1 822 1184.9 823 1181.4 824 1180.4 825 1177.8 826 1173.9 827 1172.0 828 1171.2 829 1172.5 830 1173.3 831 1168.4 832 1162.4 833 1164.6 834 1158.1 835 1153.9 836 1150.2 837 1143.3 838 1137.4 839 1134.8 840 1130.0 841 1123.2 842 1109.9 843 1102.5 844 1087.5 845 1085.2 846 1068.4 847 1054.6 848 1046.3 849 1031.2 850 1014.4 851 1007.8 852 985.7 853 973.3 854 953.5 855 938.8 856 918.9 857 893.3 858 869.4 859 847.3 860 811.8 861 781.6 862 757.6 863 748.9 864 738.5 865 728.4 866 729.5 867 723.4 868 725.6 869 730.9 870 745.6 871 743.7 872 755.4 873 768.8 874 787.9 875 807.9 876 825.7 877 850.9 878 873.8 879 889.3 880 906.3 881 918.2 882 940.2 883 948.1 884 955.9 885 965.1 886 972.6 887 976.1 888 980.7 889 980.5 890 986.1 891 988.6 892 1002.1 893 1010.7 894 1023.3 895 1036.5 896 1055.0 897 1057.7 898 1073.3 899 1090.8 900 1092.3 901 1105.3 902 1109.5 903 1124.3 904 1127.0 905 1138.4 906 1146.6 907 1150.7 908 1155.4 909 1173.4 910 1174.5 911 1182.6 912 1189.9 913 1191.4 914 1203.0 915 1205.5 916 1208.8 917 1211.6 918 1214.9 919 1215.7 920 1223.9 921 1228.6 922 1236.1 923 1236.6 924 1233.5 925 1240.5 926 1237.5 927 1254.4 928 1250.9 929 1246.3 930 1245.1 931 1251.7 932 1250.3 933 1251.8 934 1252.2 935 1250.7 936 1255.3 937 1258.0 938 1256.3 939 1255.9 940 1256.9 941 1261.0 942 1253.6 943 1256.5 944 1258.9 945 1264.4 946 1263.4 947 1265.7 948 1271.2 949 1270.2 950 1261.5 951 1264.7 952 1267.5 953 1263.0 954 1256.6 955 1266.8 956 1266.7 957 1267.2 958 1268.9 959 1266.3 960 1267.7 961 1270.6 962 1271.4 963 1263.3 964 1269.9 965 1264.1 966 1265.3 967 1270.7 968 1271.1 969 1271.3 970 1270.5 971 1271.3 972 1269.4 973 1272.3 974 1276.0 975 1266.9 976 1272.3 977 1271.3 978 1269.5 979 1273.4 980 1274.3 981 1267.3 982 1269.2 983 1275.8 984 1275.7 985 1280.6 986 1277.7 987 1280.8 988 1276.7 989 1275.0 990 1279.3 991 1278.0 992 1279.0 993 1272.7 994 1280.9 995 1279.8 996 1281.0 997 1281.7 998 1285.4 999 1280.7 1000 1280.7 1001 1283.8 1002 1284.4 1003 1282.3 1004 1280.7 1005 1280.3 1006 1279.9 1007 1279.8 1008 1284.2 1009 1280.5 1010 1283.6 1011 1279.8 1012 1284.7 1013 1282.0 1014 1286.0 1015 1284.0 1016 1283.5 1017 1280.8 1018 1290.0 1019 1281.8 1020 1282.3 1021 1281.0 1022 1284.7 1023 1285.0 1024 1282.7 1025 1288.1 1026 1284.0 1027 1280.3 1028 1284.0 1029 1285.3 1030 1284.6 1031 1286.7 1032 1276.6 1033 1286.5 1034 1287.1 1035 1288.9 1036 1287.1 1037 1287.1 1038 1289.3 1039 1293.3 1040 1289.8 1041 1290.6 1042 1288.2 1043 1296.1 1044 1289.6 1045 1300.3 1046 1292.9 1047 1297.4 1048 1292.8 1049 1295.6 1050 1295.0 1051 1293.7 1052 1291.3 1053 1293.5 1054 1290.9 1055 1298.9 1056 1292.3 1057 1299.8 1058 1294.4 1059 1290.2 1060 1300.5 1061 1298.2 1062 1294.2 1063 1293.7 1064 1293.6 1065 1298.2 1066 1291.6 1067 1293.9 1068 1298.2 1069 1300.9 1070 1293.7 1071 1294.1 1072 1293.4 1073 1298.1 1074 1293.4 1075 1294.9 1076 1296.9 1077 1297.5 1078 1297.9 1079 1293.5 1080 1296.1 1081 1296.8 1082 1298.1 1083 1299.9 1084 1298.5 1085 1293.9 1086 1296.6 1087 1293.0 1088 1299.9 1089 1295.5 1090 1295.7 1091 1297.0 1092 1294.6 1093 1298.1 1094 1298.2 1095 1296.8 1096 1296.3 1097 1287.0 1098 1295.0 1099 1297.6 1100 1297.0 1101 1286.4 1102 1298.0 1103 1298.8 1104 1294.2 1105 1293.5 1106 1296.2 1107 1293.1 1108 1293.0 1109 1292.2 1110 1299.4 1111 1296.0 1112 1294.1 1113 1292.7 1114 1297.6 1115 1294.6 1116 1295.0 1117 1295.5 1118 1294.8 1119 1297.0 1120 1298.9 1121 1292.3 1122 1293.2 1123 1297.1 1124 1293.5 1125 1295.8 1126 1291.1 1127 1297.4 1128 1299.1 1129 1299.3 1130 1299.2 1131 1296.9 1132 1300.3 1133 1294.5 1134 1294.4 1135 1297.8 1136 1293.7 1137 1296.4 1138 1294.6 1139 1298.9 1140 1297.6 1141 1299.0 1142 1294.5 1143 1292.4 1144 1299.1 1145 1300.2 1146 1293.4 1147 1292.6 1148 1290.5 1149 1298.7 1150 1291.9 1151 1296.0 1152 1295.9 1153 1296.0 1154 1294.5 1155 1293.7 1156 1297.1 1157 1298.7 1158 1298.5 1159 1290.6 1160 1291.1 1161 1293.1 1162 1295.5 1163 1296.4 1164 1288.4 1165 1294.5 1166 1296.5 1167 1294.1 1168 1293.6 1169 1288.8 1170 1297.9 1171 1295.2 1172 1292.6 1173 1292.2 1174 1295.8 1175 1296.9 1176 1295.6 1177 1289.6 1178 1294.6 1179 1291.2 1180 1292.7 1181 1292.2 1182 1289.8 1183 1296.4 1184 1289.3 1185 1296.6 1186 1290.2 1187 1291.9 1188 1292.5 1189 1293.6 1190 1289.6 1191 1297.4 1192 1291.8 1193 1296.8 1194 1294.6 1195 1292.1 1196 1290.0 1197 1293.3 1198 1293.2 1199 1289.7 1200 1291.5 1201 1293.6 1202 1294.7 1203 1291.3 1204 1291.0 1205 1289.1 1206 1287.7 1207 1293.7 1208 1291.6 1209 1290.1 1210 1294.1 1211 1293.0 1212 1285.7 1213 1283.8 1214 1290.4 1215 1291.6 1216 1292.4 1217 1286.3 1218 1291.3 1219 1291.0 1220 1286.1 1221 1301.2 1222 1286.9 1223 1289.2 1224 1287.4 1225 1287.4 1226 1285.9 1227 1286.3 1228 1289.3 1229 1283.4 1230 1287.5 1231 1287.8 1232 1287.8 1233 1287.5 1234 1292.8 1235 1291.3 1236 1286.8 1237 1285.0 1238 1290.7 1239 1290.0 1240 1284.0 1241 1283.7 1242 1283.6 1243 1289.0 1244 1286.8 1245 1288.1 1246 1283.3 1247 1285.7 1248 1285.8 1249 1288.7 1250 1283.3 1251 1278.1 1252 1284.7 1253 1288.4 1254 1290.3 1255 1279.3 1256 1286.6 1257 1287.4 1258 1285.7 1259 1283.8 1260 1286.3 1261 1284.8 1262 1289.2 1263 1283.2 1264 1287.5 1265 1284.8 1266 1283.3 1267 1287.8 1268 1284.9 1269 1287.3 1270 1286.4 1271 1283.7 1272 1284.2 1273 1290.4 1274 1281.8 1275 1286.1 1276 1288.3 1277 1286.8 1278 1288.5 1279 1282.6 1280 1281.9 1281 1288.1 1282 1280.4 1283 1286.3 1284 1283.8 1285 1283.3 1286 1287.3 1287 1286.0 1288 1288.8 1289 1286.3 1290 1280.1 1291 1283.5 1292 1286.1 1293 1287.3 1294 1283.5 1295 1286.7 1296 1283.3 1297 1288.7 1298 1286.0 1299 1286.4 1300 1277.9 1301 1285.4 1302 1285.8 1303 1283.1 1304 1283.7 1305 1287.3 1306 1283.5 1307 1286.3 1308 1279.6 1309 1287.0 1310 1280.0 1311 1279.9 1312 1285.4 1313 1283.1 1314 1281.8 1315 1286.4 1316 1284.5 1317 1289.3 1318 1285.7 1319 1288.8 1320 1283.0 1321 1286.2 1322 1293.7 1323 1287.0 1324 1283.5 1325 1284.1 1326 1284.8 1327 1287.3 1328 1280.0 1329 1288.2 1330 1286.9 1331 1285.0 1332 1288.2 1333 1279.4 1334 1290.8 1335 1286.4 1336 1288.7 1337 1283.5 1338 1287.2 1339 1286.1 1340 1288.9 1341 1282.6 1342 1292.3 1343 1287.1 1344 1290.8 1345 1286.8 1346 1286.5 1347 1286.5 1348 1289.2 1349 1288.3 1350 1283.9 1351 1284.8 1352 1287.8 1353 1283.1 1354 1287.7 1355 1284.5 1356 1289.0 1357 1287.7 1358 1287.8 1359 1285.7 1360 1289.4 1361 1285.5 1362 1290.4 1363 1283.0 1364 1287.2 1365 1285.0 1366 1290.4 1367 1288.4 1368 1288.4 1369 1284.4 1370 1286.1 1371 1283.2 1372 1283.8 1373 1289.8 1374 1282.8 1375 1286.9 1376 1288.5 1377 1287.7 1378 1290.3 1379 1281.0 1380 1288.6 1381 1290.3 1382 1282.6 1383 1285.3 1384 1284.5 1385 1280.4 1386 1287.2 1387 1282.8 1388 1285.7 1389 1282.2 1390 1280.3 1391 1282.3 1392 1283.8 1393 1288.2 1394 1284.2 1395 1284.9 1396 1279.3 1397 1290.3 1398 1284.6 1399 1285.9 1400 1287.5 1401 1285.2 1402 1281.7 1403 1281.0 1404 1287.5 1405 1278.9 1406 1286.0 1407 1288.3 1408 1281.5 1409 1281.5 1410 1284.5 1411 1284.1 1412 1283.0 1413 1289.9 1414 1279.9 1415 1283.8 1416 1286.6 1417 1278.9 1418 1275.4 1419 1283.5 1420 1275.7 1421 1280.3 1422 1272.6 1423 1277.4 1424 1270.3 1425 1272.1 1426 1272.4 1427 1275.8 1428 1278.3 1429 1279.4 1430 1274.9 1431 1271.0 1432 1266.3 1433 1276.8 1434 1275.0 1435 1265.4 1436 1278.7 1437 1278.4 1438 1280.8 1439 1280.5 1440 1280.7 1441 1276.4 1442 1274.2 1443 1273.6 1444 1275.0 1445 1277.1 1446 1271.3 1447 1275.5 1448 1277.1 1449 1280.5 1450 1275.2 1451 1275.2 1452 1275.0 1453 1279.8 1454 1271.0 1455 1278.2 1456 1272.4 1457 1275.4 1458 1279.2 1459 1275.3 1460 1276.2 1461 1273.6 1462 1271.7 1463 1280.5 1464 1275.6 1465 1277.0 1466 1275.1 1467 1276.1 1468 1273.0 1469 1277.6 1470 1273.4 1471 1274.7 1472 1275.1 1473 1275.1 1474 1275.7 1475 1273.7 1476 1275.6 1477 1273.4 1478 1267.7 1479 1270.4 1480 1274.1 1481 1279.8 1482 1269.3 1483 1265.2 1484 1272.0 1485 1276.2 1486 1266.7 1487 1267.5 1488 1266.7 1489 1270.6 1490 1260.4 1491 1267.8 1492 1265.0 1493 1264.1 1494 1263.1 1495 1265.1 1496 1265.6 1497 1258.2 1498 1261.0 1499 1263.8 1500 1257.4 1501 1263.7 1502 1263.3 1503 1260.7 1504 1256.3 1505 1257.9 1506 1259.2 1507 1258.6 1508 1260.7 1509 1260.6 1510 1262.8 1511 1260.5 1512 1260.1 1513 1260.7 1514 1261.3 1515 1259.3 1516 1258.2 1517 1259.7 1518 1261.1 1519 1243.7 1520 1259.6 1521 1259.0 1522 1256.7 1523 1263.7 1524 1259.6 1525 1254.0 1526 1264.3 1527 1262.0 1528 1253.0 1529 1262.6 1530 1262.2 1531 1261.0 1532 1263.5 1533 1259.5 1534 1264.0 1535 1259.2 1536 1261.6 1537 1260.5 1538 1261.4 1539 1260.7 1540 1258.2 1541 1262.0 1542 1260.3 1543 1262.1 1544 1257.3 1545 1263.6 1546 1257.6 1547 1257.6 1548 1259.6 1549 1264.5 1550 1261.7 1551 1261.2 1552 1262.6 1553 1259.6 1554 1261.7 1555 1263.5 1556 1261.5 1557 1258.0 1558 1266.5 1559 1262.1 1560 1257.3 1561 1259.5 1562 1271.6 1563 1262.6 1564 1258.9 1565 1256.8 1566 1257.6 1567 1261.4 1568 1264.2 1569 1263.4 1570 1261.9 1571 1262.2 1572 1261.7 1573 1260.8 1574 1263.0 1575 1259.6 1576 1262.1 1577 1253.0 1578 1254.7 1579 1261.1 1580 1258.7 1581 1254.7 1582 1263.6 1583 1264.5 1584 1258.1 1585 1258.5 1586 1255.1 1587 1252.1 1588 1256.2 1589 1254.2 1590 1256.0 1591 1255.1 1592 1254.1 1593 1255.1 1594 1258.9 1595 1251.0 1596 1253.8 1597 1256.7 1598 1253.9 1599 1252.3 1600 1250.6 1601 1248.0 1602 1247.9 1603 1251.8 1604 1247.5 1605 1252.2 1606 1250.3 1607 1247.9 1608 1248.7 1609 1244.5 1610 1249.4 1611 1242.0 1612 1244.4 1613 1241.9 1614 1240.8 1615 1237.7 1616 1239.3 1617 1235.5 1618 1239.8 1619 1235.9 1620 1236.5 1621 1232.3 1622 1231.9 1623 1230.7 1624 1227.4 1625 1227.4 1626 1222.5 1627 1222.3 1628 1224.5 1629 1216.9 1630 1212.1 1631 1218.0 1632 1220.2 1633 1212.5 1634 1211.7 1635 1209.8 1636 1211.1 1637 1203.0 1638 1204.1 1639 1201.9 1640 1204.7 1641 1197.9 1642 1193.8 1643 1189.9 1644 1187.2 1645 1182.3 1646 1181.6 1647 1181.3 1648 1180.5 1649 1175.6 1650 1177.4 1651 1172.7 1652 1171.1 1653 1174.3 1654 1166.7 1655 1164.3 1656 1163.8 1657 1158.6 1658 1153.9 1659 1152.8 1660 1149.7 1661 1147.4 1662 1144.2 1663 1142.4 1664 1136.1 1665 1132.0 1666 1126.6 1667 1131.1 1668 1124.3 1669 1125.9 1670 1123.6 1671 1121.3 1672 1119.7 1673 1120.3 1674 1118.7 1675 1118.0 1676 1114.5 1677 1115.5 1678 1115.7 1679 1115.3 1680 1112.5 1681 1119.1 1682 1119.6 1683 1117.7 1684 1122.5 1685 1117.7 1686 1121.9 1687 1120.6 1688 1119.8 1689 1126.8 1690 1127.1 1691 1130.0 1692 1134.9 1693 1137.8 1694 1136.9 1695 1139.9 1696 1143.7 1697 1145.0 1698 1145.2 1699 1152.1 1700 1154.4 1701 1163.8 1702 1159.3 1703 1167.6 1704 1171.2 1705 1171.0 1706 1180.8 1707 1184.4 1708 1189.4 1709 1193.6 1710 1194.3 1711 1194.0 1712 1204.0 1713 1205.5 1714 1200.5 1715 1204.5 1716 1208.7 1717 1211.9 1718 1213.2 1719 1214.5 1720 1217.1 1721 1227.9 1722 1224.9 1723 1223.1 1724 1228.2 1725 1224.9 1726 1223.9 1727 1231.0 1728 1230.6 1729 1231.1 1730 1231.3 1731 1232.8 1732 1239.9 1733 1237.8 1734 1238.6 1735 1243.5 1736 1241.9 1737 1240.9 1738 1240.7 1739 1242.2 1740 1243.1 1741 1244.2 1742 1242.7 1743 1250.1 1744 1253.2 1745 1247.2 1746 1245.2 1747 1249.7 1748 1241.6 1749 1245.2 1750 1247.6 1751 1250.9 1752 1252.1 1753 1249.7 1754 1252.2 1755 1247.9 1756 1248.4 1757 1249.7 1758 1252.8 1759 1250.8 1760 1254.1 1761 1248.5 1762 1252.6 1763 1254.2 1764 1249.9 1765 1255.1 1766 1252.0 1767 1250.5 1768 1254.3 1769 1251.6 1770 1254.9 1771 1239.0 1772 1253.0 1773 1255.6 1774 1248.6 1775 1258.3 1776 1252.3 1777 1257.5 1778 1252.5 1779 1256.1 1780 1255.9 1781 1255.1 1782 1249.6 1783 1255.6 1784 1249.3 1785 1254.7 1786 1254.6 1787 1253.2 1788 1253.9 1789 1251.4 1790 1254.4 1791 1253.7 1792 1257.3 1793 1259.7 1794 1256.5 1795 1257.4 1796 1251.0 1797 1251.1 1798 1255.1 1799 1250.6 1800 1255.9 1801 1251.5 1802 1257.2 1803 1252.3 1804 1251.3 1805 1257.0 1806 1253.5 1807 1252.3 1808 1252.8 1809 1247.6 1810 1245.2 1811 1253.6 1812 1244.1 1813 1247.6 1814 1243.9 1815 1249.0 1816 1241.5 1817 1246.2 1818 1248.1 1819 1248.4 1820 1248.2 1821 1244.1 1822 1246.0 1823 1242.1 1824 1246.0 1825 1247.3 1826 1243.0 1827 1246.1 1828 1251.1 1829 1241.3 1830 1242.5 1831 1243.4 1832 1240.3 1833 1239.8 1834 1246.9 1835 1238.2 1836 1239.3 1837 1242.3 1838 1236.7 1839 1237.8 1840 1240.1 1841 1236.5 1842 1237.5 1843 1235.6 1844 1235.7 1845 1234.8 1846 1231.9 1847 1238.8 1848 1236.3 1849 1235.3 1850 1233.4 1851 1235.0 1852 1235.5 1853 1230.3 1854 1239.1 1855 1236.5 1856 1234.3 1857 1236.4 1858 1237.0 1859 1239.0 1860 1237.1 1861 1241.1 1862 1236.7 1863 1240.8 1864 1237.8 1865 1238.6 1866 1241.9 1867 1241.9 1868 1241.5 1869 1244.7 1870 1243.6 1871 1243.6 1872 1250.8 1873 1249.5 1874 1245.1 1875 1252.6 1876 1252.5 1877 1256.6 1878 1240.3 1879 1259.4 1880 1259.0 1881 1252.1 1882 1263.6 1883 1260.3 1884 1261.1 1885 1264.9 1886 1259.4 1887 1261.6 1888 1259.4 1889 1266.6 1890 1266.1 1891 1267.3 1892 1259.7 1893 1259.3 1894 1266.9 1895 1272.0 1896 1268.8 1897 1267.4 1898 1268.0 1899 1264.4 1900 1272.1 1901 1268.6 1902 1268.6 1903 1269.9 1904 1268.8 1905 1267.3 1906 1270.1 1907 1272.9 1908 1270.9 1909 1271.7 1910 1276.3 1911 1277.1 1912 1274.7 1913 1275.9 1914 1283.3 1915 1269.7 1916 1285.5 1917 1279.5 1918 1276.7 1919 1276.5 1920 1276.0 1921 1277.0 1922 1278.9 1923 1283.8 1924 1282.7 1925 1280.8 1926 1285.3 1927 1279.6 1928 1284.2 1929 1281.7 1930 1285.6 1931 1279.1 1932 1280.6 1933 1287.2 1934 1282.2 1935 1285.0 1936 1284.1 1937 1285.1 1938 1278.1 1939 1279.2 1940 1276.9 1941 1283.1 1942 1276.9 1943 1285.4 1944 1279.9 1945 1280.4 1946 1284.7 1947 1288.5 1948 1284.8 1949 1282.5 1950 1288.1 1951 1283.1 1952 1282.4 1953 1281.1 1954 1282.5 1955 1286.3 1956 1281.3 1957 1284.9 1958 1281.1 1959 1285.8 1960 1279.7 1961 1284.9 1962 1286.8 1963 1279.8 1964 1283.2 1965 1282.2 1966 1284.5 1967 1287.3 1968 1283.2 1969 1278.9 1970 1293.2 1971 1284.4 1972 1284.7 1973 1285.9 1974 1288.3 1975 1283.0 1976 1286.0 1977 1285.5 1978 1287.5 1979 1283.1 1980 1283.5 1981 1275.1 1982 1286.4 1983 1285.2 1984 1289.7 1985 1282.7 1986 1291.1 1987 1282.7 1988 1285.8 1989 1289.0 1990 1283.7 1991 1287.6 1992 1289.8 1993 1278.5 1994 1281.8 1995 1285.4 1996 1284.8 1997 1286.6 1998 1287.5 1999 1280.3 2000 1287.9 2001 1287.0 2002 1283.3 2003 1287.1 2004 1288.0 2005 1284.1 2006 1283.7 2007 1286.3 2008 1286.2 2009 1290.2 2010 1282.5 2011 1282.1 2012 1283.3 2013 1289.0 2014 1287.0 2015 1290.3 2016 1281.0 2017 1282.3 2018 1284.0 2019 1287.2 2020 1280.9 2021 1284.2 2022 1285.8 2023 1282.9 2024 1282.8 2025 1284.8 2026 1285.4 2027 1280.9 2028 1285.2 2029 1284.5 2030 1283.2 2031 1279.3 2032 1284.0 2033 1279.5 2034 1280.0 2035 1284.7 2036 1286.9 2037 1282.7 2038 1281.6 2039 1283.8 2040 1281.0 2041 1282.2 2042 1275.8 2043 1273.3 2044 1278.4 2045 1277.4 2046 1274.9 2047 1279.3 2048 1274.6 2049 1278.2 2050 1280.5 2051 1273.4 2052 1273.7 2053 1272.1 2054 1266.6 2055 1271.1 2056 1269.7 2057 1269.6 2058 1268.5 2059 1268.2 2060 1272.2 2061 1268.4 2062 1263.3 2063 1271.0 2064 1270.5 2065 1271.7 2066 1268.4 2067 1267.7 2068 1270.2 2069 1270.1 2070 1267.8 2071 1269.9 2072 1271.1 2073 1275.2 2074 1269.4 2075 1271.0 2076 1268.7 2077 1268.4 2078 1267.7 2079 1267.0 2080 1264.9 2081 1274.8 2082 1275.2 2083 1272.3 2084 1270.1 2085 1271.2 2086 1274.4 2087 1272.4 2088 1269.2 2089 1272.5 2090 1271.0 2091 1273.8 2092 1274.0 2093 1276.8 2094 1277.0 2095 1274.0 2096 1276.4 2097 1275.5 2098 1281.0 2099 1279.5 2100 1278.5 2101 1278.2 2102 1275.8 2103 1276.9 2104 1275.5 2105 1283.2 2106 1283.5 2107 1282.9 2108 1278.6 2109 1274.2 2110 1283.8 2111 1281.1 2112 1279.5 2113 1278.9 2114 1283.0 2115 1280.0 2116 1282.2 2117 1274.2 2118 1281.2 2119 1278.4 2120 1281.5 2121 1283.0 2122 1284.9 2123 1279.6 2124 1281.2 2125 1283.4 2126 1279.3 2127 1281.7 2128 1279.2 2129 1277.9 2130 1284.5 2131 1279.7 2132 1280.1 2133 1282.3 2134 1280.9 2135 1279.0 2136 1288.9 2137 1284.5 2138 1280.1 2139 1282.8 2140 1276.5 2141 1277.1 2142 1284.3 2143 1283.7 2144 1282.4 2145 1281.3 2146 1282.7 2147 1280.7 2148 1283.7 2149 1284.5 2150 1279.9 2151 1283.9 2152 1281.6 2153 1281.1 2154 1282.9 2155 1283.5 2156 1281.0 2157 1282.4 2158 1281.8 2159 1278.1 2160 1277.8 2161 1285.1 2162 1280.7 2163 1283.7 2164 1281.1 2165 1283.8 2166 1281.7 2167 1283.1 2168 1283.0 2169 1284.8 2170 1285.4 2171 1287.0 2172 1278.2 2173 1284.8 2174 1278.3 2175 1280.8 2176 1280.7 2177 1284.1 2178 1285.7 2179 1282.2 2180 1285.4 2181 1282.4 2182 1283.9 2183 1280.5 2184 1282.9 2185 1281.5 2186 1276.3 2187 1284.0 2188 1285.0 2189 1278.7 2190 1282.7 2191 1283.7 2192 1286.3 2193 1280.9 2194 1285.9 2195 1284.0 2196 1287.1 2197 1281.9 2198 1279.3 2199 1283.1 2200 1282.4 2201 1278.8 2202 1279.7 2203 1283.5 2204 1282.4 2205 1292.2 2206 1285.7 2207 1281.0 2208 1278.8 2209 1278.3 2210 1282.5 2211 1284.0 2212 1281.4 2213 1282.0 2214 1279.2 2215 1274.9 2216 1278.6 2217 1283.9 2218 1283.8 2219 1280.6 2220 1284.0 2221 1287.6 2222 1285.1 2223 1283.9 2224 1295.0 2225 1280.3 2226 1282.2 2227 1284.4 2228 1275.6 2229 1278.0 2230 1281.8 2231 1287.3 2232 1283.7 2233 1281.6 2234 1283.0 2235 1280.3 2236 1279.7 2237 1279.2 2238 1285.9 2239 1281.0 2240 1282.1 2241 1276.9 2242 1279.3 2243 1278.5 2244 1281.7 2245 1282.1 2246 1279.0 2247 1280.9 2248 1280.6 2249 1276.8 2250 1278.6 2251 1281.2 2252 1284.2 2253 1278.8 2254 1277.4 2255 1282.5 2256 1280.1 2257 1284.1 2258 1278.7 2259 1283.8 2260 1282.0 2261 1277.5 2262 1281.4 2263 1280.0 2264 1280.0 2265 1283.3 2266 1273.3 2267 1275.6 2268 1279.0 2269 1275.7 2270 1278.6 2271 1276.1 2272 1281.4 2273 1274.8 2274 1279.9 2275 1280.5 2276 1278.9 2277 1282.1 2278 1276.1 2279 1275.8 2280 1277.8" stroke="#006FE0"/><path d="M83 1103.3 84 1097.6 85 1102.2 86 1097.8 87 1103.2 88 1096.9 89 1098.9 90 1099.1 91 1095.5 92 1102.6 93 1096.8 94 1097.4 95 1099.2 96 1102.3 97 1098.5 98 1105.2 99 1100.4 100 1099.7 101 1101.5 102 1100.1 103 1097.8 104 1099.1 105 1100.8 106 1104.1 107 1101.0 108 1101.5 109 1094.9 110 1099.6 111 1100.2 112 1104.5 113 1104.1 114 1100.5 115 1101.5 116 1100.0 117 1098.4 118 1100.2 119 1103.2 120 1100.9 121 1101.8 122 1099.6 123 1102.8 124 1097.4 125 1100.1 126 1100.5 127 1095.6 128 1101.5 129 1101.7 130 1104.1 131 1099.9 132 1101.4 133 1101.5 134 1096.0 135 1100.6 136 1096.4 137 1100.6 138 1101.6 139 1100.5 140 1094.9 141 1103.3 142 1100.5 143 1102.2 144 1098.1 145 1098.8 146 1099.2 147 1099.3 148 1098.7 149 1098.8 150 1102.1 151 1095.9 152 1098.9 153 1097.5 154 1105.7 155 1102.2 156 1099.9 157 1100.2 158 1099.0 159 1098.5 160 1099.2 161 1103.8 162 1098.8 163 1101.1 164 1100.3 165 1103.1 166 1100.6 167 1096.9 168 1099.6 169 1099.5 170 1096.2 171 1097.6 172 1100.2 173 1098.4 174 1103.4 175 1100.2 176 1098.3 177 1099.2 178 1097.1 179 1097.7 180 1101.2 181 1099.1 182 1094.7 183 1096.0 184 1100.7 185 1096.5 186 1098.5 187 1101.9 188 1098.7 189 1098.6 190 1098.3 191 1101.8 192 1097.5 193 1096.2 194 1099.4 195 1103.1 196 1100.1 197 1102.9 198 1095.5 199 1096.5 200 1099.3 201 1098.9 202 1099.2 203 1102.1 204 1102.5 205 1100.9 206 1102.0 207 1097.7 208 1101.1 209 1096.6 210 1098.2 211 1096.1 212 1102.0 213 1098.0 214 1100.9 215 1095.9 216 1099.6 217 1100.6 218 1099.3 219 1099.5 220 1099.4 221 1098.9 222 1098.2 223 1097.0 224 1101.5 225 1097.7 226 1099.2 227 1099.8 228 1096.0 229 1095.7 230 1095.8 231 1103.3 232 1098.3 233 1100.7 234 1094.6 235 1098.0 236 1099.2 237 1097.6 238 1101.6 239 1098.1 240 1098.7 241 1101.6 242 1102.8 243 1099.7 244 1097.8 245 1098.2 246 1101.8 247 1096.3 248 1096.4 249 1096.5 250 1101.3 251 1099.8 252 1096.6 253 1096.9 254 1098.7 255 1097.4 256 1096.1 257 1096.6 258 1098.2 259 1097.2 260 1098.5 261 1097.7 262 1096.8 263 1099.6 264 1099.7 265 1093.8 266 1099.2 267 1097.4 268 1093.0 269 1100.3 270 1099.1 271 1099.8 272 1097.1 273 1102.8 274 1099.7 275 1097.0 276 1103.0 277 1096.4 278 1102.0 279 1097.7 280 1096.9 281 1096.6 282 1095.9 283 1096.1 284 1099.2 285 1098.1 286 1094.3 287 1098.8 288 1094.6 289 1099.5 290 1097.1 291 1097.7 292 1101.1 293 1093.2 294 1103.6 295 1105.6 296 1100.8 297 1099.5 298 1096.5 299 1100.8 300 1097.6 301 1097.4 302 1096.1 303 1101.5 304 1100.1 305 1094.5 306 1097.8 307 1094.8 308 1100.2 309 1095.8 310 1097.8 311 1099.3 312 1097.4 313 1094.9 314 1096.8 315 1094.6 316 1101.3 317 1100.1 318 1093.5 319 1095.0 320 1103.2 321 1099.3 322 1096.9 323 1100.0 324 1098.5 325 1099.6 326 1096.7 327 1101.6 328 1098.1 329 1094.6 330 1097.3 331 1096.6 332 1098.3 333 1098.0 334 1095.0 335 1095.2 336 1097.7 337 1095.7 338 1103.1 339 1094.2 340 1096.3 341 1095.6 342 1094.4 343 1097.7 344 1097.4 345 1097.1 346 1100.3 347 1095.1 348 1097.6 349 1096.6 350 1097.0 351 1093.1 352 1093.2 353 1098.1 354 1093.2 355 1098.7 356 1099.6 357 1094.4 358 1096.6 359 1096.1 360 1099.3 361 1100.8 362 1097.5 363 1097.5 364 1098.4 365 1093.0 366 1095.0 367 1097.3 368 1095.5 369 1099.1 370 1092.6 371 1094.4 372 1095.0 373 1096.3 374 1092.3 375 1093.6 376 1095.3 377 1094.5 378 1095.6 379 1096.4 380 1091.3 381 1086.9 382 1090.5 383 1092.4 384 1089.8 385 1092.3 386 1095.2 387 1091.9 388 1095.2 389 1094.7 390 1092.9 391 1094.5 392 1094.8 393 1089.2 394 1096.3 395 1094.7 396 1092.9 397 1090.7 398 1090.7 399 1092.4 400 1090.9 401 1091.3 402 1091.5 403 1089.4 404 1092.0 405 1088.7 406 1092.6 407 1088.3 408 1091.7 409 1089.8 410 1094.5 411 1088.5 412 1093.6 413 1089.7 414 1086.6 415 1093.8 416 1092.7 417 1094.3 418 1089.0 419 1092.2 420 1093.5 421 1090.2 422 1096.6 423 1089.0 424 1091.9 425 1087.3 426 1093.7 427 1088.2 428 1088.8 429 1089.4 430 1089.9 431 1083.3 432 1088.6 433 1086.8 434 1083.6 435 1085.9 436 1089.1 437 1088.5 438 1083.3 439 1085.3 440 1085.3 441 1089.4 442 1085.3 443 1083.8 444 1085.3 445 1079.1 446 1085.1 447 1086.9 448 1085.3 449 1079.7 450 1089.7 451 1085.0 452 1083.0 453 1082.9 454 1084.9 455 1082.3 456 1082.0 457 1083.6 458 1079.2 459 1083.3 460 1079.0 461 1082.0 462 1083.2 463 1081.6 464 1082.0 465 1078.7 466 1077.4 467 1081.3 468 1078.1 469 1076.0 470 1076.2 471 1075.4 472 1078.4 473 1077.6 474 1079.2 475 1073.2 476 1074.9 477 1074.1 478 1068.9 479 1073.2 480 1074.4 481 1070.6 482 1069.1 483 1077.3 484 1068.0 485 1074.4 486 1071.1 487 1070.9 488 1068.1 489 1066.6 490 1072.0 491 1072.6 492 1065.6 493 1070.1 494 1066.8 495 1068.3 496 1065.5 497 1064.0 498 1061.6 499 1060.8 500 1064.4 501 1063.8 502 1061.2 503 1063.4 504 1061.4 505 1064.0 506 1064.8 507 1064.8 508 1062.2 509 1063.5 510 1058.5 511 1064.9 512 1061.1 513 1058.6 514 1057.9 515 1057.3 516 1058.9 517 1061.4 518 1057.4 519 1061.1 520 1059.0 521 1054.4 522 1055.5 523 1055.8 524 1056.7 525 1061.9 526 1063.1 527 1057.9 528 1057.9 529 1055.2 530 1059.6 531 1054.8 532 1055.6 533 1056.9 534 1058.7 535 1057.3 536 1051.0 537 1057.4 538 1055.6 539 1057.3 540 1059.7 541 1052.6 542 1056.9 543 1058.6 544 1052.7 545 1059.5 546 1057.8 547 1057.0 548 1054.4 549 1057.2 550 1057.9 551 1054.2 552 1054.6 553 1063.4 554 1056.6 555 1056.7 556 1058.0 557 1056.6 558 1054.7 559 1055.6 560 1050.4 561 1057.6 562 1052.8 563 1052.9 564 1054.9 565 1050.1 566 1055.4 567 1057.2 568 1055.3 569 1055.2 570 1054.5 571 1053.1 572 1052.6 573 1049.7 574 1052.9 575 1053.8 576 1056.0 577 1050.2 578 1051.6 579 1051.6 580 1049.2 581 1048.7 582 1048.4 583 1048.3 584 1052.4 585 1044.3 586 1045.1 587 1044.2 588 1047.9 589 1048.2 590 1044.2 591 1048.3 592 1043.3 593 1049.1 594 1045.3 595 1047.1 596 1041.2 597 1046.3 598 1044.2 599 1042.1 600 1039.3 601 1044.5 602 1043.8 603 1040.7 604 1043.3 605 1042.8 606 1042.5 607 1036.9 608 1040.3 609 1031.6 610 1035.6 611 1036.8 612 1034.3 613 1037.4 614 1033.5 615 1033.8 616 1033.9 617 1035.3 618 1031.4 619 1025.2 620 1030.9 621 1026.6 622 1027.0 623 1022.3 624 1018.9 625 1014.6 626 1023.0 627 1016.5 628 1011.8 629 1010.3 630 1008.4 631 1008.3 632 1007.4 633 1007.6 634 1003.2 635 1002.8 636 998.0 637 1000.8 638 996.5 639 991.1 640 990.0 641 989.6 642 990.4 643 985.4 644 986.6 645 981.2 646 975.4 647 972.9 648 975.9 649 967.0 650 963.7 651 960.1 652 955.6 653 956.9 654 953.4 655 944.8 656 947.3 657 941.4 658 933.9 659 926.8 660 924.6 661 919.5 662 916.8 663 908.3 664 904.9 665 901.1 666 885.7 667 878.2 668 875.0 669 869.0 670 852.1 671 845.8 672 832.5 673 825.9 674 813.8 675 800.7 676 792.8 677 784.9 678 764.3 679 758.0 680 750.1 681 741.9 682 733.3 683 722.6 684 717.0 685 703.4 686 691.9 687 682.0 688 665.6 689 661.9 690 650.7 691 630.4 692 617.8 693 596.5 694 589.2 695 579.6 696 577.4 697 567.7 698 562.1 699 556.2 700 551.3 701 550.8 702 549.9 703 550.2 704 560.0 705 563.8 706 567.9 707 574.1 708 576.1 709 580.0 710 599.2 711 614.5 712 632.0 713 650.1 714 665.4 715 677.2 716 695.6 717 710.6 718 728.0 719 740.9 720 755.3 721 770.5 722 782.9 723 798.0 724 813.7 725 818.9 726 832.8 727 847.7 728 854.2 729 861.4 730 875.5 731 884.5 732 892.0 733 899.1 734 902.2 735 919.1 736 919.5 737 924.2 738 933.4 739 938.5 740 941.5 741 945.4 742 949.6 743 951.8 744 951.4 745 956.1 746 958.9 747 961.0 748 962.2 749 962.1 750 968.0 751 971.0 752 972.6 753 970.2 754 977.4 755 982.7 756 982.4 757 982.2 758 986.1 759 987.1 760 988.2 761 992.0 762 993.1 763 992.3 764 1000.1 765 999.8 766 994.8 767 1000.0 768 1001.6 769 996.8 770 1001.2 771 1007.8 772 1006.0 773 1007.9 774 1007.8 775 1007.9 776 1007.0 777 1005.5 778 1004.8 779 1007.4 780 1011.8 781 1012.4 782 1013.6 783 1010.3 784 1008.9 785 1018.7 786 1014.0 787 1012.9 788 1013.0 789 1010.9 790 1013.0 791 1007.9 792 1011.3 793 1013.8 794 1012.4 795 1016.2 796 1013.4 797 1010.7 798 1010.4 799 1007.1 800 1015.3 801 1012.7 802 1014.0 803 1009.5 804 1009.9 805 1013.7 806 1011.1 807 1012.3 808 1016.1 809 1013.3 810 1013.0 811 1012.1 812 1009.7 813 997.5 814 1009.6 815 1013.8 816 1008.5 817 1001.6 818 1003.5 819 1000.7 820 1005.0 821 999.7 822 995.6 823 996.2 824 998.0 825 995.5 826 991.9 827 989.8 828 983.9 829 983.5 830 981.4 831 977.0 832 976.6 833 970.4 834 972.2 835 964.5 836 960.0 837 955.3 838 952.6 839 949.4 840 943.4 841 934.1 842 928.5 843 917.1 844 911.0 845 904.7 846 896.5 847 887.1 848 877.1 849 874.2 850 847.7 851 808.8 852 788.1 853 773.3 854 760.4 855 746.6 856 736.1 857 710.1 858 703.0 859 681.2 860 665.9 861 648.5 862 636.2 863 620.1 864 614.4 865 597.8 866 588.4 867 575.6 868 577.1 869 576.4 870 583.8 871 589.6 872 596.3 873 604.0 874 621.2 875 631.9 876 641.2 877 653.1 878 667.6 879 675.2 880 690.1 881 706.1 882 718.8 883 734.2 884 744.5 885 756.0 886 765.3 887 775.9 888 785.7 889 794.2 890 801.6 891 814.4 892 818.7 893 823.5 894 830.4 895 843.8 896 849.6 897 856.5 898 862.1 899 879.1 900 905.1 901 923.7 902 931.6 903 942.8 904 951.2 905 955.4 906 961.4 907 968.4 908 983.0 909 989.5 910 993.4 911 1001.2 912 1010.2 913 1016.0 914 1020.4 915 1020.9 916 1024.9 917 1030.8 918 1036.4 919 1039.4 920 1040.7 921 1042.1 922 1050.3 923 1046.8 924 1051.4 925 1053.7 926 1056.3 927 1060.4 928 1054.2 929 1053.9 930 1063.1 931 1066.0 932 1067.2 933 1068.1 934 1067.6 935 1068.4 936 1074.7 937 1069.4 938 1074.8 939 1072.6 940 1074.1 941 1072.6 942 1075.1 943 1074.9 944 1073.5 945 1075.6 946 1074.5 947 1081.7 948 1077.9 949 1080.0 950 1089.1 951 1084.0 952 1082.1 953 1086.0 954 1085.1 955 1086.5 956 1083.5 957 1088.2 958 1087.2 959 1086.2 960 1085.3 961 1087.4 962 1086.4 963 1089.3 964 1089.6 965 1087.8 966 1093.2 967 1092.6 968 1087.7 969 1095.0 970 1090.1 971 1088.7 972 1092.8 973 1095.8 974 1097.1 975 1092.7 976 1095.1 977 1095.3 978 1098.5 979 1097.8 980 1097.2 981 1097.3 982 1097.3 983 1097.6 984 1096.8 985 1095.9 986 1101.0 987 1098.2 988 1100.4 989 1097.6 990 1099.3 991 1097.2 992 1099.7 993 1098.4 994 1101.9 995 1094.6 996 1102.4 997 1099.8 998 1096.8 999 1100.6 1000 1098.5 1001 1100.1 1002 1098.7 1003 1099.6 1004 1099.2 1005 1098.4 1006 1097.9 1007 1103.8 1008 1101.1 1009 1101.2 1010 1098.5 1011 1099.6 1012 1100.0 1013 1099.9 1014 1099.4 1015 1100.7 1016 1098.3 1017 1100.7 1018 1096.9 1019 1098.8 1020 1098.3 1021 1098.4 1022 1101.6 1023 1096.2 1024 1098.6 1025 1099.0 1026 1100.5 1027 1097.0 1028 1096.5 1029 1097.7 1030 1099.1 1031 1100.3 1032 1103.8 1033 1104.4 1034 1103.0 1035 1105.8 1036 1113.8 1037 1116.4 1038 1114.9 1039 1114.5 1040 1119.5 1041 1116.5 1042 1113.6 1043 1118.0 1044 1113.3 1045 1114.5 1046 1115.8 1047 1115.1 1048 1114.6 1049 1114.0 1050 1113.6 1051 1112.6 1052 1115.9 1053 1117.9 1054 1113.3 1055 1116.6 1056 1117.1 1057 1112.5 1058 1117.5 1059 1117.3 1060 1115.2 1061 1113.8 1062 1116.8 1063 1116.3 1064 1113.8 1065 1109.7 1066 1118.2 1067 1109.0 1068 1115.1 1069 1109.3 1070 1114.1 1071 1113.8 1072 1115.1 1073 1116.0 1074 1116.5 1075 1112.7 1076 1117.0 1077 1116.5 1078 1113.0 1079 1115.9 1080 1113.2 1081 1115.5 1082 1112.2 1083 1115.6 1084 1118.2 1085 1113.9 1086 1115.6 1087 1119.5 1088 1121.3 1089 1112.5 1090 1114.2 1091 1109.9 1092 1111.5 1093 1119.3 1094 1114.2 1095 1114.1 1096 1114.2 1097 1117.7 1098 1112.1 1099 1113.3 1100 1114.5 1101 1113.4 1102 1115.7 1103 1118.7 1104 1113.8 1105 1115.5 1106 1118.5 1107 1115.3 1108 1112.6 1109 1116.7 1110 1116.9 1111 1118.9 1112 1115.0 1113 1117.7 1114 1118.0 1115 1110.4 1116 1114.7 1117 1119.5 1118 1113.0 1119 1118.1 1120 1114.5 1121 1111.6 1122 1109.1 1123 1113.2 1124 1111.7 1125 1118.2 1126 1109.4 1127 1117.2 1128 1114.3 1129 1117.3 1130 1111.4 1131 1115.5 1132 1112.6 1133 1116.6 1134 1118.4 1135 1116.1 1136 1114.9 1137 1116.9 1138 1116.3 1139 1113.3 1140 1109.7 1141 1113.8 1142 1109.5 1143 1110.5 1144 1120.8 1145 1118.6 1146 1113.5 1147 1115.7 1148 1118.8 1149 1114.7 1150 1110.5 1151 1110.8 1152 1118.2 1153 1118.3 1154 1118.0 1155 1116.2 1156 1115.7 1157 1119.4 1158 1114.2 1159 1115.7 1160 1116.1 1161 1112.4 1162 1119.8 1163 1116.4 1164 1117.1 1165 1113.1 1166 1114.8 1167 1113.9 1168 1112.0 1169 1113.1 1170 1119.4 1171 1115.4 1172 1116.2 1173 1111.8 1174 1114.8 1175 1112.6 1176 1115.4 1177 1112.3 1178 1115.1 1179 1115.9 1180 1112.1 1181 1112.9 1182 1114.9 1183 1111.0 1184 1114.0 1185 1114.5 1186 1115.2 1187 1113.6 1188 1113.6 1189 1112.8 1190 1110.0 1191 1113.9 1192 1111.5 1193 1113.0 1194 1116.2 1195 1114.2 1196 1112.9 1197 1111.6 1198 1110.7 1199 1108.9 1200 1112.1 1201 1115.2 1202 1112.6 1203 1109.4 1204 1113.8 1205 1109.1 1206 1109.2 1207 1113.4 1208 1112.5 1209 1114.7 1210 1108.2 1211 1111.5 1212 1111.1 1213 1110.2 1214 1110.3 1215 1105.8 1216 1110.1 1217 1107.7 1218 1110.2 1219 1107.5 1220 1111.6 1221 1110.2 1222 1109.2 1223 1109.4 1224 1107.6 1225 1111.7 1226 1110.1 1227 1109.1 1228 1108.8 1229 1108.7 1230 1109.0 1231 1107.6 1232 1105.2 1233 1103.7 1234 1104.9 1235 1110.4 1236 1106.3 1237 1109.5 1238 1111.4 1239 1108.5 1240 1107.4 1241 1107.7 1242 1110.1 1243 1106.0 1244 1109.2 1245 1112.7 1246 1109.4 1247 1109.0 1248 1108.6 1249 1107.1 1250 1104.3 1251 1109.3 1252 1109.4 1253 1103.7 1254 1107.5 1255 1110.2 1256 1109.2 1257 1108.8 1258 1105.2 1259 1104.8 1260 1107.0 1261 1109.6 1262 1105.4 1263 1110.9 1264 1104.0 1265 1105.2 1266 1109.3 1267 1103.0 1268 1106.5 1269 1107.6 1270 1107.5 1271 1106.1 1272 1105.6 1273 1103.0 1274 1105.2 1275 1104.5 1276 1102.2 1277 1102.6 1278 1107.2 1279 1104.3 1280 1103.4 1281 1105.9 1282 1100.9 1283 1106.5 1284 1107.2 1285 1109.7 1286 1104.5 1287 1107.2 1288 1103.6 1289 1103.1 1290 1103.3 1291 1105.1 1292 1103.5 1293 1104.8 1294 1102.6 1295 1102.1 1296 1106.1 1297 1101.2 1298 1103.3 1299 1107.2 1300 1104.5 1301 1104.7 1302 1103.0 1303 1102.1 1304 1106.0 1305 1103.4 1306 1103.8 1307 1105.2 1308 1101.5 1309 1103.7 1310 1095.4 1311 1106.8 1312 1105.9 1313 1099.9 1314 1104.0 1315 1103.6 1316 1099.9 1317 1102.2 1318 1101.2 1319 1101.2 1320 1102.1 1321 1104.2 1322 1101.2 1323 1101.5 1324 1101.2 1325 1099.3 1326 1103.1 1327 1107.1 1328 1105.4 1329 1100.1 1330 1103.8 1331 1101.1 1332 1105.4 1333 1098.8 1334 1106.2 1335 1099.5 1336 1104.6 1337 1106.5 1338 1103.6 1339 1106.9 1340 1102.9 1341 1107.3 1342 1102.3 1343 1103.5 1344 1105.0 1345 1110.6 1346 1102.1 1347 1101.8 1348 1106.8 1349 1104.1 1350 1102.2 1351 1103.4 1352 1104.9 1353 1102.1 1354 1103.4 1355 1105.1 1356 1105.6 1357 1102.8 1358 1103.8 1359 1107.0 1360 1101.3 1361 1101.9 1362 1107.6 1363 1106.5 1364 1108.5 1365 1105.4 1366 1105.0 1367 1105.8 1368 1101.0 1369 1102.1 1370 1106.1 1371 1106.2 1372 1106.7 1373 1106.2 1374 1105.1 1375 1102.1 1376 1106.0 1377 1105.4 1378 1101.1 1379 1106.7 1380 1105.5 1381 1106.4 1382 1102.8 1383 1103.7 1384 1111.7 1385 1103.8 1386 1104.3 1387 1102.7 1388 1099.8 1389 1105.4 1390 1106.5 1391 1107.1 1392 1106.6 1393 1101.5 1394 1105.7 1395 1106.3 1396 1099.7 1397 1106.2 1398 1104.1 1399 1105.6 1400 1105.4 1401 1104.9 1402 1106.5 1403 1106.1 1404 1107.6 1405 1106.2 1406 1103.3 1407 1109.1 1408 1096.9 1409 1101.6 1410 1106.5 1411 1106.1 1412 1107.3 1413 1108.3 1414 1105.2 1415 1102.2 1416 1105.7 1417 1104.7 1418 1101.4 1419 1102.3 1420 1099.0 1421 1098.1 1422 1102.0 1423 1098.3 1424 1098.7 1425 1096.7 1426 1097.1 1427 1096.0 1428 1097.7 1429 1096.9 1430 1097.0 1431 1096.0 1432 1103.4 1433 1099.9 1434 1095.7 1435 1094.0 1436 1099.4 1437 1097.5 1438 1096.1 1439 1098.8 1440 1096.0 1441 1101.7 1442 1097.8 1443 1095.2 1444 1094.1 1445 1102.0 1446 1096.8 1447 1097.3 1448 1098.8 1449 1096.3 1450 1095.3 1451 1096.7 1452 1099.1 1453 1098.6 1454 1096.6 1455 1097.8 1456 1102.4 1457 1101.4 1458 1098.1 1459 1099.6 1460 1098.9 1461 1100.2 1462 1104.2 1463 1098.0 1464 1100.4 1465 1099.6 1466 1100.1 1467 1099.2 1468 1097.2 1469 1097.8 1470 1094.3 1471 1096.5 1472 1098.0 1473 1100.5 1474 1100.3 1475 1097.8 1476 1095.9 1477 1094.1 1478 1092.5 1479 1095.9 1480 1096.5 1481 1094.3 1482 1091.2 1483 1090.6 1484 1096.1 1485 1092.7 1486 1090.1 1487 1092.7 1488 1090.2 1489 1085.4 1490 1089.3 1491 1088.8 1492 1090.8 1493 1085.5 1494 1088.8 1495 1088.4 1496 1087.4 1497 1086.5 1498 1086.5 1499 1086.1 1500 1086.8 1501 1088.0 1502 1086.2 1503 1084.8 1504 1085.5 1505 1085.6 1506 1085.7 1507 1085.3 1508 1082.8 1509 1087.2 1510 1091.1 1511 1088.6 1512 1085.1 1513 1083.0 1514 1085.9 1515 1085.8 1516 1086.6 1517 1084.3 1518 1084.4 1519 1088.0 1520 1085.9 1521 1089.1 1522 1084.0 1523 1082.6 1524 1087.7 1525 1084.4 1526 1084.8 1527 1088.4 1528 1085.7 1529 1088.5 1530 1085.2 1531 1087.0 1532 1087.8 1533 1089.1 1534 1088.5 1535 1085.9 1536 1086.1 1537 1089.0 1538 1089.4 1539 1089.2 1540 1083.6 1541 1083.3 1542 1087.2 1543 1084.5 1544 1086.0 1545 1087.2 1546 1086.4 1547 1087.4 1548 1090.9 1549 1084.5 1550 1087.4 1551 1085.5 1552 1091.2 1553 1084.5 1554 1088.1 1555 1086.3 1556 1091.0 1557 1089.5 1558 1083.6 1559 1088.6 1560 1086.5 1561 1086.5 1562 1089.8 1563 1092.3 1564 1084.3 1565 1084.6 1566 1084.8 1567 1087.9 1568 1085.1 1569 1088.5 1570 1080.6 1571 1083.7 1572 1087.8 1573 1088.5 1574 1082.6 1575 1081.9 1576 1083.9 1577 1083.6 1578 1083.4 1579 1082.4 1580 1090.0 1581 1086.0 1582 1081.5 1583 1081.5 1584 1082.8 1585 1083.7 1586 1077.7 1587 1084.9 1588 1074.6 1589 1080.2 1590 1083.6 1591 1082.8 1592 1078.1 1593 1075.9 1594 1078.9 1595 1079.8 1596 1078.2 1597 1076.8 1598 1075.3 1599 1080.7 1600 1076.2 1601 1073.6 1602 1072.8 1603 1075.7 1604 1071.5 1605 1076.9 1606 1069.2 1607 1069.9 1608 1067.4 1609 1071.9 1610 1066.2 1611 1065.6 1612 1069.7 1613 1070.1 1614 1065.3 1615 1069.4 1616 1067.5 1617 1059.9 1618 1065.2 1619 1066.5 1620 1062.2 1621 1058.7 1622 1059.2 1623 1056.7 1624 1058.2 1625 1059.0 1626 1055.8 1627 1054.7 1628 1057.3 1629 1051.5 1630 1053.1 1631 1045.9 1632 1045.7 1633 1047.7 1634 1047.6 1635 1045.6 1636 1043.6 1637 1040.6 1638 1040.2 1639 1039.2 1640 1034.8 1641 1028.8 1642 1029.5 1643 1034.7 1644 1028.0 1645 1025.7 1646 1022.7 1647 1023.2 1648 1024.7 1649 1021.5 1650 1018.4 1651 1010.8 1652 1011.8 1653 1011.2 1654 1008.0 1655 1006.8 1656 1005.9 1657 1001.9 1658 997.8 1659 997.9 1660 993.3 1661 989.0 1662 985.5 1663 987.9 1664 980.7 1665 975.7 1666 974.7 1667 972.6 1668 971.6 1669 970.6 1670 972.4 1671 969.6 1672 962.6 1673 970.9 1674 968.2 1675 967.1 1676 967.1 1677 966.1 1678 968.0 1679 964.6 1680 964.6 1681 967.5 1682 964.1 1683 965.2 1684 968.6 1685 973.4 1686 969.1 1687 970.9 1688 968.0 1689 970.4 1690 977.4 1691 973.8 1692 975.0 1693 974.0 1694 979.8 1695 981.4 1696 985.4 1697 988.9 1698 989.5 1699 992.4 1700 997.4 1701 1001.0 1702 1005.3 1703 1011.1 1704 1006.6 1705 1017.6 1706 1018.6 1707 1016.9 1708 1026.9 1709 1022.4 1710 1023.4 1711 1026.7 1712 1040.2 1713 1034.0 1714 1034.2 1715 1036.6 1716 1041.2 1717 1038.8 1718 1042.9 1719 1043.5 1720 1045.1 1721 1048.5 1722 1048.4 1723 1051.2 1724 1051.6 1725 1050.2 1726 1053.7 1727 1057.7 1728 1064.2 1729 1058.8 1730 1063.7 1731 1060.7 1732 1064.8 1733 1067.2 1734 1065.9 1735 1066.9 1736 1066.5 1737 1069.1 1738 1070.1 1739 1072.2 1740 1070.9 1741 1070.8 1742 1072.0 1743 1073.1 1744 1075.3 1745 1077.3 1746 1073.2 1747 1078.3 1748 1077.1 1749 1075.0 1750 1076.3 1751 1075.2 1752 1075.1 1753 1077.5 1754 1079.1 1755 1078.0 1756 1080.0 1757 1079.9 1758 1079.8 1759 1079.7 1760 1079.5 1761 1074.2 1762 1079.2 1763 1074.3 1764 1081.1 1765 1076.9 1766 1077.4 1767 1076.5 1768 1079.9 1769 1076.4 1770 1077.9 1771 1076.4 1772 1078.7 1773 1076.0 1774 1079.2 1775 1078.1 1776 1076.6 1777 1078.0 1778 1076.9 1779 1075.8 1780 1077.3 1781 1072.7 1782 1077.9 1783 1079.1 1784 1076.3 1785 1078.7 1786 1080.0 1787 1075.9 1788 1081.8 1789 1076.7 1790 1079.7 1791 1078.6 1792 1080.7 1793 1077.2 1794 1077.9 1795 1079.9 1796 1080.9 1797 1078.4 1798 1079.2 1799 1073.8 1800 1074.4 1801 1076.0 1802 1076.6 1803 1076.7 1804 1078.2 1805 1074.9 1806 1075.8 1807 1075.2 1808 1071.9 1809 1069.0 1810 1072.5 1811 1071.8 1812 1074.9 1813 1072.5 1814 1073.1 1815 1070.2 1816 1069.6 1817 1071.5 1818 1073.3 1819 1067.0 1820 1069.1 1821 1066.4 1822 1066.8 1823 1070.3 1824 1069.4 1825 1067.2 1826 1068.0 1827 1070.8 1828 1065.5 1829 1069.3 1830 1067.0 1831 1063.5 1832 1068.3 1833 1070.4 1834 1064.8 1835 1061.4 1836 1063.7 1837 1065.5 1838 1065.3 1839 1067.5 1840 1066.0 1841 1064.5 1842 1063.6 1843 1066.4 1844 1063.1 1845 1063.1 1846 1065.2 1847 1065.4 1848 1061.9 1849 1062.1 1850 1068.4 1851 1059.5 1852 1063.6 1853 1062.0 1854 1066.9 1855 1061.8 1856 1059.8 1857 1062.7 1858 1065.8 1859 1065.5 1860 1065.4 1861 1060.8 1862 1065.7 1863 1063.0 1864 1064.0 1865 1067.3 1866 1065.1 1867 1065.9 1868 1064.5 1869 1067.0 1870 1068.1 1871 1069.3 1872 1070.3 1873 1069.3 1874 1072.8 1875 1072.1 1876 1073.4 1877 1073.2 1878 1072.4 1879 1074.8 1880 1074.5 1881 1074.7 1882 1074.8 1883 1071.1 1884 1081.0 1885 1079.5 1886 1082.3 1887 1079.7 1888 1082.1 1889 1080.5 1890 1078.5 1891 1085.8 1892 1085.3 1893 1088.2 1894 1086.8 1895 1089.6 1896 1081.8 1897 1091.4 1898 1087.8 1899 1090.5 1900 1087.4 1901 1088.0 1902 1095.1 1903 1087.5 1904 1093.8 1905 1094.0 1906 1094.7 1907 1092.0 1908 1095.6 1909 1093.2 1910 1094.0 1911 1095.3 1912 1099.4 1913 1097.3 1914 1097.9 1915 1100.1 1916 1101.2 1917 1097.9 1918 1104.0 1919 1101.6 1920 1101.5 1921 1097.8 1922 1101.5 1923 1103.2 1924 1104.7 1925 1104.4 1926 1103.5 1927 1104.2 1928 1102.4 1929 1105.4 1930 1107.7 1931 1105.6 1932 1107.9 1933 1108.2 1934 1110.9 1935 1105.9 1936 1107.9 1937 1103.8 1938 1107.1 1939 1108.2 1940 1113.0 1941 1110.1 1942 1108.1 1943 1114.0 1944 1115.8 1945 1113.1 1946 1111.9 1947 1115.4 1948 1109.0 1949 1112.9 1950 1109.4 1951 1111.4 1952 1115.9 1953 1115.6 1954 1116.5 1955 1113.0 1956 1111.3 1957 1114.2 1958 1116.3 1959 1116.3 1960 1108.6 1961 1119.3 1962 1117.4 1963 1117.4 1964 1116.4 1965 1115.7 1966 1115.4 1967 1115.1 1968 1114.6 1969 1112.0 1970 1115.3 1971 1116.8 1972 1114.0 1973 1115.5 1974 1116.0 1975 1115.1 1976 1114.0 1977 1115.3 1978 1114.7 1979 1111.8 1980 1118.3 1981 1122.2 1982 1115.2 1983 1118.7 1984 1112.8 1985 1115.1 1986 1115.5 1987 1117.7 1988 1114.4 1989 1116.9 1990 1115.0 1991 1117.7 1992 1114.7 1993 1114.0 1994 1114.7 1995 1113.9 1996 1115.2 1997 1113.8 1998 1115.4 1999 1114.9 2000 1115.2 2001 1114.4 2002 1115.3 2003 1118.4 2004 1117.6 2005 1115.8 2006 1118.4 2007 1116.6 2008 1112.0 2009 1113.1 2010 1111.8 2011 1111.8 2012 1117.8 2013 1113.5 2014 1112.8 2015 1117.4 2016 1111.4 2017 1112.4 2018 1115.1 2019 1113.9 2020 1114.2 2021 1115.3 2022 1109.6 2023 1109.7 2024 1114.3 2025 1112.5 2026 1111.6 2027 1111.2 2028 1112.1 2029 1112.8 2030 1107.8 2031 1111.1 2032 1115.0 2033 1108.8 2034 1111.0 2035 1114.4 2036 1108.0 2037 1108.2 2038 1104.4 2039 1107.1 2040 1106.1 2041 1109.3 2042 1110.6 2043 1107.5 2044 1107.7 2045 1104.4 2046 1111.0 2047 1107.4 2048 1107.3 2049 1110.8 2050 1104.5 2051 1104.1 2052 1102.8 2053 1099.2 2054 1106.4 2055 1101.9 2056 1099.5 2057 1099.2 2058 1102.5 2059 1104.1 2060 1101.1 2061 1097.9 2062 1097.4 2063 1101.2 2064 1102.6 2065 1099.3 2066 1093.7 2067 1100.4 2068 1095.9 2069 1099.4 2070 1099.5 2071 1099.8 2072 1091.8 2073 1096.4 2074 1099.1 2075 1100.5 2076 1098.4 2077 1097.3 2078 1095.9 2079 1094.0 2080 1099.3 2081 1097.6 2082 1093.7 2083 1103.1 2084 1102.7 2085 1103.5 2086 1099.7 2087 1101.9 2088 1098.0 2089 1101.4 2090 1101.7 2091 1103.7 2092 1099.4 2093 1104.4 2094 1105.8 2095 1105.8 2096 1105.5 2097 1106.9 2098 1105.9 2099 1103.5 2100 1100.2 2101 1101.8 2102 1105.1 2103 1107.4 2104 1105.8 2105 1106.6 2106 1104.6 2107 1109.5 2108 1103.7 2109 1104.9 2110 1108.2 2111 1107.2 2112 1100.1 2113 1108.4 2114 1104.5 2115 1109.2 2116 1105.9 2117 1104.8 2118 1106.4 2119 1108.4 2120 1109.1 2121 1105.9 2122 1106.7 2123 1107.9 2124 1108.7 2125 1106.3 2126 1109.3 2127 1108.2 2128 1106.0 2129 1109.2 2130 1107.8 2131 1113.2 2132 1111.4 2133 1110.6 2134 1109.3 2135 1110.3 2136 1110.4 2137 1106.0 2138 1111.0 2139 1105.9 2140 1106.4 2141 1106.9 2142 1109.2 2143 1110.2 2144 1111.3 2145 1106.0 2146 1108.0 2147 1107.2 2148 1109.9 2149 1108.4 2150 1116.3 2151 1112.3 2152 1109.8 2153 1104.8 2154 1109.3 2155 1107.7 2156 1116.7 2157 1108.1 2158 1108.5 2159 1104.0 2160 1107.7 2161 1111.9 2162 1109.0 2163 1110.4 2164 1109.6 2165 1107.7 2166 1112.6 2167 1106.2 2168 1112.0 2169 1109.1 2170 1109.1 2171 1106.8 2172 1112.5 2173 1108.3 2174 1108.9 2175 1109.9 2176 1113.4 2177 1108.5 2178 1104.8 2179 1104.9 2180 1106.5 2181 1108.8 2182 1107.3 2183 1106.9 2184 1111.8 2185 1114.5 2186 1111.5 2187 1110.6 2188 1108.0 2189 1110.3 2190 1111.1 2191 1109.4 2192 1110.0 2193 1107.9 2194 1111.8 2195 1107.3 2196 1113.9 2197 1110.2 2198 1108.0 2199 1111.6 2200 1108.9 2201 1108.3 2202 1112.0 2203 1112.7 2204 1106.1 2205 1109.4 2206 1115.1 2207 1108.8 2208 1108.5 2209 1107.8 2210 1103.5 2211 1114.4 2212 1109.3 2213 1110.8 2214 1114.0 2215 1112.5 2216 1112.2 2217 1105.9 2218 1104.2 2219 1112.3 2220 1110.9 2221 1112.1 2222 1111.6 2223 1112.6 2224 1113.7 2225 1113.7 2226 1109.8 2227 1113.1 2228 1108.0 2229 1110.5 2230 1107.6 2231 1112.8 2232 1112.4 2233 1109.5 2234 1109.1 2235 1111.0 2236 1114.4 2237 1114.6 2238 1106.2 2239 1111.2 2240 1113.5 2241 1113.3 2242 1112.9 2243 1107.9 2244 1110.4 2245 1114.6 2246 1110.6 2247 1109.4 2248 1112.0 2249 1113.4 2250 1115.5 2251 1113.6 2252 1110.6 2253 1115.1 2254 1110.5 2255 1111.0 2256 1114.6 2257 1114.3 2258 1114.0 2259 1113.9 2260 1111.2 2261 1112.2 2262 1112.3 2263 1110.4 2264 1110.8 2265 1114.0 2266 1112.3 2267 1109.5 2268 1106.4 2269 1109.5 2270 1111.3 2271 1113.0 2272 1112.9 2273 1111.8 2274 1108.1 2275 1110.8 2276 1107.5 2277 1112.1 2278 1111.1 2279 1112.2 2280 1109.1" stroke="#00AD66"/><path d="M83 941.6 84 941.5 85 938.2 86 939.9 87 939.9 88 940.1 89 946.0 90 941.4 91 939.0 92 938.5 93 942.7 94 938.6 95 939.5 96 942.2 97 941.9 98 937.0 99 944.8 100 940.4 101 942.3 102 940.5 103 944.4 104 938.6 105 937.8 106 940.7 107 943.4 108 939.5 109 942.0 110 943.9 111 935.5 112 939.8 113 942.6 114 938.0 115 939.2 116 938.1 117 941.7 118 937.6 119 941.1 120 943.2 121 934.4 122 940.5 123 939.0 124 937.8 125 940.4 126 938.8 127 934.8 128 937.4 129 939.0 130 937.0 131 935.3 132 945.9 133 943.1 134 942.6 135 939.2 136 933.1 137 938.1 138 940.4 139 937.6 140 937.2 141 939.8 142 944.8 143 939.7 144 939.1 145 936.7 146 943.1 147 939.8 148 938.7 149 938.0 150 937.3 151 939.6 152 944.7 153 939.1 154 940.5 155 936.8 156 939.8 157 934.9 158 943.0 159 937.4 160 940.3 161 939.3 162 942.9 163 940.5 164 940.6 165 934.3 166 935.7 167 935.6 168 935.7 169 936.0 170 940.8 171 938.1 172 938.2 173 935.6 174 935.5 175 934.3 176 941.0 177 938.3 178 940.0 179 938.6 180 935.3 181 937.7 182 931.8 183 939.8 184 937.8 185 938.4 186 938.0 187 939.4 188 937.0 189 937.7 190 935.7 191 936.9 192 938.4 193 940.1 194 936.4 195 933.5 196 932.2 197 936.6 198 935.3 199 939.0 200 941.9 201 935.1 202 941.0 203 940.7 204 934.5 205 943.1 206 944.5 207 934.9 208 934.3 209 939.3 210 935.4 211 935.3 212 938.9 213 937.4 214 937.8 215 941.2 216 940.8 217 932.3 218 939.8 219 937.2 220 938.0 221 939.4 222 942.2 223 939.3 224 936.7 225 938.3 226 932.7 227 938.5 228 937.5 229 933.9 230 933.6 231 933.0 232 934.1 233 938.2 234 936.1 235 934.7 236 935.8 237 940.0 238 935.6 239 934.2 240 942.5 241 934.0 242 937.7 243 938.8 244 936.7 245 935.6 246 939.8 247 936.6 248 938.0 249 936.0 250 940.7 251 933.6 252 932.6 253 933.7 254 935.7 255 935.3 256 926.0 257 934.1 258 937.2 259 924.9 260 932.4 261 935.1 262 933.8 263 933.5 264 934.1 265 933.7 266 936.4 267 937.6 268 939.1 269 936.0 270 933.6 271 932.5 272 932.5 273 931.1 274 937.1 275 940.2 276 935.1 277 936.0 278 929.2 279 935.1 280 933.5 281 935.4 282 933.0 283 933.1 284 932.8 285 933.3 286 940.7 287 936.9 288 931.0 289 934.4 290 934.0 291 940.6 292 930.0 293 936.7 294 940.7 295 940.8 296 939.5 297 934.3 298 930.3 299 932.0 300 932.8 301 934.1 302 932.8 303 930.9 304 936.3 305 934.9 306 933.4 307 933.1 308 932.7 309 931.6 310 941.4 311 933.4 312 932.7 313 938.5 314 933.3 315 935.1 316 931.4 317 933.1 318 929.1 319 935.5 320 939.8 321 934.8 322 935.1 323 937.3 324 937.3 325 931.5 326 931.8 327 933.0 328 937.4 329 930.5 330 932.2 331 933.1 332 933.8 333 934.3 334 932.6 335 937.0 336 931.5 337 939.3 338 934.1 339 935.4 340 930.0 341 934.3 342 929.9 343 929.2 344 935.4 345 933.8 346 929.9 347 927.4 348 935.1 349 933.1 350 935.2 351 935.6 352 936.1 353 926.5 354 923.7 355 934.6 356 927.4 357 935.8 358 933.7 359 932.5 360 932.3 361 928.0 362 932.1 363 931.8 364 933.4 365 937.8 366 930.8 367 934.1 368 937.2 369 938.5 370 929.7 371 929.8 372 928.7 373 927.3 374 933.7 375 936.1 376 933.5 377 930.3 378 930.1 379 932.5 380 929.6 381 931.2 382 930.2 383 934.2 384 933.4 385 932.0 386 928.4 387 930.1 388 933.6 389 936.5 390 929.9 391 938.7 392 930.2 393 930.2 394 932.2 395 929.3 396 931.2 397 931.4 398 929.8 399 930.2 400 932.5 401 934.4 402 937.2 403 931.3 404 926.7 405 929.4 406 926.1 407 930.8 408 928.6 409 931.4 410 929.6 411 930.3 412 929.1 413 934.5 414 924.9 415 933.2 416 933.2 417 931.6 418 930.6 419 931.0 420 929.0 421 926.6 422 931.9 423 931.6 424 932.0 425 926.8 426 932.3 427 931.0 428 934.4 429 929.1 430 923.0 431 925.9 432 929.9 433 924.7 434 930.5 435 924.9 436 928.7 437 929.0 438 925.6 439 929.0 440 930.9 441 925.9 442 923.7 443 925.3 444 928.6 445 929.3 446 924.4 447 924.8 448 928.0 449 925.6 450 929.9 451 924.6 452 922.6 453 920.6 454 921.9 455 918.5 456 923.8 457 927.5 458 917.9 459 918.0 460 918.4 461 920.7 462 918.2 463 922.9 464 923.1 465 917.9 466 918.8 467 917.0 468 914.4 469 923.4 470 915.1 471 916.3 472 914.1 473 918.2 474 917.8 475 913.9 476 915.1 477 921.7 478 920.9 479 912.2 480 914.4 481 913.0 482 915.0 483 910.2 484 914.7 485 915.7 486 916.0 487 908.0 488 917.2 489 909.0 490 907.4 491 914.4 492 913.5 493 910.6 494 913.0 495 912.2 496 910.9 497 906.6 498 908.4 499 909.2 500 912.3 501 913.1 502 908.0 503 906.5 504 905.7 505 910.3 506 905.6 507 913.3 508 907.5 509 907.2 510 908.5 511 906.3 512 903.5 513 906.1 514 906.8 515 904.0 516 904.5 517 904.8 518 899.5 519 902.3 520 903.9 521 900.8 522 905.2 523 905.1 524 897.1 525 901.5 526 904.2 527 901.8 528 904.0 529 904.0 530 897.8 531 902.6 532 899.1 533 894.9 534 902.7 535 898.9 536 900.5 537 902.6 538 903.3 539 899.5 540 897.4 541 898.0 542 902.7 543 898.5 544 907.1 545 903.5 546 897.0 547 903.8 548 896.9 549 898.0 550 898.0 551 895.0 552 898.1 553 899.4 554 904.0 555 901.2 556 895.6 557 898.0 558 900.2 559 896.5 560 894.4 561 896.2 562 893.2 563 896.5 564 894.7 565 899.4 566 897.4 567 892.3 568 897.7 569 894.9 570 892.9 571 896.2 572 892.9 573 890.2 574 891.5 575 897.8 576 898.7 577 893.1 578 895.2 579 887.6 580 896.2 581 893.2 582 895.0 583 892.4 584 886.7 585 888.0 586 893.7 587 888.0 588 892.8 589 896.3 590 884.3 591 894.0 592 891.8 593 891.1 594 892.0 595 887.4 596 878.4 597 884.8 598 884.4 599 877.8 600 885.0 601 884.1 602 878.6 603 881.3 604 880.6 605 879.8 606 879.0 607 881.4 608 878.4 609 883.0 610 877.2 611 879.6 612 879.2 613 870.3 614 874.6 615 874.5 616 874.1 617 872.9 618 874.2 619 865.6 620 868.0 621 871.1 622 865.9 623 866.0 624 861.7 625 857.7 626 856.3 627 861.7 628 857.7 629 851.7 630 853.7 631 847.2 632 845.8 633 841.3 634 843.4 635 844.4 636 848.0 637 838.3 638 838.2 639 836.7 640 836.3 641 829.9 642 826.7 643 830.5 644 822.4 645 825.3 646 820.2 647 819.6 648 818.8 649 810.4 650 819.5 651 807.2 652 805.6 653 808.0 654 799.2 655 798.4 656 798.3 657 793.0 658 789.7 659 783.9 660 777.3 661 769.0 662 766.7 663 753.4 664 738.9 665 731.4 666 725.3 667 716.5 668 698.3 669 691.2 670 674.3 671 669.2 672 665.8 673 652.9 674 640.1 675 627.8 676 621.0 677 611.3 678 602.1 679 593.9 680 580.0 681 567.8 682 561.3 683 551.9 684 539.3 685 535.1 686 515.4 687 506.4 688 491.9 689 477.1 690 462.5 691 439.3 692 437.2 693 426.5 694 409.0 695 408.3 696 398.5 697 399.7 698 393.7 699 397.6 700 397.2 701 399.1 702 404.2 703 402.6 704 400.4 705 415.9 706 431.8 707 451.3 708 464.5 709 472.0 710 490.1 711 499.9 712 513.0 713 528.6 714 537.3 715 557.4 716 570.8 717 588.3 718 599.8 719 611.7 720 626.8 721 632.7 722 646.9 723 653.7 724 665.4 725 677.3 726 690.0 727 701.0 728 710.3 729 713.6 730 724.1 731 730.9 732 737.7 733 753.4 734 754.0 735 766.4 736 768.0 737 773.8 738 781.9 739 780.4 740 788.4 741 787.6 742 793.4 743 796.2 744 799.9 745 798.5 746 803.4 747 808.4 748 799.4 749 813.8 750 815.9 751 816.4 752 817.4 753 821.2 754 820.4 755 825.6 756 826.3 757 831.5 758 828.8 759 827.5 760 832.7 761 831.9 762 838.4 763 832.4 764 834.5 765 836.7 766 837.7 767 839.9 768 847.7 769 841.1 770 846.4 771 835.4 772 844.7 773 844.6 774 850.2 775 847.0 776 848.1 777 845.8 778 847.5 779 855.0 780 845.1 781 842.8 782 848.6 783 846.4 784 845.8 785 843.9 786 856.7 787 850.5 788 850.0 789 853.6 790 854.5 791 852.1 792 854.4 793 847.9 794 853.3 795 849.4 796 852.2 797 856.9 798 852.5 799 859.1 800 856.4 801 855.2 802 849.2 803 852.5 804 853.1 805 853.7 806 850.2 807 845.0 808 850.8 809 842.5 810 848.1 811 838.6 812 843.3 813 844.3 814 843.3 815 836.2 816 839.3 817 837.3 818 836.9 819 836.7 820 834.0 821 836.6 822 827.0 823 830.3 824 828.2 825 822.2 826 824.7 827 821.7 828 817.5 829 819.7 830 815.4 831 816.3 832 811.5 833 811.9 834 805.8 835 801.9 836 799.6 837 797.9 838 786.4 839 780.9 840 771.9 841 759.2 842 736.0 843 728.0 844 712.3 845 697.9 846 681.1 847 663.9 848 653.3 849 644.0 850 628.9 851 611.0 852 597.2 853 574.9 854 554.9 855 538.0 856 514.0 857 492.3 858 473.0 859 453.3 860 437.2 861 418.0 862 401.9 863 393.6 864 379.7 865 380.3 866 373.2 867 373.6 868 383.6 869 386.0 870 402.3 871 419.4 872 426.0 873 429.8 874 453.0 875 467.9 876 480.7 877 500.8 878 504.7 879 518.3 880 535.2 881 543.7 882 557.7 883 565.1 884 573.4 885 581.9 886 594.2 887 603.0 888 616.4 889 624.8 890 628.2 891 646.5 892 652.8 893 660.8 894 679.4 895 684.3 896 694.6 897 705.1 898 708.5 899 720.3 900 728.3 901 733.2 902 743.0 903 751.3 904 757.0 905 757.5 906 769.8 907 779.5 908 791.2 909 797.3 910 805.2 911 809.3 912 823.1 913 836.6 914 837.6 915 843.7 916 852.2 917 857.7 918 865.0 919 874.1 920 877.4 921 884.4 922 887.8 923 888.6 924 889.1 925 898.9 926 895.7 927 899.3 928 894.2 929 899.1 930 899.8 931 907.7 932 905.2 933 903.4 934 906.3 935 905.8 936 907.5 937 902.3 938 901.8 939 908.3 940 909.4 941 910.3 942 915.1 943 911.1 944 912.6 945 911.7 946 908.7 947 911.2 948 913.1 949 915.2 950 920.8 951 918.0 952 917.0 953 912.9 954 920.6 955 917.8 956 904.8 957 920.8 958 921.2 959 922.4 960 922.3 961 919.7 962 921.8 963 919.9 964 922.5 965 924.5 966 925.1 967 921.8 968 928.7 969 924.3 970 918.8 971 929.3 972 928.5 973 929.9 974 926.1 975 925.7 976 924.8 977 929.2 978 929.9 979 929.9 980 930.4 981 926.3 982 929.2 983 930.6 984 928.8 985 934.4 986 923.4 987 931.0 988 929.1 989 930.2 990 930.5 991 930.0 992 931.2 993 930.7 994 927.3 995 933.3 996 933.4 997 928.6 998 933.6 999 932.3 1000 933.8 1001 932.9 1002 930.5 1003 934.3 1004 928.3 1005 938.0 1006 931.4 1007 931.8 1008 936.1 1009 934.3 1010 936.9 1011 940.4 1012 937.2 1013 935.0 1014 932.8 1015 935.8 1016 933.4 1017 937.3 1018 928.7 1019 935.2 1020 936.0 1021 935.2 1022 940.2 1023 941.0 1024 933.3 1025 943.0 1026 938.6 1027 940.8 1028 941.9 1029 939.7 1030 941.4 1031 943.3 1032 940.1 1033 942.9 1034 945.2 1035 942.5 1036 942.5 1037 944.3 1038 942.1 1039 943.2 1040 940.4 1041 944.3 1042 942.8 1043 945.8 1044 950.0 1045 947.9 1046 944.3 1047 947.0 1048 945.6 1049 943.5 1050 947.5 1051 949.2 1052 947.8 1053 946.1 1054 943.1 1055 945.0 1056 947.6 1057 946.7 1058 948.1 1059 944.4 1060 938.4 1061 948.5 1062 948.0 1063 950.2 1064 950.0 1065 948.5 1066 944.5 1067 941.7 1068 943.9 1069 943.2 1070 941.7 1071 944.5 1072 948.6 1073 943.9 1074 946.0 1075 947.6 1076 943.1 1077 944.7 1078 943.7 1079 941.2 1080 947.2 1081 947.9 1082 947.9 1083 945.7 1084 943.1 1085 949.4 1086 940.0 1087 946.2 1088 944.6 1089 941.8 1090 948.5 1091 950.0 1092 944.4 1093 944.2 1094 945.9 1095 944.6 1096 951.1 1097 939.5 1098 942.9 1099 946.4 1100 943.6 1101 943.5 1102 943.9 1103 944.8 1104 948.4 1105 942.2 1106 947.7 1107 942.4 1108 942.2 1109 947.7 1110 946.5 1111 947.5 1112 947.7 1113 943.6 1114 942.5 1115 945.8 1116 942.5 1117 944.7 1118 950.0 1119 941.2 1120 941.8 1121 947.3 1122 947.8 1123 944.4 1124 945.7 1125 943.8 1126 943.4 1127 945.3 1128 947.0 1129 939.0 1130 940.2 1131 945.4 1132 943.1 1133 946.8 1134 945.0 1135 943.7 1136 944.8 1137 953.5 1138 944.6 1139 942.8 1140 940.1 1141 946.5 1142 949.0 1143 945.1 1144 945.0 1145 944.3 1146 945.4 1147 943.9 1148 945.6 1149 949.4 1150 945.0 1151 949.5 1152 943.0 1153 943.6 1154 942.1 1155 943.8 1156 944.7 1157 949.2 1158 943.6 1159 943.6 1160 944.5 1161 941.5 1162 943.7 1163 938.3 1164 945.8 1165 945.8 1166 946.0 1167 948.4 1168 945.7 1169 947.2 1170 945.7 1171 944.1 1172 944.6 1173 945.5 1174 945.2 1175 939.4 1176 940.0 1177 940.9 1178 939.3 1179 940.9 1180 940.2 1181 939.4 1182 942.2 1183 945.7 1184 946.2 1185 946.7 1186 946.0 1187 935.0 1188 946.9 1189 942.6 1190 937.5 1191 939.3 1192 940.1 1193 939.1 1194 944.3 1195 940.6 1196 946.7 1197 945.8 1198 936.0 1199 939.5 1200 943.3 1201 941.9 1202 940.4 1203 940.3 1204 939.2 1205 938.5 1206 941.9 1207 940.1 1208 937.6 1209 934.6 1210 940.6 1211 939.1 1212 932.1 1213 939.8 1214 935.8 1215 939.6 1216 938.6 1217 942.1 1218 935.5 1219 943.3 1220 939.1 1221 944.5 1222 939.9 1223 938.8 1224 936.1 1225 943.7 1226 942.4 1227 939.1 1228 937.4 1229 937.0 1230 937.3 1231 938.5 1232 935.4 1233 936.3 1234 938.7 1235 936.5 1236 936.1 1237 940.5 1238 941.6 1239 938.8 1240 938.4 1241 938.2 1242 937.1 1243 937.6 1244 938.5 1245 934.5 1246 933.3 1247 934.9 1248 934.7 1249 938.2 1250 939.1 1251 936.7 1252 933.3 1253 932.8 1254 931.4 1255 936.1 1256 938.1 1257 934.3 1258 935.0 1259 936.4 1260 935.8 1261 934.2 1262 934.8 1263 935.0 1264 935.3 1265 939.4 1266 935.7 1267 938.4 1268 935.0 1269 938.3 1270 935.6 1271 932.4 1272 931.0 1273 938.0 1274 932.8 1275 935.0 1276 931.1 1277 935.8 1278 932.8 1279 939.7 1280 933.0 1281 936.9 1282 942.0 1283 938.9 1284 937.0 1285 931.6 1286 938.5 1287 939.5 1288 933.6 1289 934.7 1290 933.1 1291 932.1 1292 934.5 1293 935.7 1294 935.3 1295 937.5 1296 935.9 1297 927.0 1298 938.0 1299 931.6 1300 934.1 1301 935.3 1302 936.5 1303 930.9 1304 937.4 1305 930.1 1306 931.8 1307 937.4 1308 928.1 1309 932.9 1310 938.0 1311 936.1 1312 934.0 1313 936.0 1314 934.9 1315 928.8 1316 937.8 1317 932.2 1318 931.5 1319 936.4 1320 935.3 1321 934.2 1322 934.5 1323 933.5 1324 929.2 1325 927.7 1326 935.8 1327 935.1 1328 933.1 1329 937.5 1330 931.6 1331 931.3 1332 931.2 1333 931.6 1334 930.4 1335 932.7 1336 931.0 1337 933.7 1338 935.6 1339 931.0 1340 933.4 1341 935.3 1342 931.9 1343 933.5 1344 936.1 1345 930.7 1346 934.6 1347 939.8 1348 932.0 1349 928.4 1350 930.2 1351 931.3 1352 935.9 1353 934.3 1354 931.7 1355 926.6 1356 931.7 1357 938.3 1358 928.4 1359 933.3 1360 934.0 1361 935.0 1362 934.7 1363 935.6 1364 932.3 1365 934.1 1366 934.2 1367 931.7 1368 931.8 1369 929.7 1370 935.1 1371 924.3 1372 934.6 1373 927.1 1374 932.9 1375 930.4 1376 940.1 1377 932.9 1378 930.6 1379 935.8 1380 934.0 1381 929.5 1382 931.7 1383 936.0 1384 923.6 1385 927.8 1386 931.2 1387 936.4 1388 927.8 1389 930.7 1390 930.2 1391 934.6 1392 932.8 1393 931.5 1394 928.7 1395 926.2 1396 933.3 1397 936.4 1398 930.6 1399 929.0 1400 935.0 1401 927.0 1402 925.1 1403 933.5 1404 933.2 1405 935.2 1406 929.9 1407 931.7 1408 930.8 1409 933.3 1410 931.6 1411 931.9 1412 932.2 1413 931.6 1414 929.1 1415 933.4 1416 932.9 1417 932.6 1418 929.2 1419 931.0 1420 929.5 1421 925.1 1422 933.2 1423 929.4 1424 926.5 1425 934.5 1426 928.2 1427 925.2 1428 930.1 1429 926.5 1430 929.1 1431 937.4 1432 935.9 1433 928.9 1434 933.6 1435 930.6 1436 934.3 1437 927.4 1438 928.2 1439 931.1 1440 930.7 1441 933.7 1442 933.9 1443 932.5 1444 935.9 1445 932.0 1446 930.3 1447 926.8 1448 934.0 1449 926.8 1450 927.9 1451 932.0 1452 933.9 1453 932.1 1454 928.9 1455 937.2 1456 928.0 1457 935.4 1458 927.5 1459 932.5 1460 931.4 1461 930.2 1462 927.8 1463 929.6 1464 928.3 1465 923.8 1466 930.0 1467 927.1 1468 925.1 1469 920.9 1470 924.2 1471 925.8 1472 922.5 1473 921.1 1474 921.4 1475 918.0 1476 919.7 1477 915.7 1478 920.0 1479 919.3 1480 917.9 1481 917.6 1482 916.7 1483 913.1 1484 913.3 1485 916.1 1486 913.3 1487 913.1 1488 912.6 1489 916.3 1490 915.3 1491 916.6 1492 918.9 1493 915.4 1494 913.0 1495 915.1 1496 916.4 1497 917.7 1498 914.1 1499 915.9 1500 911.5 1501 912.0 1502 910.6 1503 915.1 1504 910.8 1505 913.1 1506 914.1 1507 910.6 1508 913.7 1509 916.3 1510 915.1 1511 916.2 1512 914.1 1513 917.1 1514 914.8 1515 909.9 1516 914.9 1517 914.3 1518 910.2 1519 911.2 1520 914.1 1521 907.4 1522 913.0 1523 908.6 1524 914.7 1525 914.8 1526 909.0 1527 909.6 1528 911.1 1529 911.7 1530 910.0 1531 920.0 1532 912.3 1533 908.4 1534 912.8 1535 910.1 1536 912.2 1537 915.1 1538 909.5 1539 912.4 1540 910.9 1541 911.9 1542 915.7 1543 915.7 1544 906.6 1545 916.4 1546 915.3 1547 909.9 1548 914.3 1549 910.5 1550 913.0 1551 906.1 1552 914.5 1553 906.3 1554 906.2 1555 911.7 1556 913.9 1557 910.6 1558 913.2 1559 914.4 1560 911.5 1561 914.9 1562 913.8 1563 908.8 1564 907.1 1565 908.2 1566 909.3 1567 914.1 1568 914.6 1569 904.6 1570 914.9 1571 902.4 1572 903.8 1573 904.6 1574 911.9 1575 904.6 1576 909.0 1577 907.7 1578 905.4 1579 907.3 1580 904.2 1581 906.6 1582 904.8 1583 914.5 1584 900.9 1585 906.0 1586 902.7 1587 908.8 1588 906.9 1589 903.4 1590 905.6 1591 899.2 1592 900.6 1593 904.5 1594 897.3 1595 902.5 1596 902.1 1597 901.0 1598 898.8 1599 897.9 1600 892.5 1601 896.0 1602 888.8 1603 889.7 1604 893.1 1605 893.8 1606 887.2 1607 892.2 1608 887.7 1609 883.8 1610 887.3 1611 886.7 1612 883.3 1613 883.0 1614 888.0 1615 878.7 1616 876.0 1617 877.3 1618 878.3 1619 875.7 1620 877.4 1621 874.4 1622 873.1 1623 868.3 1624 873.0 1625 864.0 1626 870.6 1627 861.1 1628 860.4 1629 860.7 1630 865.0 1631 856.3 1632 859.8 1633 854.8 1634 850.2 1635 853.7 1636 848.6 1637 845.9 1638 848.2 1639 844.3 1640 841.9 1641 838.9 1642 843.2 1643 830.3 1644 830.5 1645 827.2 1646 825.1 1647 819.5 1648 820.9 1649 819.8 1650 816.3 1651 811.8 1652 807.8 1653 809.2 1654 804.2 1655 804.6 1656 801.3 1657 803.3 1658 788.3 1659 796.6 1660 790.8 1661 790.8 1662 787.7 1663 785.9 1664 777.9 1665 778.6 1666 777.4 1667 776.0 1668 771.7 1669 770.9 1670 759.8 1671 768.8 1672 769.6 1673 767.1 1674 767.4 1675 768.5 1676 766.1 1677 767.1 1678 759.7 1679 761.2 1680 760.3 1681 765.1 1682 768.2 1683 768.7 1684 768.1 1685 765.6 1686 768.3 1687 763.8 1688 768.7 1689 772.9 1690 772.9 1691 776.3 1692 781.8 1693 780.8 1694 784.2 1695 786.6 1696 798.3 1697 796.0 1698 799.5 1699 806.5 1700 808.5 1701 808.6 1702 810.4 1703 817.0 1704 820.8 1705 825.3 1706 826.0 1707 825.4 1708 826.2 1709 831.5 1710 837.7 1711 839.8 1712 841.1 1713 843.0 1714 842.6 1715 852.3 1716 853.7 1717 851.2 1718 856.5 1719 863.6 1720 861.0 1721 867.1 1722 865.3 1723 865.0 1724 875.1 1725 872.6 1726 877.5 1727 875.2 1728 878.6 1729 884.7 1730 883.3 1731 882.7 1732 884.8 1733 881.8 1734 888.6 1735 891.7 1736 895.4 1737 886.8 1738 888.6 1739 889.4 1740 890.1 1741 888.5 1742 891.3 1743 894.9 1744 891.4 1745 899.0 1746 888.6 1747 892.6 1748 895.9 1749 895.5 1750 894.3 1751 903.2 1752 902.0 1753 900.4 1754 899.1 1755 896.1 1756 895.0 1757 901.6 1758 903.0 1759 902.4 1760 901.0 1761 900.6 1762 900.7 1763 905.0 1764 896.3 1765 898.8 1766 900.9 1767 901.7 1768 900.5 1769 902.9 1770 901.6 1771 900.3 1772 898.7 1773 897.1 1774 901.4 1775 905.5 1776 905.2 1777 895.9 1778 901.5 1779 899.1 1780 901.6 1781 897.4 1782 907.6 1783 898.0 1784 899.1 1785 905.2 1786 906.2 1787 900.2 1788 896.0 1789 904.1 1790 902.1 1791 900.8 1792 901.0 1793 898.2 1794 901.8 1795 899.5 1796 903.4 1797 900.6 1798 905.3 1799 902.8 1800 903.1 1801 900.8 1802 904.4 1803 902.1 1804 900.0 1805 896.5 1806 901.8 1807 900.5 1808 905.1 1809 903.3 1810 899.8 1811 894.7 1812 901.9 1813 905.2 1814 900.1 1815 897.7 1816 899.5 1817 895.3 1818 898.9 1819 892.7 1820 890.1 1821 892.7 1822 896.8 1823 892.0 1824 888.6 1825 894.2 1826 891.9 1827 895.1 1828 899.9 1829 895.6 1830 895.6 1831 893.3 1832 888.8 1833 889.6 1834 888.8 1835 892.8 1836 890.9 1837 890.5 1838 891.5 1839 888.9 1840 892.5 1841 886.9 1842 898.0 1843 893.2 1844 891.9 1845 891.7 1846 891.9 1847 892.3 1848 887.5 1849 889.5 1850 891.3 1851 888.8 1852 889.4 1853 888.2 1854 892.7 1855 890.4 1856 886.6 1857 883.7 1858 888.5 1859 892.6 1860 885.7 1861 889.2 1862 889.2 1863 892.0 1864 890.4 1865 891.4 1866 889.3 1867 888.3 1868 889.8 1869 890.4 1870 889.9 1871 892.0 1872 889.5 1873 896.7 1874 892.4 1875 891.2 1876 894.9 1877 891.7 1878 901.0 1879 894.5 1880 895.7 1881 896.4 1882 887.1 1883 902.8 1884 892.5 1885 897.5 1886 902.8 1887 899.8 1888 899.9 1889 898.6 1890 906.0 1891 901.7 1892 904.9 1893 906.2 1894 902.6 1895 908.0 1896 908.8 1897 911.0 1898 906.1 1899 911.0 1900 910.4 1901 910.8 1902 920.4 1903 916.7 1904 915.9 1905 915.1 1906 913.8 1907 917.7 1908 915.0 1909 918.5 1910 922.8 1911 920.9 1912 925.2 1913 918.5 1914 922.1 1915 930.0 1916 919.5 1917 922.7 1918 928.8 1919 923.3 1920 922.5 1921 925.5 1922 922.8 1923 928.1 1924 921.1 1925 934.7 1926 930.1 1927 924.9 1928 930.7 1929 930.0 1930 930.8 1931 936.6 1932 931.3 1933 930.5 1934 932.2 1935 928.8 1936 929.6 1937 933.8 1938 938.2 1939 932.6 1940 936.3 1941 940.2 1942 933.7 1943 932.2 1944 936.7 1945 931.2 1946 932.9 1947 932.5 1948 933.3 1949 936.1 1950 927.2 1951 932.4 1952 936.3 1953 935.4 1954 938.9 1955 931.8 1956 938.4 1957 937.4 1958 935.6 1959 937.4 1960 933.9 1961 934.4 1962 935.2 1963 930.9 1964 935.7 1965 931.6 1966 941.1 1967 937.6 1968 947.2 1969 937.8 1970 931.4 1971 938.6 1972 934.1 1973 939.1 1974 941.7 1975 930.3 1976 937.5 1977 934.4 1978 935.9 1979 940.7 1980 938.7 1981 937.7 1982 937.2 1983 935.5 1984 935.4 1985 937.8 1986 936.7 1987 931.4 1988 932.2 1989 936.5 1990 940.2 1991 936.0 1992 933.6 1993 936.7 1994 934.0 1995 936.3 1996 939.6 1997 931.6 1998 935.5 1999 936.8 2000 936.8 2001 936.6 2002 936.7 2003 936.1 2004 938.5 2005 932.7 2006 935.0 2007 936.2 2008 937.2 2009 937.8 2010 937.5 2011 928.8 2012 934.7 2013 936.7 2014 929.3 2015 929.7 2016 935.8 2017 928.2 2018 930.5 2019 932.0 2020 930.3 2021 928.8 2022 927.8 2023 933.5 2024 929.4 2025 927.8 2026 925.5 2027 924.8 2028 927.9 2029 928.9 2030 921.0 2031 924.0 2032 927.3 2033 928.9 2034 931.6 2035 928.6 2036 925.6 2037 926.2 2038 923.1 2039 926.0 2040 926.4 2041 921.5 2042 924.9 2043 925.5 2044 925.6 2045 926.8 2046 927.8 2047 918.9 2048 923.2 2049 927.6 2050 924.8 2051 922.1 2052 921.7 2053 921.3 2054 924.0 2055 927.7 2056 928.8 2057 918.4 2058 923.1 2059 921.1 2060 919.8 2061 925.7 2062 920.0 2063 922.8 2064 921.9 2065 920.0 2066 927.5 2067 926.0 2068 925.5 2069 919.9 2070 918.6 2071 922.1 2072 918.5 2073 924.1 2074 921.9 2075 922.0 2076 918.7 2077 921.3 2078 919.6 2079 920.7 2080 916.7 2081 921.0 2082 915.1 2083 922.1 2084 923.1 2085 919.9 2086 922.1 2087 923.5 2088 914.4 2089 921.2 2090 918.4 2091 926.9 2092 921.0 2093 921.4 2094 927.3 2095 925.5 2096 922.1 2097 925.2 2098 928.6 2099 929.5 2100 927.9 2101 927.5 2102 928.9 2103 924.4 2104 929.4 2105 927.2 2106 932.0 2107 923.9 2108 926.9 2109 925.9 2110 929.0 2111 935.2 2112 927.4 2113 927.7 2114 929.6 2115 931.2 2116 927.2 2117 933.9 2118 929.1 2119 927.2 2120 926.2 2121 926.2 2122 927.4 2123 931.7 2124 930.2 2125 931.9 2126 929.7 2127 928.3 2128 925.8 2129 928.0 2130 931.8 2131 933.6 2132 926.8 2133 930.3 2134 931.2 2135 924.5 2136 933.4 2137 933.4 2138 933.8 2139 939.4 2140 927.5 2141 927.0 2142 927.5 2143 932.8 2144 930.2 2145 932.6 2146 923.8 2147 926.8 2148 932.0 2149 931.9 2150 927.4 2151 929.3 2152 926.5 2153 927.6 2154 924.7 2155 934.1 2156 931.0 2157 934.3 2158 930.2 2159 931.9 2160 933.7 2161 924.5 2162 924.2 2163 928.2 2164 928.1 2165 931.6 2166 929.2 2167 931.6 2168 929.2 2169 928.7 2170 925.2 2171 926.7 2172 926.8 2173 930.1 2174 929.4 2175 926.9 2176 931.2 2177 931.5 2178 926.9 2179 929.8 2180 932.5 2181 933.6 2182 927.3 2183 930.6 2184 931.1 2185 921.7 2186 924.8 2187 930.2 2188 929.5 2189 927.6 2190 927.1 2191 926.7 2192 922.9 2193 926.2 2194 932.7 2195 928.4 2196 931.3 2197 924.8 2198 926.4 2199 928.9 2200 929.6 2201 928.0 2202 927.4 2203 931.3 2204 925.8 2205 934.2 2206 929.9 2207 927.7 2208 929.8 2209 928.3 2210 927.5 2211 924.6 2212 929.0 2213 928.6 2214 931.4 2215 927.9 2216 924.5 2217 929.5 2218 930.3 2219 919.3 2220 927.1 2221 928.8 2222 923.0 2223 928.7 2224 926.9 2225 931.6 2226 924.4 2227 929.4 2228 930.9 2229 925.2 2230 921.7 2231 925.3 2232 926.2 2233 927.0 2234 921.7 2235 925.6 2236 926.2 2237 929.4 2238 933.1 2239 927.2 2240 927.8 2241 927.9 2242 924.4 2243 933.7 2244 927.0 2245 930.1 2246 935.6 2247 925.6 2248 929.9 2249 922.2 2250 929.5 2251 930.8 2252 928.6 2253 927.3 2254 937.4 2255 930.8 2256 928.5 2257 925.9 2258 925.5 2259 929.0 2260 926.9 2261 927.2 2262 928.3 2263 925.7 2264 929.9 2265 917.0 2266 934.1 2267 924.8 2268 924.1 2269 928.0 2270 929.8 2271 932.3 2272 926.9 2273 934.4 2274 929.7 2275 930.1 2276 932.6 2277 933.9 2278 930.9 2279 931.8 2280 930.3" stroke="#C077E0"/><path d="M83 771.7 84 778.1 85 781.7 86 772.0 87 771.2 88 777.5 89 772.8 90 776.5 91 780.4 92 775.5 93 778.1 94 761.8 95 778.1 96 772.3 97 768.7 98 772.6 99 767.7 100 767.8 101 763.7 102 770.5 103 767.1 104 769.9 105 777.7 106 774.2 107 767.8 108 776.3 109 778.9 110 774.3 111 774.4 112 773.8 113 769.6 114 779.5 115 776.8 116 774.2 117 774.4 118 774.0 119 782.0 120 773.4 121 766.7 122 775.6 123 779.3 124 778.3 125 773.3 126 767.4 127 785.3 128 770.6 129 776.1 130 774.7 131 772.3 132 773.4 133 770.2 134 771.2 135 773.2 136 775.0 137 787.5 138 771.8 139 781.3 140 776.2 141 774.0 142 769.1 143 775.7 144 771.0 145 777.4 146 777.8 147 784.3 148 781.8 149 775.5 150 776.6 151 777.9 152 774.8 153 781.8 154 784.7 155 777.8 156 781.6 157 786.4 158 780.7 159 776.4 160 783.3 161 778.3 162 776.8 163 778.6 164 778.4 165 773.6 166 779.0 167 767.6 168 772.0 169 784.9 170 786.3 171 779.6 172 779.1 173 766.5 174 780.0 175 774.4 176 767.1 177 772.7 178 772.4 179 780.9 180 778.6 181 789.4 182 785.1 183 778.3 184 780.6 185 772.1 186 782.3 187 776.6 188 779.1 189 780.0 190 778.7 191 776.5 192 782.2 193 782.3 194 780.2 195 775.7 196 777.8 197 775.9 198 779.5 199 783.0 200 779.5 201 778.1 202 784.0 203 780.8 204 780.6 205 789.3 206 784.6 207 774.5 208 786.0 209 775.9 210 780.5 211 770.4 212 784.4 213 770.9 214 781.6 215 789.7 216 782.4 217 779.5 218 774.4 219 777.8 220 783.6 221 767.8 222 773.8 223 785.1 224 776.8 225 784.5 226 782.1 227 774.6 228 778.3 229 785.9 230 777.5 231 778.9 232 781.8 233 769.4 234 777.8 235 771.8 236 778.3 237 779.3 238 782.5 239 788.4 240 779.3 241 776.7 242 784.4 243 784.6 244 770.5 245 777.5 246 771.9 247 783.7 248 774.3 249 777.7 250 788.3 251 776.9 252 780.1 253 781.9 254 785.2 255 785.4 256 787.6 257 777.0 258 782.4 259 771.6 260 780.1 261 779.1 262 788.7 263 781.6 264 778.2 265 778.1 266 775.4 267 777.4 268 776.4 269 779.7 270 776.9 271 779.9 272 784.8 273 774.1 274 775.9 275 773.4 276 789.7 277 787.9 278 782.2 279 794.9 280 775.0 281 784.6 282 780.1 283 781.7 284 780.1 285 765.5 286 771.4 287 777.0 288 782.2 289 795.3 290 780.4 291 777.8 292 774.1 293 782.7 294 773.9 295 773.2 296 787.8 297 786.7 298 780.8 299 785.3 300 776.3 301 778.3 302 781.5 303 781.5 304 782.5 305 773.2 306 784.4 307 774.2 308 779.3 309 792.6 310 784.6 311 777.2 312 781.4 313 776.0 314 776.3 315 775.6 316 777.9 317 779.6 318 782.8 319 790.4 320 782.0 321 781.0 322 774.0 323 786.0 324 780.3 325 787.5 326 780.1 327 788.0 328 776.9 329 777.9 330 778.7 331 778.3 332 781.1 333 780.4 334 769.6 335 773.6 336 775.1 337 781.8 338 777.3 339 782.3 340 782.1 341 780.0 342 769.1 343 788.6 344 781.6 345 776.8 346 781.2 347 777.3 348 780.1 349 775.8 350 790.2 351 778.6 352 782.1 353 776.8 354 784.2 355 787.3 356 781.4 357 776.5 358 781.1 359 779.7 360 784.7 361 781.9 362 782.2 363 779.6 364 779.2 365 780.5 366 786.6 367 780.2 368 783.1 369 781.0 370 778.4 371 774.1 372 778.9 373 776.4 374 768.7 375 774.9 376 767.0 377 777.7 378 777.0 379 785.1 380 779.6 381 776.1 382 776.8 383 776.9 384 776.6 385 781.3 386 776.3 387 780.3 388 783.9 389 776.6 390 779.1 391 787.3 392 781.8 393 777.6 394 782.2 395 771.6 396 775.3 397 783.4 398 765.9 399 776.0 400 775.4 401 783.2 402 782.3 403 776.2 404 779.1 405 777.5 406 783.1 407 782.5 408 775.9 409 783.2 410 772.9 411 777.5 412 770.1 413 783.8 414 778.6 415 782.2 416 792.3 417 780.7 418 780.5 419 776.8 420 780.7 421 777.3 422 782.1 423 781.8 424 780.7 425 778.3 426 778.6 427 779.1 428 770.5 429 781.8 430 775.9 431 778.0 432 781.1 433 787.3 434 780.8 435 778.4 436 778.1 437 786.4 438 776.4 439 776.6 440 778.7 441 775.8 442 778.0 443 781.6 444 778.8 445 771.2 446 782.2 447 784.4 448 778.2 449 789.6 450 782.0 451 782.6 452 775.0 453 779.5 454 791.3 455 787.7 456 789.9 457 778.4 458 779.1 459 783.8 460 794.0 461 772.8 462 782.6 463 785.6 464 772.9 465 788.1 466 782.4 467 778.3 468 776.0 469 774.2 470 783.2 471 771.9 472 780.9 473 780.3 474 770.6 475 779.0 476 775.9 477 783.5 478 776.3 479 772.7 480 775.3 481 778.1 482 767.1 483 766.7 484 773.6 485 778.5 486 761.7 487 774.6 488 768.8 489 769.6 490 767.9 491 762.3 492 760.7 493 773.4 494 755.9 495 761.9 496 767.9 497 759.6 498 763.2 499 759.4 500 754.9 501 760.8 502 757.7 503 754.4 504 760.3 505 755.1 506 757.7 507 754.0 508 763.2 509 760.5 510 757.3 511 755.0 512 754.6 513 754.7 514 751.1 515 762.4 516 751.1 517 759.3 518 759.2 519 753.6 520 754.1 521 748.3 522 753.5 523 751.5 524 758.5 525 751.1 526 751.2 527 757.1 528 745.6 529 750.6 530 759.3 531 752.9 532 757.6 533 739.4 534 750.1 535 752.5 536 746.5 537 757.3 538 746.1 539 750.2 540 754.4 541 753.3 542 751.5 543 748.2 544 753.3 545 748.7 546 759.1 547 751.0 548 747.6 549 757.4 550 760.6 551 754.2 552 749.6 553 744.8 554 749.0 555 756.1 556 754.7 557 743.2 558 752.9 559 743.6 560 754.6 561 759.5 562 750.2 563 756.3 564 739.2 565 751.4 566 754.9 567 755.4 568 748.7 569 756.8 570 750.5 571 735.7 572 753.0 573 753.2 574 736.2 575 749.2 576 753.6 577 750.7 578 746.0 579 745.1 580 749.4 581 747.5 582 751.9 583 749.8 584 755.5 585 745.1 586 749.6 587 749.0 588 746.2 589 749.1 590 737.2 591 742.5 592 752.6 593 745.7 594 742.3 595 746.4 596 739.9 597 734.5 598 740.0 599 742.4 600 735.8 601 744.1 602 736.8 603 734.3 604 730.5 605 742.1 606 742.3 607 724.4 608 729.0 609 724.8 610 733.1 611 726.4 612 730.6 613 724.8 614 720.1 615 731.4 616 724.1 617 721.7 618 717.7 619 722.5 620 725.8 621 717.9 622 729.2 623 725.2 624 719.8 625 717.7 626 711.4 627 714.0 628 703.8 629 701.9 630 715.8 631 703.0 632 703.3 633 692.8 634 696.0 635 690.5 636 678.3 637 684.5 638 674.1 639 680.7 640 684.5 641 680.1 642 668.7 643 670.1 644 670.8 645 670.0 646 667.6 647 658.8 648 664.0 649 658.8 650 646.9 651 643.2 652 643.4 653 642.9 654 636.8 655 634.7 656 629.0 657 629.3 658 630.6 659 626.6 660 606.9 661 621.8 662 621.0 663 607.3 664 615.6 665 603.3 666 593.0 667 600.8 668 587.3 669 578.5 670 581.5 671 570.0 672 552.0 673 540.7 674 534.0 675 524.8 676 517.7 677 491.2 678 495.1 679 484.7 680 472.1 681 464.8 682 458.2 683 437.5 684 422.3 685 408.9 686 392.4 687 378.2 688 365.8 689 359.6 690 332.4 691 319.6 692 306.6 693 285.8 694 272.6 695 265.8 696 257.7 697 244.2 698 243.2 699 235.3 700 226.9 701 220.6 702 197.3 703 195.2 704 177.1 705 170.0 706 164.3 707 168.9 708 204.1 709 236.1 710 252.6 711 266.1 712 258.9 713 284.7 714 300.2 715 308.5 716 317.5 717 333.7 718 341.8 719 352.8 720 359.3 721 369.0 722 381.1 723 402.1 724 410.1 725 427.2 726 435.8 727 451.3 728 451.2 729 472.7 730 474.2 731 498.8 732 507.4 733 521.0 734 516.4 735 542.5 736 543.1 737 551.1 738 552.4 739 563.1 740 579.4 741 588.0 742 588.8 743 589.6 744 602.3 745 598.5 746 610.8 747 615.0 748 629.4 749 622.1 750 632.3 751 640.7 752 646.3 753 641.5 754 649.4 755 645.7 756 664.6 757 660.7 758 663.9 759 665.4 760 677.7 761 671.9 762 669.8 763 680.7 764 680.3 765 678.6 766 675.9 767 681.7 768 685.3 769 683.2 770 684.6 771 690.6 772 683.2 773 691.5 774 687.1 775 684.0 776 694.7 777 695.2 778 688.8 779 689.7 780 699.8 781 695.9 782 687.4 783 692.7 784 699.2 785 695.6 786 706.0 787 697.5 788 702.6 789 700.6 790 702.5 791 701.7 792 701.4 793 695.6 794 707.0 795 698.9 796 695.7 797 707.8 798 697.2 799 706.4 800 688.8 801 699.8 802 697.5 803 693.0 804 701.3 805 690.3 806 694.9 807 691.3 808 697.1 809 687.3 810 692.8 811 692.0 812 681.2 813 705.3 814 691.3 815 692.0 816 693.4 817 687.6 818 668.9 819 678.1 820 685.8 821 687.7 822 690.3 823 687.8 824 688.1 825 687.4 826 678.7 827 687.4 828 686.0 829 688.8 830 676.6 831 681.3 832 685.7 833 680.9 834 675.7 835 677.4 836 676.2 837 675.7 838 682.5 839 677.4 840 664.8 841 661.3 842 661.2 843 640.5 844 638.1 845 626.2 846 616.9 847 614.6 848 609.9 849 609.4 850 592.9 851 595.2 852 578.9 853 569.0 854 553.5 855 534.7 856 528.7 857 499.7 858 476.5 859 461.1 860 442.3 861 438.2 862 426.0 863 409.8 864 393.9 865 378.3 866 362.7 867 356.4 868 344.3 869 337.1 870 328.4 871 319.7 872 321.7 873 301.3 874 293.2 875 301.2 876 295.1 877 300.5 878 302.6 879 311.4 880 315.9 881 324.8 882 346.5 883 353.3 884 352.3 885 364.6 886 380.4 887 383.7 888 386.6 889 402.8 890 413.7 891 417.4 892 428.7 893 433.5 894 450.4 895 461.7 896 460.2 897 464.3 898 478.2 899 483.4 900 491.6 901 495.9 902 506.6 903 515.3 904 526.6 905 539.6 906 548.1 907 569.5 908 570.3 909 579.0 910 591.5 911 606.0 912 616.8 913 609.6 914 626.9 915 636.9 916 650.6 917 661.8 918 680.5 919 691.1 920 690.9 921 691.9 922 702.4 923 711.1 924 719.7 925 727.4 926 722.8 927 736.2 928 739.5 929 726.6 930 733.8 931 750.8 932 743.3 933 746.8 934 766.5 935 752.1 936 751.8 937 743.5 938 755.1 939 758.8 940 754.3 941 766.5 942 771.6 943 767.4 944 756.0 945 759.6 946 765.8 947 770.5 948 767.2 949 757.7 950 768.6 951 763.6 952 769.3 953 769.9 954 765.5 955 771.1 956 763.5 957 772.6 958 765.1 959 771.0 960 769.1 961 765.3 962 774.9 963 761.7 964 773.4 965 767.6 966 769.5 967 769.9 968 766.6 969 772.3 970 765.1 971 757.4 972 770.8 973 764.2 974 775.3 975 771.1 976 771.9 977 766.4 978 776.6 979 768.9 980 767.1 981 766.2 982 769.4 983 778.7 984 776.5 985 773.7 986 771.2 987 773.1 988 780.9 989 776.2 990 775.6 991 782.2 992 774.1 993 775.7 994 767.6 995 772.2 996 772.9 997 775.1 998 777.4 999 772.6 1000 777.6 1001 780.1 1002 773.6 1003 776.5 1004 778.4 1005 769.7 1006 782.1 1007 774.3 1008 777.2 1009 768.9 1010 779.4 1011 779.5 1012 776.7 1013 773.3 1014 779.7 1015 770.4 1016 781.4 1017 781.4 1018 781.5 1019 783.9 1020 777.3 1021 779.7 1022 781.9 1023 781.1 1024 774.3 1025 777.8 1026 776.5 1027 780.1 1028 779.8 1029 783.9 1030 789.2 1031 784.9 1032 777.6 1033 786.4 1034 783.7 1035 794.8 1036 782.5 1037 769.4 1038 788.1 1039 774.8 1040 780.3 1041 779.1 1042 779.5 1043 788.2 1044 784.3 1045 782.8 1046 778.8 1047 779.6 1048 781.8 1049 782.8 1050 780.5 1051 772.5 1052 782.8 1053 781.3 1054 777.3 1055 783.9 1056 785.2 1057 780.3 1058 793.8 1059 777.2 1060 781.3 1061 782.9 1062 782.7 1063 787.5 1064 778.8 1065 777.4 1066 790.9 1067 781.9 1068 784.6 1069 785.7 1070 787.2 1071 785.1 1072 777.9 1073 781.3 1074 783.0 1075 785.8 1076 790.0 1077 778.3 1078 784.8 1079 783.9 1080 806.6 1081 773.6 1082 777.4 1083 782.0 1084 779.2 1085 781.1 1086 781.8 1087 786.0 1088 777.0 1089 777.1 1090 778.8 1091 787.2 1092 778.9 1093 789.0 1094 787.1 1095 784.8 1096 778.4 1097 784.1 1098 783.9 1099 782.3 1100 767.1 1101 781.1 1102 780.2 1103 774.8 1104 785.5 1105 781.5 1106 780.0 1107 792.8 1108 787.7 1109 794.8 1110 789.8 1111 783.0 1112 787.8 1113 786.6 1114 787.3 1115 788.2 1116 785.5 1117 790.1 1118 790.3 1119 776.6 1120 788.0 1121 788.4 1122 784.0 1123 793.4 1124 788.2 1125 792.9 1126 793.8 1127 792.9 1128 784.7 1129 786.8 1130 786.5 1131 778.4 1132 785.7 1133 790.1 1134 779.6 1135 789.5 1136 781.3 1137 780.6 1138 788.3 1139 781.7 1140 803.9 1141 785.4 1142 788.9 1143 784.2 1144 787.1 1145 792.9 1146 794.8 1147 783.6 1148 777.4 1149 786.0 1150 787.7 1151 788.6 1152 790.8 1153 782.6 1154 782.4 1155 781.9 1156 790.0 1157 786.2 1158 790.6 1159 789.7 1160 790.2 1161 786.7 1162 789.0 1163 785.1 1164 789.1 1165 788.2 1166 788.5 1167 788.8 1168 788.8 1169 786.7 1170 786.3 1171 793.6 1172 779.3 1173 790.8 1174 793.6 1175 779.5 1176 795.8 1177 792.8 1178 789.2 1179 787.1 1180 787.3 1181 783.8 1182 784.2 1183 785.9 1184 788.8 1185 778.4 1186 784.1 1187 782.0 1188 783.5 1189 780.7 1190 783.8 1191 786.6 1192 782.0 1193 789.9 1194 788.1 1195 784.9 1196 791.4 1197 782.6 1198 785.0 1199 780.5 1200 778.4 1201 794.1 1202 784.1 1203 780.7 1204 785.9 1205 787.2 1206 780.6 1207 784.4 1208 792.5 1209 789.6 1210 784.6 1211 779.1 1212 797.5 1213 791.6 1214 783.9 1215 784.3 1216 789.3 1217 790.8 1218 791.0 1219 786.9 1220 784.4 1221 785.4 1222 783.4 1223 787.1 1224 791.8 1225 782.9 1226 780.6 1227 784.4 1228 788.7 1229 779.8 1230 784.8 1231 781.1 1232 779.6 1233 791.1 1234 785.3 1235 782.2 1236 785.0 1237 784.1 1238 786.4 1239 789.7 1240 781.9 1241 789.5 1242 783.2 1243 786.1 1244 779.6 1245 779.6 1246 786.1 1247 785.3 1248 783.5 1249 785.9 1250 780.1 1251 790.1 1252 792.9 1253 785.1 1254 787.5 1255 783.5 1256 788.7 1257 784.6 1258 783.3 1259 785.3 1260 782.2 1261 784.6 1262 787.5 1263 781.2 1264 788.2 1265 783.7 1266 787.6 1267 780.7 1268 780.1 1269 788.0 1270 783.6 1271 787.4 1272 793.4 1273 790.1 1274 784.3 1275 794.5 1276 782.2 1277 777.2 1278 797.5 1279 784.0 1280 790.5 1281 783.3 1282 790.5 1283 787.4 1284 799.1 1285 785.0 1286 793.4 1287 776.9 1288 791.2 1289 788.1 1290 787.4 1291 780.2 1292 789.6 1293 778.9 1294 787.1 1295 790.9 1296 786.9 1297 790.4 1298 793.3 1299 792.1 1300 795.9 1301 784.3 1302 791.8 1303 788.4 1304 786.6 1305 783.9 1306 783.4 1307 787.2 1308 784.1 1309 789.3 1310 788.8 1311 781.1 1312 781.9 1313 790.7 1314 791.6 1315 792.5 1316 788.8 1317 787.7 1318 783.9 1319 789.4 1320 781.3 1321 778.4 1322 787.7 1323 787.0 1324 794.2 1325 783.5 1326 805.5 1327 785.2 1328 783.2 1329 791.1 1330 789.8 1331 792.2 1332 785.2 1333 788.4 1334 792.8 1335 785.3 1336 768.0 1337 776.8 1338 788.8 1339 786.1 1340 778.1 1341 787.2 1342 792.5 1343 795.1 1344 783.4 1345 790.4 1346 788.3 1347 790.4 1348 787.6 1349 778.1 1350 793.7 1351 789.9 1352 785.9 1353 786.5 1354 786.7 1355 789.1 1356 789.3 1357 777.6 1358 784.6 1359 783.6 1360 787.8 1361 783.3 1362 785.0 1363 777.0 1364 782.6 1365 781.8 1366 789.4 1367 791.0 1368 791.2 1369 780.7 1370 784.9 1371 786.5 1372 791.6 1373 788.0 1374 789.8 1375 787.5 1376 793.6 1377 787.4 1378 785.4 1379 787.6 1380 790.3 1381 790.1 1382 779.7 1383 783.8 1384 780.7 1385 782.6 1386 778.3 1387 793.9 1388 784.3 1389 780.6 1390 780.9 1391 785.5 1392 779.4 1393 782.3 1394 785.5 1395 786.2 1396 783.2 1397 780.4 1398 795.7 1399 769.6 1400 782.4 1401 780.0 1402 791.4 1403 778.2 1404 782.6 1405 772.0 1406 779.3 1407 786.7 1408 779.8 1409 776.0 1410 777.2 1411 784.2 1412 786.3 1413 781.9 1414 776.5 1415 782.0 1416 780.8 1417 781.5 1418 786.5 1419 779.9 1420 763.0 1421 787.1 1422 773.7 1423 780.4 1424 782.0 1425 774.7 1426 791.2 1427 786.7 1428 778.5 1429 776.0 1430 783.3 1431 790.4 1432 786.7 1433 779.0 1434 784.0 1435 781.2 1436 780.4 1437 783.0 1438 779.1 1439 778.0 1440 784.0 1441 778.6 1442 779.8 1443 779.6 1444 776.1 1445 783.7 1446 778.5 1447 772.5 1448 771.4 1449 769.2 1450 781.4 1451 768.5 1452 777.1 1453 773.5 1454 778.5 1455 777.1 1456 777.1 1457 782.8 1458 770.4 1459 775.6 1460 768.6 1461 780.9 1462 780.0 1463 781.9 1464 779.2 1465 776.8 1466 770.6 1467 768.7 1468 779.5 1469 776.0 1470 767.0 1471 777.9 1472 769.9 1473 771.3 1474 774.0 1475 767.3 1476 776.3 1477 775.2 1478 767.8 1479 764.0 1480 770.7 1481 771.6 1482 779.8 1483 763.8 1484 772.2 1485 766.3 1486 767.1 1487 760.0 1488 765.3 1489 772.1 1490 764.2 1491 755.9 1492 763.9 1493 758.2 1494 761.0 1495 763.7 1496 763.5 1497 760.7 1498 770.5 1499 766.9 1500 758.9 1501 751.2 1502 759.9 1503 759.4 1504 758.8 1505 760.4 1506 757.0 1507 754.3 1508 759.0 1509 761.5 1510 769.6 1511 759.9 1512 756.2 1513 754.7 1514 762.9 1515 760.8 1516 768.4 1517 754.4 1518 757.9 1519 759.5 1520 762.5 1521 757.1 1522 753.4 1523 767.7 1524 752.4 1525 755.9 1526 750.7 1527 766.0 1528 752.0 1529 764.4 1530 765.8 1531 753.1 1532 768.0 1533 762.0 1534 742.4 1535 770.5 1536 762.6 1537 763.9 1538 763.2 1539 759.6 1540 761.3 1541 761.0 1542 757.3 1543 754.8 1544 763.3 1545 758.8 1546 755.2 1547 758.4 1548 757.4 1549 766.9 1550 762.0 1551 752.8 1552 760.2 1553 758.3 1554 757.1 1555 763.4 1556 758.5 1557 766.1 1558 760.4 1559 755.7 1560 760.8 1561 755.7 1562 768.6 1563 767.2 1564 758.8 1565 767.2 1566 757.3 1567 759.1 1568 767.6 1569 757.3 1570 763.0 1571 759.5 1572 766.2 1573 759.3 1574 753.4 1575 761.7 1576 759.2 1577 759.6 1578 761.1 1579 763.4 1580 755.1 1581 752.6 1582 754.8 1583 752.0 1584 753.4 1585 765.8 1586 755.2 1587 755.6 1588 766.5 1589 755.5 1590 751.1 1591 757.2 1592 754.2 1593 764.8 1594 760.8 1595 751.8 1596 757.5 1597 749.9 1598 755.7 1599 740.5 1600 747.2 1601 752.5 1602 751.2 1603 750.2 1604 749.8 1605 753.0 1606 755.5 1607 743.3 1608 750.8 1609 747.1 1610 741.1 1611 742.3 1612 749.1 1613 741.1 1614 738.0 1615 737.6 1616 735.8 1617 728.1 1618 728.9 1619 734.6 1620 735.6 1621 743.5 1622 734.6 1623 738.1 1624 731.1 1625 731.8 1626 739.3 1627 727.1 1628 734.8 1629 739.8 1630 725.7 1631 721.6 1632 726.4 1633 730.5 1634 729.1 1635 728.8 1636 735.3 1637 725.0 1638 731.7 1639 720.0 1640 720.0 1641 724.0 1642 721.0 1643 720.5 1644 713.9 1645 719.9 1646 720.4 1647 713.8 1648 717.4 1649 715.5 1650 689.5 1651 703.5 1652 703.8 1653 698.7 1654 687.5 1655 681.5 1656 682.2 1657 685.2 1658 687.8 1659 680.2 1660 682.7 1661 681.6 1662 673.1 1663 678.8 1664 676.7 1665 673.9 1666 673.5 1667 667.1 1668 671.6 1669 661.0 1670 667.0 1671 661.4 1672 655.6 1673 650.7 1674 653.8 1675 646.7 1676 646.3 1677 641.9 1678 646.9 1679 658.5 1680 644.5 1681 645.6 1682 640.6 1683 643.7 1684 643.4 1685 650.9 1686 647.7 1687 642.2 1688 648.8 1689 649.8 1690 640.3 1691 648.1 1692 643.3 1693 648.3 1694 643.7 1695 652.3 1696 647.5 1697 652.1 1698 654.1 1699 654.3 1700 659.1 1701 661.9 1702 669.2 1703 663.1 1704 672.1 1705 677.7 1706 690.7 1707 692.5 1708 677.9 1709 689.2 1710 702.8 1711 690.8 1712 698.9 1713 697.4 1714 688.6 1715 696.3 1716 696.2 1717 703.1 1718 711.3 1719 697.1 1720 701.2 1721 706.8 1722 708.0 1723 713.8 1724 714.4 1725 710.8 1726 712.4 1727 721.4 1728 724.7 1729 718.8 1730 725.8 1731 724.7 1732 725.0 1733 722.7 1734 724.4 1735 731.6 1736 734.2 1737 732.9 1738 730.7 1739 731.0 1740 733.2 1741 729.4 1742 733.3 1743 743.5 1744 728.4 1745 733.4 1746 725.8 1747 735.9 1748 739.7 1749 746.8 1750 744.7 1751 748.8 1752 746.7 1753 740.0 1754 748.9 1755 743.0 1756 745.1 1757 751.6 1758 746.0 1759 739.9 1760 748.7 1761 739.6 1762 736.8 1763 746.7 1764 744.7 1765 750.7 1766 747.6 1767 753.0 1768 755.4 1769 741.0 1770 753.3 1771 748.7 1772 753.0 1773 747.6 1774 747.1 1775 740.5 1776 749.5 1777 742.0 1778 746.5 1779 758.1 1780 755.5 1781 751.3 1782 761.0 1783 754.8 1784 750.8 1785 746.3 1786 757.1 1787 757.6 1788 767.6 1789 753.1 1790 747.0 1791 753.0 1792 744.2 1793 749.5 1794 753.3 1795 750.1 1796 748.7 1797 749.9 1798 755.6 1799 747.4 1800 746.1 1801 746.9 1802 746.2 1803 750.1 1804 735.7 1805 746.5 1806 745.0 1807 747.8 1808 750.6 1809 747.8 1810 745.5 1811 741.7 1812 747.0 1813 746.0 1814 741.5 1815 742.6 1816 744.0 1817 739.5 1818 737.1 1819 747.8 1820 739.4 1821 739.6 1822 747.4 1823 744.3 1824 740.8 1825 736.3 1826 734.1 1827 737.6 1828 729.0 1829 737.0 1830 738.3 1831 733.9 1832 730.2 1833 739.9 1834 731.1 1835 732.2 1836 736.7 1837 739.5 1838 735.9 1839 730.9 1840 734.2 1841 739.8 1842 732.0 1843 733.2 1844 736.0 1845 728.7 1846 732.0 1847 726.7 1848 729.9 1849 725.0 1850 728.4 1851 731.6 1852 730.4 1853 731.3 1854 728.7 1855 724.3 1856 724.0 1857 732.6 1858 732.0 1859 728.0 1860 728.9 1861 739.4 1862 737.2 1863 729.9 1864 725.9 1865 733.1 1866 729.7 1867 727.2 1868 725.8 1869 735.1 1870 732.0 1871 731.8 1872 719.8 1873 731.0 1874 730.3 1875 716.4 1876 731.2 1877 731.8 1878 727.4 1879 734.3 1880 730.6 1881 734.5 1882 728.6 1883 750.5 1884 749.4 1885 749.1 1886 744.5 1887 745.5 1888 750.3 1889 753.8 1890 753.1 1891 749.4 1892 759.2 1893 759.4 1894 753.8 1895 767.4 1896 759.7 1897 751.3 1898 753.9 1899 749.8 1900 757.9 1901 752.7 1902 765.4 1903 763.0 1904 763.9 1905 764.1 1906 754.6 1907 751.8 1908 760.2 1909 765.5 1910 718.2 1911 767.4 1912 762.4 1913 764.8 1914 756.1 1915 766.7 1916 764.3 1917 776.6 1918 770.7 1919 774.9 1920 761.9 1921 763.5 1922 764.4 1923 768.9 1924 769.7 1925 766.6 1926 772.4 1927 765.1 1928 771.0 1929 773.8 1930 775.3 1931 768.4 1932 776.2 1933 771.2 1934 772.4 1935 773.9 1936 776.0 1937 775.4 1938 766.3 1939 763.6 1940 768.1 1941 768.2 1942 785.6 1943 778.8 1944 777.9 1945 779.8 1946 774.0 1947 775.1 1948 774.7 1949 781.8 1950 768.0 1951 780.7 1952 772.8 1953 777.9 1954 776.5 1955 773.4 1956 773.5 1957 770.3 1958 782.3 1959 778.5 1960 777.9 1961 777.6 1962 784.9 1963 775.0 1964 773.7 1965 777.9 1966 778.2 1967 779.2 1968 780.4 1969 770.8 1970 779.1 1971 779.8 1972 787.8 1973 782.6 1974 773.1 1975 779.4 1976 777.0 1977 789.1 1978 771.5 1979 778.8 1980 782.1 1981 770.9 1982 777.7 1983 771.0 1984 779.4 1985 780.4 1986 776.7 1987 774.7 1988 783.4 1989 770.9 1990 780.8 1991 774.6 1992 780.8 1993 780.1 1994 777.4 1995 778.7 1996 771.9 1997 787.0 1998 776.1 1999 780.1 2000 781.1 2001 785.9 2002 771.5 2003 780.4 2004 774.3 2005 776.9 2006 779.2 2007 781.1 2008 774.8 2009 774.3 2010 770.4 2011 785.9 2012 772.6 2013 792.9 2014 774.5 2015 779.3 2016 772.0 2017 774.3 2018 776.0 2019 775.3 2020 773.1 2021 772.2 2022 774.0 2023 772.6 2024 777.9 2025 776.3 2026 766.8 2027 772.5 2028 772.2 2029 773.8 2030 766.7 2031 773.5 2032 770.3 2033 770.7 2034 770.4 2035 770.3 2036 775.1 2037 769.9 2038 771.1 2039 771.5 2040 774.3 2041 761.5 2042 762.6 2043 769.4 2044 772.2 2045 762.5 2046 771.4 2047 764.8 2048 769.1 2049 765.2 2050 766.4 2051 770.2 2052 775.2 2053 765.0 2054 758.8 2055 767.8 2056 768.6 2057 765.4 2058 768.3 2059 762.6 2060 763.8 2061 768.5 2062 764.1 2063 771.5 2064 769.3 2065 759.5 2066 760.1 2067 766.2 2068 766.5 2069 758.4 2070 759.6 2071 765.1 2072 762.6 2073 763.0 2074 769.4 2075 768.3 2076 762.9 2077 763.4 2078 761.4 2079 770.8 2080 751.4 2081 760.0 2082 762.7 2083 758.3 2084 765.4 2085 751.5 2086 766.4 2087 759.5 2088 758.6 2089 766.1 2090 758.6 2091 766.1 2092 763.6 2093 766.9 2094 768.8 2095 766.0 2096 763.2 2097 768.8 2098 767.6 2099 764.7 2100 775.0 2101 766.7 2102 766.3 2103 774.3 2104 778.3 2105 773.4 2106 771.9 2107 768.0 2108 775.9 2109 760.3 2110 773.0 2111 774.7 2112 777.7 2113 767.0 2114 776.0 2115 764.8 2116 784.6 2117 771.2 2118 771.8 2119 764.4 2120 776.6 2121 772.8 2122 777.5 2123 771.4 2124 778.5 2125 771.7 2126 777.1 2127 773.0 2128 791.0 2129 780.7 2130 772.5 2131 778.6 2132 773.0 2133 774.4 2134 780.7 2135 784.8 2136 781.7 2137 779.3 2138 783.2 2139 781.4 2140 789.0 2141 791.8 2142 785.1 2143 776.2 2144 775.8 2145 780.5 2146 778.7 2147 779.4 2148 776.6 2149 771.7 2150 783.5 2151 780.4 2152 786.8 2153 779.2 2154 782.7 2155 787.3 2156 780.4 2157 781.8 2158 780.4 2159 786.3 2160 779.6 2161 787.6 2162 775.0 2163 779.0 2164 787.9 2165 788.0 2166 784.9 2167 764.0 2168 783.4 2169 778.0 2170 780.5 2171 787.8 2172 774.7 2173 785.3 2174 777.9 2175 778.9 2176 781.1 2177 783.9 2178 786.6 2179 797.5 2180 786.4 2181 781.5 2182 790.4 2183 783.8 2184 782.2 2185 779.7 2186 783.3 2187 784.8 2188 785.3 2189 784.7 2190 785.9 2191 773.1 2192 785.6 2193 779.2 2194 784.7 2195 779.1 2196 785.6 2197 776.8 2198 785.5 2199 780.6 2200 785.3 2201 785.2 2202 778.8 2203 775.1 2204 779.4 2205 788.5 2206 779.5 2207 782.3 2208 784.8 2209 778.5 2210 781.3 2211 787.4 2212 775.1 2213 785.2 2214 786.3 2215 773.4 2216 783.3 2217 776.0 2218 784.8 2219 784.9 2220 782.8 2221 787.2 2222 788.1 2223 781.9 2224 781.7 2225 773.5 2226 782.3 2227 787.0 2228 781.3 2229 781.7 2230 791.9 2231 780.5 2232 776.6 2233 783.7 2234 785.9 2235 779.2 2236 770.5 2237 778.0 2238 785.2 2239 779.6 2240 791.2 2241 776.0 2242 781.3 2243 778.6 2244 786.4 2245 785.3 2246 779.3 2247 784.8 2248 785.0 2249 787.6 2250 784.7 2251 784.1 2252 775.0 2253 794.6 2254 774.3 2255 787.7 2256 780.2 2257 777.6 2258 779.8 2259 782.1 2260 783.4 2261 780.8 2262 787.0 2263 774.1 2264 764.1 2265 766.0 2266 781.3 2267 781.0 2268 780.8 2269 784.7 2270 780.7 2271 785.8 2272 766.5 2273 777.1 2274 782.2 2275 774.1 2276 773.4 2277 787.4 2278 784.9 2279 787.3 2280 778.4" stroke="#DC9A00"/><path d="M83 617.9 84 616.0 85 616.4 86 614.1 87 617.7 88 609.4 89 618.0 90 617.1 91 613.5 92 610.5 93 608.5 94 612.2 95 616.6 96 614.5 97 616.2 98 612.5 99 613.9 100 612.6 101 609.4 102 612.5 103 611.2 104 615.2 105 611.8 106 612.3 107 614.1 108 615.2 109 611.7 110 611.5 111 612.4 112 615.1 113 608.6 114 607.9 115 621.0 116 610.9 117 611.6 118 604.3 119 609.6 120 610.5 121 608.9 122 609.3 123 610.0 124 611.6 125 613.4 126 606.2 127 606.0 128 611.9 129 610.6 130 607.1 131 605.3 132 607.1 133 609.6 134 611.5 135 612.7 136 611.7 137 605.9 138 614.9 139 611.3 140 608.6 141 608.4 142 611.8 143 607.3 144 607.6 145 608.9 146 613.2 147 603.7 148 611.5 149 601.4 150 605.1 151 608.5 152 611.1 153 603.6 154 610.9 155 611.6 156 606.1 157 606.5 158 606.8 159 601.1 160 615.3 161 608.9 162 602.8 163 608.9 164 608.5 165 606.3 166 607.3 167 609.8 168 605.0 169 603.4 170 612.2 171 607.7 172 604.9 173 611.5 174 598.7 175 602.3 176 608.0 177 606.5 178 606.6 179 603.7 180 603.3 181 603.5 182 603.9 183 607.2 184 601.5 185 610.5 186 609.2 187 598.1 188 603.8 189 600.7 190 609.8 191 603.1 192 605.7 193 604.3 194 600.9 195 600.3 196 604.8 197 605.4 198 601.2 199 608.5 200 602.7 201 605.1 202 603.3 203 605.2 204 596.9 205 606.5 206 604.3 207 604.0 208 605.3 209 603.1 210 596.1 211 598.8 212 596.7 213 598.5 214 602.0 215 604.7 216 594.9 217 595.6 218 599.3 219 600.8 220 599.7 221 596.9 222 599.9 223 601.7 224 595.8 225 602.2 226 593.0 227 597.8 228 597.5 229 598.8 230 600.5 231 595.6 232 596.7 233 598.8 234 602.2 235 594.5 236 598.8 237 598.6 238 593.4 239 597.9 240 592.9 241 595.9 242 596.4 243 602.8 244 600.6 245 597.8 246 596.3 247 594.9 248 594.1 249 599.8 250 593.1 251 597.6 252 583.7 253 597.0 254 597.4 255 589.6 256 591.4 257 594.2 258 594.7 259 589.8 260 595.7 261 597.3 262 594.0 263 594.6 264 590.1 265 597.7 266 600.1 267 603.1 268 594.6 269 600.2 270 592.2 271 595.4 272 594.4 273 589.0 274 591.9 275 594.0 276 593.3 277 592.5 278 593.8 279 596.8 280 597.6 281 586.5 282 592.2 283 594.0 284 586.1 285 595.4 286 598.2 287 589.5 288 586.3 289 592.1 290 598.3 291 608.9 292 595.3 293 594.1 294 591.1 295 596.4 296 591.5 297 594.5 298 597.6 299 594.4 300 590.7 301 595.3 302 597.9 303 598.1 304 588.7 305 595.6 306 595.7 307 592.8 308 590.5 309 591.7 310 591.4 311 601.1 312 595.1 313 593.4 314 595.6 315 598.9 316 594.1 317 597.2 318 596.6 319 592.9 320 599.6 321 595.4 322 598.2 323 599.0 324 593.0 325 591.8 326 592.4 327 601.7 328 594.6 329 593.2 330 599.6 331 592.1 332 600.7 333 592.2 334 595.6 335 594.7 336 595.6 337 597.5 338 596.9 339 590.5 340 591.0 341 594.1 342 596.9 343 593.2 344 592.4 345 588.2 346 596.0 347 595.0 348 591.0 349 593.2 350 599.1 351 592.3 352 591.9 353 596.0 354 588.2 355 593.0 356 593.5 357 591.6 358 599.5 359 593.0 360 594.6 361 593.4 362 596.3 363 596.7 364 592.2 365 593.2 366 586.7 367 606.6 368 594.8 369 594.7 370 597.4 371 591.9 372 591.6 373 596.0 374 582.4 375 596.4 376 594.3 377 589.1 378 590.6 379 596.8 380 590.8 381 595.8 382 594.2 383 593.0 384 592.7 385 592.3 386 591.3 387 593.5 388 595.4 389 585.7 390 597.0 391 599.6 392 586.9 393 597.3 394 592.3 395 594.2 396 591.5 397 587.9 398 593.5 399 591.7 400 592.6 401 587.6 402 590.2 403 593.9 404 585.3 405 591.5 406 584.7 407 593.0 408 597.2 409 585.1 410 589.0 411 591.2 412 585.9 413 592.1 414 589.7 415 587.1 416 591.9 417 588.8 418 596.6 419 591.7 420 588.7 421 588.5 422 583.5 423 578.5 424 583.5 425 587.8 426 587.2 427 581.7 428 586.2 429 584.7 430 582.6 431 586.4 432 583.3 433 581.7 434 582.0 435 584.3 436 578.8 437 581.0 438 583.8 439 585.3 440 583.0 441 581.6 442 577.1 443 585.2 444 579.0 445 578.0 446 584.3 447 578.5 448 577.5 449 581.4 450 582.6 451 574.7 452 574.2 453 580.5 454 578.1 455 577.6 456 580.7 457 580.9 458 573.6 459 581.4 460 577.3 461 577.3 462 574.9 463 577.8 464 579.6 465 575.0 466 571.7 467 583.9 468 579.5 469 577.8 470 580.2 471 572.7 472 573.2 473 571.2 474 574.1 475 583.7 476 578.7 477 570.6 478 577.1 479 575.0 480 576.1 481 568.7 482 570.5 483 566.5 484 569.6 485 571.9 486 568.0 487 568.2 488 571.0 489 566.4 490 563.9 491 569.5 492 560.8 493 571.0 494 563.0 495 564.2 496 560.9 497 569.2 498 567.9 499 561.8 500 559.5 501 559.8 502 553.4 503 547.5 504 548.8 505 549.9 506 543.0 507 550.4 508 550.1 509 553.1 510 551.3 511 556.0 512 549.6 513 552.1 514 554.4 515 544.9 516 552.2 517 545.9 518 552.0 519 550.6 520 555.0 521 551.3 522 552.5 523 557.1 524 547.7 525 552.3 526 547.9 527 550.3 528 551.3 529 549.1 530 554.5 531 549.6 532 551.0 533 552.3 534 551.6 535 553.3 536 549.8 537 556.1 538 553.7 539 553.9 540 553.5 541 551.7 542 552.5 543 553.8 544 556.0 545 554.4 546 551.0 547 553.6 548 548.9 549 553.1 550 551.4 551 552.0 552 551.8 553 549.0 554 550.6 555 551.4 556 552.7 557 553.3 558 551.4 559 550.0 560 555.8 561 548.1 562 559.2 563 556.2 564 553.0 565 550.7 566 551.2 567 549.7 568 555.3 569 553.8 570 550.0 571 551.2 572 551.0 573 549.7 574 551.9 575 549.8 576 553.5 577 551.4 578 547.3 579 551.0 580 554.5 581 550.2 582 548.0 583 545.1 584 546.4 585 549.2 586 547.7 587 541.2 588 547.3 589 541.0 590 544.9 591 544.1 592 544.2 593 543.3 594 540.8 595 540.7 596 543.7 597 541.7 598 545.8 599 541.8 600 544.8 601 542.3 602 540.4 603 546.5 604 537.9 605 539.1 606 543.4 607 544.2 608 541.2 609 539.4 610 539.5 611 543.2 612 533.4 613 532.6 614 535.7 615 533.5 616 534.8 617 534.7 618 532.7 619 533.8 620 532.3 621 530.2 622 530.0 623 529.1 624 524.6 625 531.4 626 527.6 627 522.6 628 527.8 629 522.7 630 517.0 631 516.6 632 510.4 633 509.9 634 507.4 635 509.5 636 512.1 637 505.0 638 501.3 639 498.1 640 498.3 641 495.4 642 488.0 643 485.9 644 485.5 645 487.4 646 482.8 647 473.7 648 481.3 649 483.5 650 478.0 651 473.3 652 474.9 653 474.1 654 470.3 655 466.4 656 459.8 657 466.0 658 456.4 659 453.9 660 440.0 661 439.6 662 445.4 663 426.9 664 428.0 665 419.3 666 419.3 667 413.6 668 400.6 669 398.1 670 378.3 671 364.2 672 351.7 673 335.5 674 330.9 675 319.4 676 317.5 677 307.1 678 293.8 679 288.9 680 278.6 681 275.4 682 255.5 683 245.6 684 222.6 685 207.0 686 190.0 687 172.1 688 158.6 689 147.5 690 131.9 691 134.4 692 111.1 693 102.3 694 88.9 695 84.1 696 76.3 697 65.4 698 63.7 699 57.4 700 55.6 701 65.5 702 66.3 703 67.4 704 66.0 705 81.9 706 80.7 707 88.6 708 101.0 709 115.1 710 124.1 711 136.6 712 159.8 713 180.2 714 195.5 715 215.2 716 232.7 717 242.9 718 251.9 719 266.6 720 272.7 721 286.8 722 297.7 723 308.2 724 319.8 725 324.9 726 337.4 727 338.9 728 352.4 729 350.9 730 364.1 731 374.3 732 371.3 733 383.9 734 394.3 735 399.4 736 406.5 737 419.9 738 425.7 739 434.0 740 438.8 741 448.1 742 453.2 743 455.2 744 466.0 745 463.6 746 469.7 747 462.6 748 467.6 749 473.1 750 472.9 751 483.1 752 481.0 753 481.9 754 488.9 755 485.6 756 483.1 757 486.8 758 492.3 759 492.3 760 497.9 761 499.1 762 499.7 763 492.6 764 497.1 765 496.6 766 501.3 767 492.6 768 501.9 769 499.9 770 502.8 771 509.2 772 497.7 773 507.8 774 503.7 775 502.0 776 506.5 777 495.8 778 504.5 779 511.9 780 510.4 781 509.8 782 513.4 783 504.6 784 510.2 785 507.6 786 513.0 787 513.3 788 508.0 789 516.0 790 519.5 791 510.3 792 514.6 793 513.6 794 509.0 795 512.7 796 511.1 797 508.5 798 513.7 799 515.3 800 505.0 801 505.2 802 509.7 803 504.6 804 514.4 805 507.3 806 512.9 807 506.1 808 506.9 809 507.6 810 511.3 811 508.0 812 499.2 813 502.2 814 501.1 815 500.8 816 506.7 817 507.2 818 492.8 819 491.7 820 491.5 821 486.4 822 487.0 823 483.9 824 487.2 825 480.6 826 487.8 827 479.5 828 472.7 829 476.0 830 473.1 831 468.5 832 472.8 833 466.2 834 466.1 835 462.7 836 459.9 837 453.6 838 449.6 839 439.9 840 445.4 841 438.7 842 421.7 843 407.5 844 390.1 845 383.0 846 370.9 847 360.2 848 353.1 849 346.0 850 336.3 851 333.2 852 303.7 853 293.9 854 271.3 855 241.8 856 227.0 857 218.4 858 194.1 859 181.8 860 167.5 861 155.7 862 132.0 863 90.4 864 66.9 865 44.8 866 41.7 867 36.9 868 40.1 869 33.6 870 41.5 871 50.7 872 70.6 873 83.9 874 100.1 875 118.0 876 132.1 877 150.4 878 166.5 879 179.6 880 204.5 881 221.2 882 225.9 883 232.4 884 246.3 885 250.3 886 254.0 887 260.1 888 261.4 889 277.7 890 286.3 891 291.9 892 302.4 893 308.3 894 322.3 895 334.0 896 341.1 897 353.0 898 363.9 899 368.7 900 380.4 901 397.4 902 401.9 903 402.7 904 418.4 905 419.1 906 426.3 907 435.9 908 447.9 909 455.7 910 455.1 911 472.3 912 484.8 913 490.7 914 494.6 915 507.9 916 515.0 917 517.3 918 517.5 919 523.7 920 524.2 921 528.5 922 531.7 923 528.3 924 532.1 925 529.6 926 537.2 927 539.4 928 536.2 929 538.7 930 531.5 931 538.3 932 544.4 933 545.6 934 549.4 935 545.6 936 557.9 937 554.3 938 552.2 939 560.6 940 558.6 941 559.9 942 559.2 943 562.4 944 565.5 945 560.2 946 569.3 947 565.9 948 564.1 949 558.8 950 562.9 951 563.7 952 565.5 953 565.1 954 566.4 955 565.1 956 572.0 957 565.1 958 567.2 959 566.3 960 566.6 961 573.1 962 570.2 963 577.4 964 571.6 965 573.1 966 575.5 967 566.3 968 576.5 969 571.9 970 572.7 971 576.3 972 573.1 973 576.7 974 577.5 975 579.2 976 580.9 977 583.9 978 582.7 979 575.6 980 575.8 981 579.4 982 582.5 983 581.7 984 578.5 985 584.9 986 582.2 987 579.4 988 585.1 989 581.1 990 587.2 991 578.7 992 582.3 993 593.3 994 587.8 995 583.4 996 588.2 997 584.8 998 587.5 999 584.8 1000 579.8 1001 583.6 1002 580.1 1003 579.3 1004 576.1 1005 586.0 1006 583.6 1007 584.4 1008 588.9 1009 584.3 1010 586.0 1011 581.2 1012 585.7 1013 583.9 1014 587.3 1015 582.2 1016 576.4 1017 585.7 1018 582.3 1019 584.5 1020 582.2 1021 585.6 1022 583.1 1023 584.9 1024 583.5 1025 587.5 1026 591.7 1027 585.3 1028 586.8 1029 574.1 1030 585.6 1031 578.7 1032 580.7 1033 581.3 1034 582.3 1035 576.0 1036 573.6 1037 582.6 1038 581.3 1039 585.2 1040 574.6 1041 582.4 1042 580.1 1043 585.5 1044 583.3 1045 583.0 1046 572.9 1047 576.9 1048 584.0 1049 578.1 1050 582.2 1051 583.0 1052 583.7 1053 585.7 1054 582.5 1055 581.3 1056 582.6 1057 587.6 1058 590.1 1059 588.4 1060 583.4 1061 586.6 1062 591.7 1063 584.6 1064 592.4 1065 594.9 1066 593.9 1067 591.2 1068 592.9 1069 596.1 1070 594.0 1071 587.3 1072 597.6 1073 601.7 1074 599.2 1075 593.1 1076 596.0 1077 590.0 1078 592.8 1079 598.8 1080 593.8 1081 596.2 1082 598.3 1083 594.9 1084 591.2 1085 594.9 1086 596.3 1087 598.8 1088 595.0 1089 596.3 1090 599.6 1091 604.2 1092 595.4 1093 590.1 1094 599.2 1095 594.2 1096 595.4 1097 602.7 1098 600.7 1099 602.6 1100 604.8 1101 600.0 1102 597.8 1103 594.9 1104 606.7 1105 599.1 1106 600.1 1107 600.7 1108 601.3 1109 599.0 1110 596.4 1111 594.6 1112 595.2 1113 599.6 1114 602.1 1115 601.3 1116 600.6 1117 601.5 1118 599.3 1119 594.0 1120 603.9 1121 605.9 1122 611.0 1123 598.8 1124 593.9 1125 602.8 1126 598.6 1127 605.3 1128 594.7 1129 595.1 1130 593.9 1131 598.9 1132 601.4 1133 600.6 1134 611.3 1135 596.4 1136 602.3 1137 605.0 1138 597.5 1139 599.7 1140 594.6 1141 605.6 1142 595.4 1143 601.9 1144 599.7 1145 595.6 1146 600.4 1147 596.3 1148 601.2 1149 597.6 1150 597.7 1151 602.5 1152 598.8 1153 598.4 1154 603.2 1155 599.1 1156 606.7 1157 599.2 1158 602.0 1159 598.4 1160 599.4 1161 600.3 1162 598.0 1163 598.5 1164 605.0 1165 596.3 1166 598.7 1167 597.7 1168 601.8 1169 600.6 1170 602.1 1171 599.2 1172 599.5 1173 601.1 1174 600.8 1175 603.3 1176 595.1 1177 596.8 1178 597.3 1179 603.8 1180 603.4 1181 602.6 1182 605.1 1183 600.0 1184 599.4 1185 601.5 1186 600.4 1187 602.9 1188 600.0 1189 605.3 1190 596.5 1191 603.6 1192 602.9 1193 598.6 1194 602.4 1195 600.1 1196 598.9 1197 604.4 1198 598.2 1199 605.2 1200 598.4 1201 602.8 1202 610.8 1203 607.9 1204 603.3 1205 604.8 1206 596.8 1207 601.1 1208 604.1 1209 604.8 1210 604.3 1211 600.3 1212 600.5 1213 604.3 1214 604.7 1215 603.9 1216 594.5 1217 599.8 1218 600.4 1219 601.7 1220 599.6 1221 601.1 1222 596.8 1223 606.5 1224 600.8 1225 600.8 1226 599.1 1227 592.3 1228 603.1 1229 595.8 1230 606.7 1231 604.1 1232 601.7 1233 602.7 1234 599.3 1235 596.9 1236 605.7 1237 597.4 1238 598.9 1239 603.8 1240 598.5 1241 598.9 1242 602.9 1243 595.2 1244 605.7 1245 598.1 1246 601.2 1247 602.3 1248 599.5 1249 605.9 1250 596.4 1251 607.2 1252 602.5 1253 600.2 1254 600.8 1255 603.9 1256 607.1 1257 599.9 1258 605.0 1259 607.2 1260 600.2 1261 600.5 1262 603.4 1263 605.0 1264 606.6 1265 601.0 1266 596.9 1267 601.3 1268 605.5 1269 598.3 1270 605.7 1271 604.2 1272 609.6 1273 603.1 1274 606.8 1275 601.7 1276 595.8 1277 606.4 1278 608.4 1279 602.5 1280 603.0 1281 601.8 1282 607.3 1283 601.8 1284 602.5 1285 604.0 1286 605.8 1287 602.8 1288 601.6 1289 599.7 1290 606.5 1291 608.9 1292 603.7 1293 601.5 1294 603.7 1295 611.8 1296 607.3 1297 602.0 1298 603.8 1299 612.0 1300 604.4 1301 596.0 1302 607.5 1303 600.6 1304 608.0 1305 603.4 1306 608.9 1307 603.0 1308 602.3 1309 614.2 1310 605.1 1311 605.3 1312 601.9 1313 604.1 1314 611.8 1315 610.2 1316 605.7 1317 606.7 1318 603.1 1319 607.5 1320 602.1 1321 598.1 1322 611.0 1323 601.3 1324 606.7 1325 609.2 1326 603.8 1327 606.0 1328 606.4 1329 605.4 1330 606.2 1331 607.4 1332 606.4 1333 599.0 1334 607.7 1335 601.4 1336 603.9 1337 609.5 1338 609.4 1339 607.5 1340 606.7 1341 610.8 1342 606.2 1343 601.9 1344 602.0 1345 605.7 1346 608.5 1347 609.5 1348 603.9 1349 603.5 1350 607.5 1351 602.0 1352 607.2 1353 610.7 1354 604.6 1355 600.1 1356 604.4 1357 611.3 1358 604.9 1359 605.9 1360 603.3 1361 608.9 1362 601.6 1363 610.9 1364 606.3 1365 604.5 1366 613.4 1367 601.8 1368 608.1 1369 604.1 1370 606.0 1371 608.3 1372 607.2 1373 599.1 1374 610.1 1375 610.9 1376 600.8 1377 603.1 1378 609.2 1379 604.0 1380 603.6 1381 605.8 1382 605.8 1383 603.9 1384 606.1 1385 604.6 1386 604.7 1387 613.0 1388 615.5 1389 612.2 1390 599.6 1391 604.5 1392 608.2 1393 608.4 1394 603.2 1395 602.6 1396 607.2 1397 605.8 1398 603.1 1399 609.9 1400 608.3 1401 608.8 1402 604.3 1403 607.1 1404 606.1 1405 604.1 1406 607.7 1407 605.0 1408 602.5 1409 604.9 1410 605.6 1411 605.4 1412 609.1 1413 600.1 1414 607.4 1415 600.5 1416 602.6 1417 596.6 1418 601.6 1419 609.6 1420 597.2 1421 605.0 1422 604.1 1423 606.7 1424 611.1 1425 607.9 1426 607.3 1427 601.6 1428 603.0 1429 601.8 1430 604.7 1431 603.4 1432 601.7 1433 603.4 1434 606.1 1435 607.0 1436 608.1 1437 608.8 1438 607.0 1439 607.7 1440 609.5 1441 610.2 1442 607.8 1443 607.3 1444 599.7 1445 602.6 1446 604.4 1447 611.6 1448 601.4 1449 607.8 1450 614.2 1451 602.2 1452 606.6 1453 609.2 1454 605.2 1455 604.4 1456 604.2 1457 607.1 1458 600.4 1459 608.4 1460 603.1 1461 602.2 1462 607.1 1463 612.3 1464 601.9 1465 608.1 1466 604.2 1467 604.9 1468 605.0 1469 604.0 1470 596.1 1471 609.1 1472 607.9 1473 615.6 1474 605.1 1475 600.7 1476 598.7 1477 596.6 1478 602.2 1479 599.1 1480 603.6 1481 602.1 1482 596.6 1483 599.8 1484 592.4 1485 595.5 1486 592.8 1487 597.2 1488 595.0 1489 598.4 1490 593.7 1491 586.2 1492 591.0 1493 593.0 1494 590.6 1495 587.2 1496 591.3 1497 589.2 1498 591.0 1499 593.3 1500 588.4 1501 591.1 1502 587.6 1503 585.9 1504 596.8 1505 589.9 1506 595.2 1507 582.8 1508 583.9 1509 588.0 1510 599.6 1511 585.7 1512 589.6 1513 587.8 1514 587.1 1515 596.2 1516 590.0 1517 597.9 1518 590.6 1519 596.7 1520 589.3 1521 598.4 1522 584.6 1523 586.2 1524 589.8 1525 598.8 1526 593.6 1527 599.4 1528 588.9 1529 598.4 1530 589.2 1531 584.6 1532 591.5 1533 591.4 1534 596.1 1535 590.6 1536 593.0 1537 587.2 1538 587.6 1539 592.9 1540 594.1 1541 596.3 1542 595.4 1543 593.9 1544 597.9 1545 589.1 1546 590.7 1547 595.7 1548 595.4 1549 591.6 1550 592.7 1551 596.7 1552 593.8 1553 597.1 1554 591.6 1555 589.6 1556 591.1 1557 589.8 1558 592.6 1559 589.9 1560 594.9 1561 590.0 1562 586.5 1563 592.7 1564 590.5 1565 583.2 1566 586.5 1567 588.7 1568 591.3 1569 595.3 1570 590.4 1571 591.7 1572 596.5 1573 591.8 1574 586.8 1575 586.6 1576 584.7 1577 584.4 1578 583.9 1579 586.0 1580 580.1 1581 581.0 1582 582.9 1583 585.4 1584 581.0 1585 582.1 1586 582.0 1587 581.4 1588 595.0 1589 577.4 1590 580.9 1591 583.1 1592 581.4 1593 583.0 1594 581.5 1595 577.2 1596 582.8 1597 579.9 1598 581.1 1599 579.5 1600 579.8 1601 584.8 1602 573.1 1603 576.6 1604 574.4 1605 578.5 1606 573.9 1607 576.7 1608 575.6 1609 576.2 1610 572.6 1611 566.8 1612 563.4 1613 572.9 1614 570.5 1615 567.7 1616 572.5 1617 572.2 1618 568.7 1619 567.5 1620 564.7 1621 558.5 1622 558.0 1623 560.8 1624 559.6 1625 551.8 1626 556.2 1627 556.7 1628 552.8 1629 548.0 1630 543.7 1631 544.8 1632 541.9 1633 541.8 1634 540.4 1635 537.6 1636 541.5 1637 536.7 1638 537.5 1639 524.6 1640 529.1 1641 535.7 1642 526.5 1643 521.7 1644 522.8 1645 524.6 1646 523.2 1647 522.9 1648 516.3 1649 514.7 1650 509.2 1651 508.5 1652 500.9 1653 495.5 1654 495.0 1655 490.1 1656 492.5 1657 478.4 1658 485.2 1659 484.3 1660 472.0 1661 468.4 1662 473.1 1663 467.5 1664 455.5 1665 462.9 1666 459.0 1667 458.9 1668 453.4 1669 449.6 1670 449.0 1671 446.7 1672 452.4 1673 448.7 1674 428.2 1675 438.6 1676 440.2 1677 436.2 1678 445.7 1679 442.7 1680 443.8 1681 442.7 1682 446.8 1683 444.1 1684 446.7 1685 446.5 1686 450.2 1687 446.4 1688 442.6 1689 453.3 1690 455.2 1691 456.2 1692 463.1 1693 464.9 1694 468.9 1695 471.4 1696 469.7 1697 481.2 1698 479.0 1699 488.2 1700 488.9 1701 494.9 1702 495.2 1703 494.8 1704 502.2 1705 500.0 1706 514.4 1707 514.3 1708 516.2 1709 522.2 1710 528.4 1711 523.9 1712 527.4 1713 531.8 1714 534.0 1715 538.4 1716 539.0 1717 537.9 1718 545.6 1719 548.4 1720 547.5 1721 552.7 1722 548.6 1723 551.3 1724 548.8 1725 553.2 1726 560.7 1727 563.5 1728 565.0 1729 560.4 1730 565.5 1731 567.2 1732 571.3 1733 571.8 1734 565.9 1735 574.7 1736 577.4 1737 574.6 1738 576.8 1739 580.3 1740 575.6 1741 578.9 1742 577.1 1743 585.6 1744 581.6 1745 579.0 1746 583.1 1747 582.3 1748 579.6 1749 580.3 1750 588.4 1751 582.3 1752 586.3 1753 580.7 1754 581.7 1755 586.6 1756 585.7 1757 585.3 1758 583.5 1759 587.3 1760 582.0 1761 589.5 1762 583.3 1763 583.1 1764 585.2 1765 594.5 1766 574.8 1767 585.7 1768 584.5 1769 589.2 1770 589.0 1771 589.5 1772 585.8 1773 589.6 1774 589.8 1775 587.3 1776 587.3 1777 586.2 1778 586.6 1779 589.3 1780 594.7 1781 587.2 1782 592.8 1783 588.9 1784 587.7 1785 591.4 1786 586.2 1787 590.6 1788 587.8 1789 590.7 1790 590.2 1791 586.2 1792 586.8 1793 588.8 1794 589.8 1795 591.6 1796 589.5 1797 591.6 1798 589.3 1799 584.5 1800 582.8 1801 589.6 1802 587.3 1803 584.5 1804 582.2 1805 585.1 1806 583.8 1807 582.5 1808 581.2 1809 582.1 1810 581.0 1811 576.0 1812 574.5 1813 586.6 1814 584.3 1815 579.2 1816 580.3 1817 580.8 1818 576.5 1819 570.9 1820 572.9 1821 579.8 1822 578.1 1823 571.2 1824 573.3 1825 578.0 1826 573.5 1827 572.9 1828 563.6 1829 565.7 1830 570.7 1831 570.5 1832 572.0 1833 569.8 1834 570.6 1835 563.4 1836 565.8 1837 567.7 1838 564.2 1839 568.6 1840 562.4 1841 566.9 1842 564.9 1843 566.0 1844 565.3 1845 565.2 1846 560.2 1847 562.5 1848 566.5 1849 565.6 1850 559.2 1851 561.0 1852 566.2 1853 562.4 1854 567.7 1855 565.7 1856 565.5 1857 562.3 1858 563.3 1859 565.2 1860 560.0 1861 561.9 1862 568.3 1863 561.8 1864 563.5 1865 568.4 1866 574.4 1867 572.9 1868 570.9 1869 573.8 1870 576.5 1871 574.5 1872 579.7 1873 574.4 1874 576.0 1875 575.9 1876 576.8 1877 579.6 1878 578.9 1879 576.3 1880 583.6 1881 577.5 1882 582.8 1883 584.8 1884 583.4 1885 583.6 1886 588.7 1887 593.7 1888 580.9 1889 581.7 1890 585.2 1891 586.7 1892 592.2 1893 585.4 1894 586.4 1895 585.7 1896 588.5 1897 591.8 1898 590.0 1899 590.2 1900 596.3 1901 600.5 1902 598.3 1903 590.3 1904 594.7 1905 598.9 1906 598.5 1907 597.5 1908 603.0 1909 596.5 1910 600.1 1911 593.3 1912 600.3 1913 597.9 1914 598.1 1915 601.5 1916 594.4 1917 597.4 1918 602.4 1919 601.9 1920 601.8 1921 606.4 1922 605.2 1923 604.0 1924 604.3 1925 604.4 1926 608.9 1927 610.3 1928 602.2 1929 602.7 1930 615.7 1931 607.0 1932 610.2 1933 606.8 1934 600.1 1935 599.5 1936 606.3 1937 608.1 1938 606.9 1939 610.3 1940 610.0 1941 607.4 1942 622.1 1943 614.7 1944 610.3 1945 605.7 1946 603.7 1947 613.8 1948 608.7 1949 609.6 1950 620.0 1951 613.3 1952 608.7 1953 613.3 1954 610.4 1955 610.7 1956 614.9 1957 615.0 1958 614.3 1959 612.7 1960 611.3 1961 606.7 1962 612.8 1963 610.6 1964 608.0 1965 611.9 1966 617.3 1967 610.0 1968 614.7 1969 611.9 1970 609.5 1971 610.5 1972 612.5 1973 615.9 1974 617.3 1975 613.8 1976 610.2 1977 619.1 1978 616.9 1979 619.4 1980 616.8 1981 612.6 1982 603.7 1983 614.5 1984 616.2 1985 612.2 1986 616.6 1987 614.6 1988 608.6 1989 611.1 1990 611.3 1991 609.7 1992 616.7 1993 609.2 1994 615.1 1995 619.5 1996 609.5 1997 615.4 1998 619.6 1999 609.0 2000 608.1 2001 615.7 2002 612.6 2003 614.1 2004 614.4 2005 608.3 2006 610.5 2007 615.4 2008 607.4 2009 608.2 2010 609.5 2011 618.0 2012 607.6 2013 606.6 2014 612.8 2015 619.0 2016 611.0 2017 609.1 2018 609.3 2019 610.7 2020 611.3 2021 604.7 2022 607.3 2023 604.4 2024 603.1 2025 606.0 2026 604.0 2027 606.8 2028 605.4 2029 612.1 2030 604.5 2031 603.7 2032 603.2 2033 608.4 2034 603.1 2035 603.7 2036 606.0 2037 607.6 2038 603.4 2039 610.9 2040 608.1 2041 608.8 2042 609.9 2043 605.7 2044 606.0 2045 603.3 2046 602.4 2047 604.9 2048 602.1 2049 603.5 2050 600.3 2051 603.6 2052 597.8 2053 601.3 2054 599.3 2055 599.4 2056 595.8 2057 604.7 2058 595.7 2059 605.3 2060 600.2 2061 595.6 2062 599.4 2063 609.0 2064 594.4 2065 598.3 2066 593.8 2067 604.0 2068 603.0 2069 598.7 2070 600.0 2071 596.6 2072 600.0 2073 603.9 2074 593.7 2075 598.3 2076 598.7 2077 596.5 2078 598.2 2079 600.3 2080 595.4 2081 595.3 2082 599.9 2083 597.9 2084 606.0 2085 606.6 2086 610.4 2087 609.5 2088 604.8 2089 607.4 2090 605.5 2091 611.5 2092 610.0 2093 612.7 2094 609.5 2095 606.5 2096 610.3 2097 611.9 2098 608.8 2099 615.7 2100 612.1 2101 612.1 2102 616.1 2103 618.1 2104 618.3 2105 619.4 2106 613.2 2107 622.9 2108 612.9 2109 616.9 2110 614.9 2111 615.6 2112 619.5 2113 616.3 2114 619.0 2115 625.4 2116 621.4 2117 613.5 2118 615.6 2119 618.9 2120 620.4 2121 617.4 2122 613.7 2123 616.1 2124 624.2 2125 618.5 2126 617.4 2127 625.0 2128 618.1 2129 614.6 2130 616.5 2131 621.0 2132 616.9 2133 616.1 2134 620.1 2135 620.2 2136 617.9 2137 614.9 2138 621.0 2139 618.8 2140 617.3 2141 616.7 2142 618.3 2143 617.2 2144 616.3 2145 612.9 2146 618.0 2147 620.9 2148 617.6 2149 617.2 2150 620.2 2151 619.7 2152 623.5 2153 615.9 2154 620.4 2155 619.5 2156 620.8 2157 617.6 2158 621.3 2159 612.2 2160 615.3 2161 614.6 2162 623.6 2163 620.7 2164 614.7 2165 615.4 2166 621.7 2167 622.9 2168 622.6 2169 619.4 2170 619.7 2171 620.7 2172 616.1 2173 621.9 2174 619.2 2175 624.9 2176 613.0 2177 615.8 2178 620.8 2179 617.6 2180 618.2 2181 618.6 2182 623.2 2183 618.4 2184 619.9 2185 623.4 2186 622.0 2187 621.9 2188 619.0 2189 620.3 2190 618.2 2191 620.3 2192 621.7 2193 622.5 2194 623.1 2195 610.4 2196 623.4 2197 621.6 2198 624.3 2199 616.0 2200 618.6 2201 623.1 2202 623.3 2203 619.9 2204 620.5 2205 615.9 2206 624.6 2207 622.5 2208 620.5 2209 618.2 2210 623.5 2211 620.7 2212 622.8 2213 624.5 2214 626.4 2215 618.2 2216 628.5 2217 620.1 2218 622.5 2219 618.9 2220 621.3 2221 617.6 2222 619.2 2223 619.4 2224 621.4 2225 621.3 2226 617.8 2227 617.0 2228 614.7 2229 624.6 2230 618.0 2231 623.3 2232 617.7 2233 616.7 2234 622.8 2235 625.4 2236 622.3 2237 625.5 2238 624.7 2239 615.6 2240 617.0 2241 624.3 2242 622.8 2243 622.7 2244 616.6 2245 614.6 2246 621.6 2247 623.6 2248 621.6 2249 616.5 2250 619.7 2251 622.5 2252 627.4 2253 619.8 2254 624.3 2255 620.4 2256 625.8 2257 620.6 2258 619.4 2259 624.6 2260 621.5 2261 623.6 2262 621.7 2263 622.8 2264 622.3 2265 617.9 2266 618.2 2267 622.1 2268 619.6 2269 619.8 2270 623.8 2271 620.2 2272 620.7 2273 619.3 2274 624.3 2275 618.6 2276 623.0 2277 620.4 2278 622.0 2279 621.3 2280 619.2" stroke="#00CCCC"/></g><g font-size="84"><text x="417" y="147">D band</text><text x="914" y="128.5">G band</text><text x="1536" y="389">G' band</text></g><g font-size="61"><text x="1802" y="534" transform="matrix(1 0 0 1.0400 0 -21.36)">CNF&#8722;SO<tspan font-size="41" dy="16">3</tspan><tspan dy="-16">HPTMS</tspan></text><text x="1907" y="735.5" transform="matrix(1 0 0 1.0400 0 -29.42)">CNF&#8722;MPTMS</text><text x="1904" y="909.3" transform="matrix(1 0 0 1.0400 0 -36.37)">CNF&#8722;APTMS</text><text x="2039" y="1088.4" transform="matrix(1 0 0 1.0400 0 -43.54)">CNF&#8722;ILs</text><text x="2061" y="1259.7" transform="matrix(1 0 0 1.0400 0 -50.39)">CNF&#8722;S</text><text x="2073" y="1434.2" transform="matrix(1 0 0 1.0400 0 -57.37)">CNF&#8722;O</text><text x="2112" y="1594.7" transform="matrix(1 0 0 1.0400 0 -63.79)">CNF</text></g><text x="826.2" y="1917" font-size="84">Raman shift (Cm<tspan font-size="58" dy="-33.8" dx="-0.5">-</tspan><tspan font-family="NanumGothic, 'Liberation Sans', sans-serif" font-size="54" stroke="#000" stroke-width="1.2" dy="-0.2" dx="0">1</tspan><tspan dy="34" dx="-0.5">)</tspan></text></svg>
</body></html>
